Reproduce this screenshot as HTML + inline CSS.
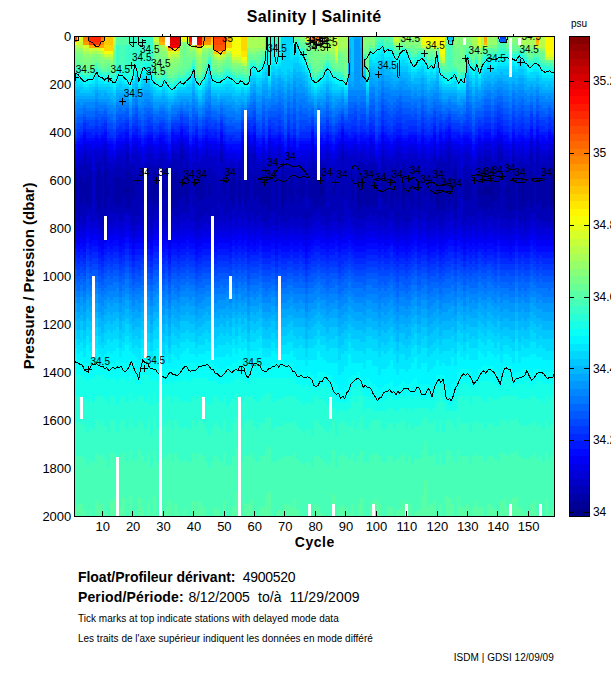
<!DOCTYPE html><html><head><meta charset="utf-8"><title>Salinity</title><style>html,body{margin:0;padding:0;background:#fff;font-family:"Liberation Sans",sans-serif}body{width:611px;height:675px;overflow:hidden;position:relative}</style></head><body><svg width="611" height="675" viewBox="0 0 611 675" style="position:absolute;left:0;top:0">
<defs><clipPath id="cp"><rect x="74" y="36" width="480" height="480"/></clipPath></defs>
<rect x="74" y="36" width="480" height="480" fill="#40ffc0"/>
<g clip-path="url(#cp)">
<g shape-rendering="crispEdges" transform="translate(73.75 36) scale(3.042000 3.000000)">
<path fill="#000097" d="M17 51h1v1h-1zM26 49h1v4h-1zM68 46h1v11h-1zM81 50h1v3h-1zM93 47h1v9h-1zM96 51h1v1h-1zM108 49h1v5h-1zM119 47h1v9h-1zM133 51h1v2h-1zM135 50h1v3h-1zM136 50h1v3h-1zM137 48h1v7h-1zM139 50h1v3h-1zM142 51h1v1h-1zM146 51h1v1h-1zM147 47h1v8h-1zM157 46h1v10h-1z"/>
<path fill="#0000a7" d="M0 48h1v6h-1zM2 47h1v9h-1zM3 49h1v5h-1zM4 47h1v9h-1zM5 45h1v12h-1zM7 47h1v8h-1zM8 45h1v13h-1zM10 45h1v12h-1zM11 50h1v3h-1zM13 47h1v9h-1zM14 47h1v9h-1zM15 47h1v10h-1zM16 48h1v6h-1zM17 45h1v6h-1zM17 52h1v5h-1zM18 46h1v11h-1zM19 48h1v6h-1zM24 47h1v9h-1zM25 48h1v7h-1zM26 44h1v5h-1zM26 53h1v4h-1zM27 46h1v10h-1zM28 46h1v11h-1zM29 48h1v6h-1zM30 51h1v1h-1zM31 46h1v15h-1zM32 46h1v11h-1zM33 45h1v12h-1zM34 47h1v8h-1zM35 40h1v1h-1zM35 48h1v6h-1zM36 49h1v4h-1zM37 47h1v9h-1zM40 49h1v4h-1zM41 47h1v8h-1zM42 48h1v6h-1zM44 49h1v4h-1zM49 50h1v3h-1zM51 48h1v7h-1zM52 47h1v9h-1zM54 47h1v9h-1zM56 47h1v9h-1zM57 48h1v6h-1zM59 47h1v8h-1zM60 49h1v4h-1zM61 47h1v9h-1zM62 46h1v11h-1zM63 47h1v9h-1zM64 45h1v13h-1zM66 47h1v10h-1zM68 43h1v3h-1zM68 57h1v2h-1zM69 48h1v7h-1zM70 50h1v3h-1zM71 47h1v9h-1zM73 51h1v2h-1zM74 47h1v9h-1zM75 48h1v6h-1zM76 59h1v2h-1zM77 48h1v6h-1zM78 47h1v8h-1zM79 46h1v11h-1zM80 47h1v9h-1zM81 44h1v6h-1zM81 53h1v4h-1zM82 47h1v9h-1zM85 50h1v3h-1zM88 40h1v1h-1zM88 50h1v3h-1zM91 47h1v8h-1zM93 43h1v4h-1zM93 56h1v3h-1zM94 46h1v11h-1zM95 47h1v9h-1zM96 45h1v6h-1zM96 52h1v5h-1zM97 47h1v9h-1zM98 46h1v11h-1zM99 45h1v12h-1zM101 48h1v6h-1zM102 47h1v9h-1zM104 46h1v11h-1zM105 51h1v2h-1zM106 47h1v8h-1zM106 59h1v1h-1zM108 44h1v5h-1zM108 54h1v4h-1zM109 50h1v3h-1zM110 48h1v7h-1zM111 45h1v12h-1zM113 46h1v11h-1zM115 50h1v3h-1zM116 51h1v1h-1zM117 47h1v8h-1zM118 50h1v3h-1zM119 44h1v3h-1zM119 56h1v2h-1zM120 47h1v11h-1zM121 45h1v13h-1zM122 48h1v7h-1zM123 47h1v9h-1zM124 49h1v5h-1zM125 45h1v13h-1zM128 47h1v8h-1zM129 48h1v7h-1zM130 49h1v5h-1zM133 45h1v6h-1zM133 53h1v4h-1zM134 45h1v12h-1zM135 44h1v6h-1zM135 53h1v5h-1zM136 44h1v6h-1zM136 53h1v4h-1zM137 44h1v4h-1zM137 55h1v3h-1zM138 47h1v8h-1zM139 44h1v6h-1zM139 53h1v4h-1zM141 51h1v2h-1zM142 45h1v6h-1zM142 52h1v6h-1zM143 45h1v14h-1zM144 45h1v13h-1zM146 45h1v6h-1zM146 52h1v6h-1zM147 44h1v3h-1zM147 55h1v3h-1zM148 46h1v11h-1zM149 47h1v8h-1zM150 45h1v12h-1zM152 47h1v9h-1zM153 48h1v7h-1zM154 45h1v13h-1zM155 47h1v10h-1zM156 46h1v11h-1zM157 43h1v3h-1zM157 56h1v3h-1z"/>
<path fill="#0000b7" d="M0 44h1v4h-1zM0 54h1v5h-1zM1 46h1v16h-1zM2 43h1v4h-1zM2 56h1v4h-1zM3 39h1v10h-1zM3 54h1v8h-1zM4 43h1v4h-1zM4 56h1v2h-1zM5 42h1v3h-1zM5 57h1v2h-1zM7 42h1v5h-1zM7 55h1v4h-1zM8 42h1v3h-1zM8 58h1v3h-1zM9 46h1v17h-1zM10 40h1v5h-1zM10 57h1v3h-1zM11 44h1v6h-1zM11 53h1v5h-1zM12 45h1v14h-1zM13 44h1v3h-1zM13 56h1v3h-1zM14 43h1v4h-1zM14 56h1v3h-1zM15 42h1v5h-1zM15 57h1v5h-1zM16 44h1v4h-1zM16 54h1v5h-1zM17 39h1v6h-1zM17 57h1v2h-1zM18 43h1v3h-1zM18 57h1v3h-1zM19 43h1v5h-1zM19 54h1v8h-1zM20 46h1v14h-1zM21 45h1v15h-1zM22 47h1v9h-1zM23 45h1v16h-1zM24 42h1v5h-1zM24 56h1v4h-1zM25 43h1v5h-1zM25 55h1v7h-1zM26 43h1v1h-1zM26 57h1v2h-1zM27 43h1v3h-1zM27 56h1v2h-1zM28 41h1v5h-1zM28 57h1v2h-1zM29 44h1v4h-1zM29 54h1v8h-1zM30 45h1v6h-1zM30 52h1v7h-1zM31 43h1v3h-1zM31 61h1v2h-1zM32 39h1v7h-1zM32 57h1v2h-1zM33 41h1v4h-1zM33 57h1v3h-1zM34 42h1v5h-1zM34 55h1v6h-1zM35 38h1v2h-1zM35 41h1v7h-1zM35 54h1v5h-1zM36 44h1v5h-1zM36 53h1v6h-1zM37 42h1v5h-1zM37 56h1v3h-1zM38 49h1v4h-1zM39 47h1v10h-1zM40 44h1v5h-1zM40 53h1v9h-1zM41 44h1v3h-1zM41 55h1v6h-1zM42 44h1v4h-1zM42 54h1v6h-1zM43 45h1v14h-1zM44 44h1v5h-1zM44 53h1v7h-1zM45 45h1v12h-1zM46 46h1v15h-1zM47 47h1v8h-1zM47 58h1v2h-1zM48 39h1v3h-1zM48 47h1v10h-1zM49 44h1v6h-1zM49 53h1v7h-1zM50 45h1v14h-1zM51 44h1v4h-1zM51 55h1v6h-1zM52 44h1v3h-1zM52 56h1v2h-1zM53 48h1v6h-1zM53 59h1v1h-1zM54 44h1v3h-1zM54 56h1v3h-1zM55 48h1v6h-1zM56 43h1v4h-1zM56 56h1v2h-1zM57 39h1v9h-1zM57 54h1v8h-1zM58 45h1v14h-1zM59 39h1v8h-1zM59 55h1v6h-1zM60 44h1v5h-1zM60 53h1v7h-1zM61 44h1v3h-1zM61 56h1v3h-1zM62 43h1v3h-1zM62 57h1v5h-1zM63 44h1v3h-1zM63 56h1v6h-1zM64 41h1v4h-1zM64 58h1v3h-1zM65 46h1v13h-1zM66 43h1v4h-1zM66 57h1v6h-1zM67 47h1v13h-1zM68 42h1v1h-1zM68 59h1v3h-1zM69 44h1v4h-1zM69 55h1v7h-1zM70 44h1v6h-1zM70 53h1v8h-1zM71 43h1v4h-1zM71 56h1v4h-1zM72 45h1v16h-1zM73 45h1v6h-1zM73 53h1v8h-1zM74 43h1v4h-1zM74 56h1v4h-1zM75 44h1v4h-1zM75 54h1v7h-1zM76 50h1v3h-1zM76 57h1v2h-1zM76 61h1v3h-1zM77 44h1v4h-1zM77 54h1v7h-1zM78 40h1v7h-1zM78 55h1v5h-1zM79 43h1v3h-1zM79 57h1v2h-1zM80 40h1v7h-1zM80 56h1v2h-1zM81 42h1v2h-1zM81 57h1v3h-1zM82 43h1v4h-1zM82 56h1v4h-1zM83 48h1v7h-1zM83 57h1v5h-1zM84 45h1v15h-1zM85 44h1v6h-1zM85 53h1v6h-1zM86 45h1v13h-1zM87 47h1v15h-1zM88 38h1v2h-1zM88 41h1v9h-1zM88 53h1v7h-1zM89 47h1v8h-1zM90 45h1v13h-1zM91 43h1v4h-1zM91 55h1v5h-1zM92 46h1v15h-1zM93 42h1v1h-1zM93 59h1v2h-1zM94 42h1v4h-1zM94 57h1v4h-1zM95 43h1v4h-1zM95 56h1v5h-1zM96 43h1v2h-1zM96 57h1v3h-1zM97 42h1v5h-1zM97 56h1v3h-1zM98 42h1v4h-1zM98 57h1v3h-1zM99 43h1v2h-1zM99 57h1v2h-1zM100 49h1v5h-1zM100 58h1v3h-1zM101 40h1v8h-1zM101 54h1v6h-1zM102 43h1v4h-1zM102 56h1v5h-1zM103 45h1v16h-1zM104 43h1v3h-1zM104 57h1v2h-1zM105 44h1v7h-1zM105 53h1v8h-1zM106 42h1v5h-1zM106 55h1v4h-1zM106 60h1v3h-1zM107 46h1v15h-1zM108 42h1v2h-1zM108 58h1v4h-1zM109 44h1v6h-1zM109 53h1v9h-1zM110 43h1v5h-1zM110 55h1v7h-1zM111 42h1v3h-1zM111 57h1v3h-1zM112 45h1v13h-1zM113 43h1v3h-1zM113 57h1v4h-1zM114 46h1v12h-1zM115 44h1v6h-1zM115 53h1v6h-1zM116 45h1v6h-1zM116 52h1v10h-1zM117 44h1v3h-1zM117 55h1v6h-1zM118 40h1v2h-1zM118 44h1v6h-1zM118 53h1v8h-1zM119 42h1v2h-1zM119 58h1v2h-1zM120 40h1v7h-1zM120 58h1v5h-1zM121 42h1v3h-1zM121 58h1v3h-1zM122 42h1v6h-1zM122 55h1v4h-1zM123 39h1v8h-1zM123 56h1v3h-1zM124 44h1v5h-1zM124 54h1v4h-1zM125 42h1v3h-1zM125 58h1v3h-1zM126 47h1v10h-1zM127 49h1v5h-1zM128 43h1v4h-1zM128 55h1v7h-1zM129 43h1v5h-1zM129 55h1v5h-1zM130 44h1v5h-1zM130 54h1v7h-1zM131 46h1v14h-1zM132 47h1v14h-1zM133 41h1v4h-1zM133 57h1v2h-1zM134 42h1v3h-1zM134 57h1v3h-1zM135 40h1v4h-1zM135 58h1v3h-1zM136 40h1v4h-1zM136 57h1v3h-1zM137 42h1v2h-1zM137 58h1v2h-1zM138 42h1v5h-1zM138 55h1v6h-1zM139 38h1v6h-1zM139 57h1v2h-1zM140 39h1v3h-1zM140 45h1v16h-1zM141 45h1v6h-1zM141 53h1v8h-1zM142 42h1v3h-1zM142 58h1v3h-1zM143 43h1v2h-1zM143 59h1v3h-1zM144 40h1v5h-1zM144 58h1v3h-1zM145 45h1v13h-1zM146 42h1v3h-1zM146 58h1v4h-1zM147 41h1v3h-1zM147 58h1v3h-1zM148 43h1v3h-1zM148 57h1v5h-1zM149 43h1v4h-1zM149 55h1v6h-1zM150 39h1v6h-1zM150 57h1v2h-1zM151 46h1v13h-1zM152 39h1v8h-1zM152 56h1v5h-1zM153 43h1v5h-1zM153 55h1v6h-1zM154 42h1v3h-1zM154 58h1v4h-1zM155 43h1v4h-1zM155 57h1v5h-1zM156 40h1v6h-1zM156 57h1v5h-1zM157 41h1v2h-1zM157 59h1v3h-1z"/>
<path fill="#0000c7" d="M0 43h1v1h-1zM0 59h1v3h-1zM1 42h1v4h-1zM1 62h1v3h-1zM2 41h1v2h-1zM2 60h1v3h-1zM3 38h1v1h-1zM3 62h1v2h-1zM4 40h1v3h-1zM4 58h1v2h-1zM5 40h1v2h-1zM5 59h1v3h-1zM6 45h1v17h-1zM7 39h1v3h-1zM7 59h1v2h-1zM8 40h1v2h-1zM8 61h1v3h-1zM9 39h1v7h-1zM9 63h1v2h-1zM10 38h1v2h-1zM10 60h1v3h-1zM11 42h1v2h-1zM11 58h1v4h-1zM12 42h1v3h-1zM12 59h1v4h-1zM13 42h1v2h-1zM13 59h1v3h-1zM14 40h1v3h-1zM14 59h1v2h-1zM15 39h1v3h-1zM15 62h1v2h-1zM16 40h1v4h-1zM16 59h1v3h-1zM17 38h1v1h-1zM17 59h1v1h-1zM18 42h1v1h-1zM18 60h1v3h-1zM19 39h1v4h-1zM19 62h1v3h-1zM20 39h1v7h-1zM20 60h1v3h-1zM21 40h1v5h-1zM21 60h1v3h-1zM22 43h1v4h-1zM22 56h1v6h-1zM23 42h1v3h-1zM23 61h1v3h-1zM24 39h1v3h-1zM24 60h1v3h-1zM25 39h1v4h-1zM25 62h1v3h-1zM26 41h1v2h-1zM26 59h1v3h-1zM27 41h1v2h-1zM27 58h1v3h-1zM28 39h1v2h-1zM28 59h1v2h-1zM29 39h1v5h-1zM29 62h1v2h-1zM30 41h1v4h-1zM30 59h1v3h-1zM31 42h1v1h-1zM31 63h1v3h-1zM32 38h1v1h-1zM32 59h1v3h-1zM33 39h1v2h-1zM33 60h1v3h-1zM34 39h1v3h-1zM34 61h1v3h-1zM35 36h1v2h-1zM35 59h1v3h-1zM36 38h1v6h-1zM36 59h1v3h-1zM37 39h1v3h-1zM37 59h1v2h-1zM38 44h1v5h-1zM38 53h1v9h-1zM39 42h1v5h-1zM39 57h1v5h-1zM40 38h1v6h-1zM40 62h1v3h-1zM41 42h1v2h-1zM41 61h1v3h-1zM42 40h1v4h-1zM42 60h1v3h-1zM43 38h1v7h-1zM43 59h1v3h-1zM44 40h1v4h-1zM44 60h1v3h-1zM45 40h1v5h-1zM45 57h1v4h-1zM46 40h1v6h-1zM46 61h1v3h-1zM47 43h1v4h-1zM47 55h1v3h-1zM47 60h1v3h-1zM48 38h1v1h-1zM48 42h1v5h-1zM48 57h1v5h-1zM49 41h1v3h-1zM49 60h1v3h-1zM50 43h1v2h-1zM50 59h1v3h-1zM51 42h1v2h-1zM51 61h1v3h-1zM52 42h1v2h-1zM52 58h1v3h-1zM53 44h1v4h-1zM53 54h1v5h-1zM53 60h1v3h-1zM54 42h1v2h-1zM54 59h1v2h-1zM55 39h1v9h-1zM55 54h1v9h-1zM56 42h1v1h-1zM56 58h1v3h-1zM57 37h1v2h-1zM57 62h1v2h-1zM58 39h1v6h-1zM58 59h1v3h-1zM59 37h1v2h-1zM59 61h1v2h-1zM60 42h1v2h-1zM60 60h1v3h-1zM61 42h1v2h-1zM61 59h1v3h-1zM62 40h1v3h-1zM62 62h1v2h-1zM63 42h1v2h-1zM63 62h1v2h-1zM64 39h1v2h-1zM64 61h1v3h-1zM65 41h1v5h-1zM65 59h1v4h-1zM66 41h1v2h-1zM66 63h1v2h-1zM67 39h1v8h-1zM67 60h1v3h-1zM68 41h1v1h-1zM68 62h1v2h-1zM69 43h1v1h-1zM69 62h1v2h-1zM70 39h1v5h-1zM70 61h1v3h-1zM71 42h1v1h-1zM71 60h1v3h-1zM72 41h1v4h-1zM72 61h1v3h-1zM73 43h1v2h-1zM73 61h1v3h-1zM74 42h1v1h-1zM74 60h1v3h-1zM75 42h1v2h-1zM75 61h1v3h-1zM76 44h1v6h-1zM76 53h1v4h-1zM76 64h1v2h-1zM77 42h1v2h-1zM77 61h1v3h-1zM78 38h1v2h-1zM78 60h1v3h-1zM79 42h1v1h-1zM79 59h1v3h-1zM80 38h1v2h-1zM80 58h1v3h-1zM81 41h1v1h-1zM81 60h1v3h-1zM82 42h1v1h-1zM82 60h1v3h-1zM83 39h1v9h-1zM83 55h1v2h-1zM83 62h1v2h-1zM84 42h1v3h-1zM84 60h1v3h-1zM85 43h1v1h-1zM85 59h1v3h-1zM86 41h1v4h-1zM86 58h1v4h-1zM87 40h1v7h-1zM87 62h1v2h-1zM88 36h1v2h-1zM88 60h1v3h-1zM89 39h1v8h-1zM89 55h1v7h-1zM90 40h1v5h-1zM90 58h1v3h-1zM91 40h1v3h-1zM91 60h1v3h-1zM92 39h1v7h-1zM92 61h1v3h-1zM93 41h1v1h-1zM93 61h1v3h-1zM94 39h1v3h-1zM94 61h1v3h-1zM95 40h1v3h-1zM95 61h1v3h-1zM96 41h1v2h-1zM96 60h1v2h-1zM97 39h1v3h-1zM97 59h1v3h-1zM98 40h1v2h-1zM98 60h1v3h-1zM99 42h1v1h-1zM99 59h1v3h-1zM100 44h1v5h-1zM100 54h1v4h-1zM100 61h1v3h-1zM101 38h1v2h-1zM101 60h1v3h-1zM102 40h1v3h-1zM102 61h1v3h-1zM103 41h1v4h-1zM103 61h1v2h-1zM104 41h1v2h-1zM104 59h1v3h-1zM105 40h1v4h-1zM105 61h1v3h-1zM106 39h1v3h-1zM106 63h1v2h-1zM107 39h1v7h-1zM107 61h1v3h-1zM108 41h1v1h-1zM108 62h1v2h-1zM109 41h1v3h-1zM109 62h1v3h-1zM110 39h1v4h-1zM110 62h1v2h-1zM111 40h1v2h-1zM111 60h1v2h-1zM112 39h1v6h-1zM112 58h1v3h-1zM113 41h1v2h-1zM113 61h1v3h-1zM114 39h1v7h-1zM114 58h1v4h-1zM115 41h1v3h-1zM115 59h1v3h-1zM116 42h1v3h-1zM116 62h1v3h-1zM117 41h1v3h-1zM117 61h1v3h-1zM118 38h1v2h-1zM118 42h1v2h-1zM118 61h1v3h-1zM119 41h1v1h-1zM119 60h1v3h-1zM120 38h1v2h-1zM120 63h1v2h-1zM121 40h1v2h-1zM121 61h1v3h-1zM122 38h1v4h-1zM122 59h1v3h-1zM123 37h1v2h-1zM123 59h1v3h-1zM124 40h1v4h-1zM124 58h1v3h-1zM125 40h1v2h-1zM125 61h1v3h-1zM126 40h1v7h-1zM126 57h1v4h-1zM127 44h1v5h-1zM127 54h1v9h-1zM128 39h1v4h-1zM128 62h1v3h-1zM129 39h1v4h-1zM129 60h1v3h-1zM130 40h1v4h-1zM130 61h1v3h-1zM131 43h1v3h-1zM131 60h1v3h-1zM132 42h1v5h-1zM132 61h1v3h-1zM133 39h1v2h-1zM133 59h1v3h-1zM134 40h1v2h-1zM134 60h1v3h-1zM135 38h1v2h-1zM135 61h1v3h-1zM136 38h1v2h-1zM136 60h1v2h-1zM137 41h1v1h-1zM137 60h1v3h-1zM138 39h1v3h-1zM138 61h1v3h-1zM139 36h1v2h-1zM139 59h1v3h-1zM140 37h1v2h-1zM140 42h1v3h-1zM140 61h1v3h-1zM141 40h1v5h-1zM141 61h1v3h-1zM142 40h1v2h-1zM142 61h1v3h-1zM143 42h1v1h-1zM143 62h1v3h-1zM144 38h1v2h-1zM144 61h1v3h-1zM145 41h1v4h-1zM145 58h1v3h-1zM146 40h1v2h-1zM146 62h1v2h-1zM147 39h1v2h-1zM147 61h1v2h-1zM148 41h1v2h-1zM148 62h1v3h-1zM149 40h1v3h-1zM149 61h1v3h-1zM150 37h1v2h-1zM150 59h1v3h-1zM151 42h1v4h-1zM151 59h1v3h-1zM152 37h1v2h-1zM152 61h1v3h-1zM153 40h1v3h-1zM153 61h1v2h-1zM154 39h1v3h-1zM154 62h1v2h-1zM155 40h1v3h-1zM155 62h1v2h-1zM156 38h1v2h-1zM156 62h1v2h-1zM157 39h1v2h-1zM157 62h1v2h-1z"/>
<path fill="#0000d7" d="M0 41h1v2h-1zM0 62h1v3h-1zM1 39h1v3h-1zM1 65h1v2h-1zM2 39h1v2h-1zM2 63h1v2h-1zM3 36h1v2h-1zM3 64h1v2h-1zM4 38h1v2h-1zM4 60h1v3h-1zM5 38h1v2h-1zM5 62h1v3h-1zM6 38h1v7h-1zM6 62h1v2h-1zM7 37h1v2h-1zM7 61h1v3h-1zM8 38h1v2h-1zM8 64h1v2h-1zM9 37h1v2h-1zM9 65h1v2h-1zM10 36h1v2h-1zM10 63h1v2h-1zM11 40h1v2h-1zM11 62h1v2h-1zM12 40h1v2h-1zM12 63h1v2h-1zM13 41h1v1h-1zM13 62h1v2h-1zM14 38h1v2h-1zM14 61h1v3h-1zM15 38h1v1h-1zM15 64h1v2h-1zM16 38h1v2h-1zM16 62h1v3h-1zM17 36h1v2h-1zM17 60h1v3h-1zM18 40h1v2h-1zM18 63h1v3h-1zM19 37h1v2h-1zM19 65h1v2h-1zM20 37h1v2h-1zM20 63h1v2h-1zM21 38h1v2h-1zM21 63h1v2h-1zM22 41h1v2h-1zM22 62h1v3h-1zM23 39h1v3h-1zM23 64h1v2h-1zM24 37h1v2h-1zM24 63h1v2h-1zM25 37h1v2h-1zM25 65h1v2h-1zM26 40h1v1h-1zM26 62h1v2h-1zM27 39h1v2h-1zM27 61h1v3h-1zM28 37h1v2h-1zM28 61h1v3h-1zM29 38h1v1h-1zM29 64h1v2h-1zM30 39h1v2h-1zM30 62h1v3h-1zM31 41h1v1h-1zM31 66h1v2h-1zM32 36h1v2h-1zM32 62h1v3h-1zM33 37h1v2h-1zM33 63h1v2h-1zM34 37h1v2h-1zM34 64h1v2h-1zM35 35h1v1h-1zM35 62h1v3h-1zM36 37h1v1h-1zM36 62h1v3h-1zM37 37h1v2h-1zM37 61h1v3h-1zM38 41h1v3h-1zM38 62h1v3h-1zM39 39h1v3h-1zM39 62h1v3h-1zM40 37h1v1h-1zM40 65h1v2h-1zM41 40h1v2h-1zM41 64h1v2h-1zM42 39h1v1h-1zM42 63h1v2h-1zM43 37h1v1h-1zM43 62h1v3h-1zM44 38h1v2h-1zM44 63h1v2h-1zM45 38h1v2h-1zM45 61h1v3h-1zM46 38h1v2h-1zM46 64h1v2h-1zM47 40h1v3h-1zM47 63h1v2h-1zM48 36h1v2h-1zM48 62h1v3h-1zM49 39h1v2h-1zM49 63h1v2h-1zM50 41h1v2h-1zM50 62h1v3h-1zM51 40h1v2h-1zM51 64h1v2h-1zM52 41h1v1h-1zM52 61h1v3h-1zM53 42h1v2h-1zM53 63h1v2h-1zM54 41h1v1h-1zM54 61h1v3h-1zM55 37h1v2h-1zM55 63h1v2h-1zM56 40h1v2h-1zM56 61h1v3h-1zM57 36h1v1h-1zM57 64h1v2h-1zM58 37h1v2h-1zM58 62h1v3h-1zM59 36h1v1h-1zM59 63h1v3h-1zM60 40h1v2h-1zM60 63h1v2h-1zM61 41h1v1h-1zM61 62h1v2h-1zM62 38h1v2h-1zM62 64h1v2h-1zM63 41h1v1h-1zM63 64h1v2h-1zM64 37h1v2h-1zM64 64h1v2h-1zM65 39h1v2h-1zM65 63h1v2h-1zM66 39h1v2h-1zM66 65h1v2h-1zM67 37h1v2h-1zM67 63h1v2h-1zM68 39h1v2h-1zM68 64h1v2h-1zM69 41h1v2h-1zM69 64h1v2h-1zM70 37h1v2h-1zM70 64h1v2h-1zM71 40h1v2h-1zM71 63h1v2h-1zM72 39h1v2h-1zM72 64h1v2h-1zM73 41h1v2h-1zM73 64h1v2h-1zM74 40h1v2h-1zM74 63h1v2h-1zM75 40h1v2h-1zM75 64h1v2h-1zM76 40h1v4h-1zM76 66h1v2h-1zM77 39h1v3h-1zM77 64h1v2h-1zM78 36h1v2h-1zM78 63h1v2h-1zM79 41h1v1h-1zM79 62h1v3h-1zM80 37h1v1h-1zM80 61h1v3h-1zM81 39h1v2h-1zM81 63h1v2h-1zM82 40h1v2h-1zM82 63h1v2h-1zM83 38h1v1h-1zM83 64h1v2h-1zM84 39h1v3h-1zM84 63h1v2h-1zM85 41h1v2h-1zM85 62h1v3h-1zM86 39h1v2h-1zM86 62h1v3h-1zM87 38h1v2h-1zM87 64h1v2h-1zM88 35h1v1h-1zM88 63h1v2h-1zM89 38h1v1h-1zM89 62h1v3h-1zM90 38h1v2h-1zM90 61h1v3h-1zM91 38h1v2h-1zM91 63h1v2h-1zM92 37h1v2h-1zM92 64h1v2h-1zM93 39h1v2h-1zM93 64h1v2h-1zM94 38h1v1h-1zM94 64h1v2h-1zM95 38h1v2h-1zM95 64h1v2h-1zM96 39h1v2h-1zM96 62h1v3h-1zM97 37h1v2h-1zM97 62h1v3h-1zM98 38h1v2h-1zM98 63h1v2h-1zM99 41h1v1h-1zM99 62h1v3h-1zM100 40h1v4h-1zM100 64h1v2h-1zM101 36h1v2h-1zM101 63h1v2h-1zM102 38h1v2h-1zM102 64h1v2h-1zM103 39h1v2h-1zM103 63h1v3h-1zM104 40h1v1h-1zM104 62h1v3h-1zM105 38h1v2h-1zM105 64h1v2h-1zM106 37h1v2h-1zM106 65h1v2h-1zM107 37h1v2h-1zM107 64h1v2h-1zM108 39h1v2h-1zM108 64h1v2h-1zM109 39h1v2h-1zM109 65h1v2h-1zM110 37h1v2h-1zM110 64h1v2h-1zM111 38h1v2h-1zM111 62h1v3h-1zM112 38h1v1h-1zM112 61h1v3h-1zM113 40h1v1h-1zM113 64h1v2h-1zM114 37h1v2h-1zM114 62h1v3h-1zM115 39h1v2h-1zM115 62h1v3h-1zM116 40h1v2h-1zM116 65h1v2h-1zM117 39h1v2h-1zM117 64h1v2h-1zM118 36h1v2h-1zM118 64h1v2h-1zM119 40h1v1h-1zM119 63h1v2h-1zM120 36h1v2h-1zM120 65h1v2h-1zM121 38h1v2h-1zM121 64h1v2h-1zM122 36h1v2h-1zM122 62h1v3h-1zM123 35h1v2h-1zM123 62h1v3h-1zM124 38h1v2h-1zM124 61h1v3h-1zM125 38h1v2h-1zM125 64h1v2h-1zM126 38h1v2h-1zM126 61h1v3h-1zM127 39h1v5h-1zM127 63h1v2h-1zM128 38h1v1h-1zM128 65h1v2h-1zM129 37h1v2h-1zM129 63h1v2h-1zM130 38h1v2h-1zM130 64h1v2h-1zM131 41h1v2h-1zM131 63h1v2h-1zM132 39h1v3h-1zM132 64h1v2h-1zM133 37h1v2h-1zM133 62h1v3h-1zM134 38h1v2h-1zM134 63h1v2h-1zM135 36h1v2h-1zM135 64h1v2h-1zM136 36h1v2h-1zM136 62h1v3h-1zM137 39h1v2h-1zM137 63h1v2h-1zM138 37h1v2h-1zM138 64h1v2h-1zM139 35h1v1h-1zM139 62h1v3h-1zM140 36h1v1h-1zM140 64h1v2h-1zM141 38h1v2h-1zM141 64h1v2h-1zM142 38h1v2h-1zM142 64h1v2h-1zM143 40h1v2h-1zM143 65h1v2h-1zM144 36h1v2h-1zM144 64h1v2h-1zM145 39h1v2h-1zM145 61h1v3h-1zM146 38h1v2h-1zM146 64h1v2h-1zM147 37h1v2h-1zM147 63h1v3h-1zM148 39h1v2h-1zM148 65h1v2h-1zM149 38h1v2h-1zM149 64h1v2h-1zM150 35h1v2h-1zM150 62h1v2h-1zM151 39h1v3h-1zM151 62h1v3h-1zM152 35h1v2h-1zM152 64h1v2h-1zM153 38h1v2h-1zM153 63h1v3h-1zM154 38h1v1h-1zM154 64h1v2h-1zM155 38h1v2h-1zM155 64h1v2h-1zM156 36h1v2h-1zM156 64h1v2h-1zM157 37h1v2h-1zM157 64h1v2h-1z"/>
<path fill="#0000e7" d="M0 40h1v1h-1zM0 65h1v2h-1zM1 38h1v1h-1zM1 67h1v2h-1zM2 37h1v2h-1zM2 65h1v2h-1zM3 35h1v1h-1zM3 66h1v2h-1zM4 36h1v2h-1zM4 63h1v2h-1zM5 36h1v2h-1zM5 65h1v2h-1zM6 37h1v1h-1zM6 64h1v2h-1zM7 36h1v1h-1zM7 64h1v2h-1zM8 37h1v1h-1zM8 66h1v2h-1zM9 36h1v1h-1zM9 67h1v2h-1zM10 35h1v1h-1zM10 65h1v2h-1zM11 38h1v2h-1zM11 64h1v2h-1zM12 38h1v2h-1zM12 65h1v2h-1zM13 40h1v1h-1zM13 64h1v2h-1zM14 37h1v1h-1zM14 64h1v2h-1zM15 36h1v2h-1zM15 66h1v2h-1zM16 36h1v2h-1zM16 65h1v2h-1zM17 35h1v1h-1zM17 63h1v2h-1zM18 39h1v1h-1zM18 66h1v1h-1zM19 36h1v1h-1zM19 67h1v2h-1zM20 35h1v2h-1zM20 65h1v2h-1zM21 37h1v1h-1zM21 65h1v2h-1zM22 39h1v2h-1zM22 65h1v2h-1zM23 37h1v2h-1zM23 66h1v2h-1zM24 36h1v1h-1zM24 65h1v2h-1zM25 36h1v1h-1zM25 67h1v2h-1zM26 38h1v2h-1zM26 64h1v2h-1zM27 37h1v2h-1zM27 64h1v2h-1zM28 35h1v2h-1zM28 64h1v2h-1zM29 36h1v2h-1zM29 66h1v2h-1zM30 38h1v1h-1zM30 65h1v2h-1zM31 39h1v2h-1zM31 68h1v2h-1zM32 35h1v1h-1zM32 65h1v2h-1zM33 36h1v1h-1zM33 65h1v2h-1zM34 35h1v2h-1zM34 66h1v2h-1zM35 34h1v1h-1zM35 65h1v2h-1zM36 35h1v2h-1zM36 65h1v2h-1zM37 36h1v1h-1zM37 64h1v2h-1zM38 39h1v2h-1zM38 65h1v2h-1zM39 37h1v2h-1zM39 65h1v2h-1zM40 35h1v2h-1zM40 67h1v2h-1zM41 38h1v2h-1zM41 66h1v2h-1zM42 37h1v2h-1zM42 65h1v2h-1zM43 35h1v2h-1zM43 65h1v2h-1zM44 36h1v2h-1zM44 65h1v2h-1zM45 37h1v1h-1zM45 64h1v2h-1zM46 36h1v2h-1zM46 66h1v2h-1zM47 38h1v2h-1zM47 65h1v2h-1zM48 35h1v1h-1zM48 65h1v2h-1zM49 37h1v2h-1zM49 65h1v2h-1zM50 39h1v2h-1zM50 65h1v2h-1zM51 39h1v1h-1zM51 66h1v2h-1zM52 39h1v2h-1zM52 64h1v2h-1zM53 39h1v3h-1zM53 65h1v2h-1zM54 40h1v1h-1zM54 64h1v2h-1zM55 36h1v1h-1zM55 65h1v2h-1zM56 38h1v2h-1zM56 64h1v2h-1zM57 34h1v2h-1zM57 66h1v2h-1zM58 36h1v1h-1zM58 65h1v2h-1zM59 34h1v2h-1zM59 66h1v2h-1zM60 39h1v1h-1zM60 65h1v2h-1zM61 39h1v2h-1zM61 64h1v2h-1zM62 37h1v1h-1zM62 66h1v2h-1zM63 39h1v2h-1zM63 66h1v2h-1zM64 35h1v2h-1zM64 66h1v2h-1zM65 37h1v2h-1zM65 65h1v2h-1zM66 37h1v2h-1zM66 67h1v2h-1zM67 36h1v1h-1zM67 65h1v2h-1zM68 38h1v1h-1zM68 66h1v2h-1zM69 40h1v1h-1zM69 66h1v2h-1zM70 36h1v1h-1zM70 66h1v2h-1zM71 38h1v2h-1zM71 65h1v2h-1zM72 37h1v2h-1zM72 66h1v2h-1zM73 40h1v1h-1zM73 66h1v2h-1zM74 38h1v2h-1zM74 65h1v2h-1zM75 38h1v2h-1zM75 66h1v2h-1zM76 38h1v2h-1zM76 68h1v2h-1zM77 38h1v1h-1zM77 66h1v2h-1zM78 35h1v1h-1zM78 65h1v2h-1zM79 39h1v2h-1zM79 65h1v2h-1zM80 35h1v2h-1zM80 64h1v2h-1zM81 37h1v2h-1zM81 65h1v2h-1zM82 38h1v2h-1zM82 65h1v2h-1zM83 36h1v2h-1zM83 66h1v2h-1zM84 38h1v1h-1zM84 65h1v2h-1zM85 39h1v2h-1zM85 65h1v2h-1zM86 37h1v2h-1zM86 65h1v1h-1zM87 36h1v2h-1zM87 66h1v2h-1zM88 34h1v1h-1zM88 65h1v2h-1zM89 36h1v2h-1zM89 65h1v2h-1zM90 37h1v1h-1zM90 64h1v2h-1zM91 36h1v2h-1zM91 65h1v2h-1zM92 36h1v1h-1zM92 66h1v2h-1zM93 38h1v1h-1zM93 66h1v2h-1zM94 36h1v2h-1zM94 66h1v2h-1zM95 36h1v2h-1zM95 66h1v2h-1zM96 37h1v2h-1zM96 65h1v2h-1zM97 35h1v2h-1zM97 65h1v2h-1zM98 36h1v2h-1zM98 65h1v2h-1zM99 40h1v1h-1zM99 65h1v2h-1zM100 38h1v2h-1zM100 66h1v2h-1zM101 35h1v1h-1zM101 65h1v2h-1zM102 36h1v2h-1zM102 66h1v2h-1zM103 37h1v2h-1zM103 66h1v2h-1zM104 38h1v2h-1zM104 65h1v2h-1zM105 36h1v2h-1zM105 66h1v2h-1zM106 35h1v2h-1zM106 67h1v2h-1zM107 35h1v2h-1zM107 66h1v2h-1zM108 37h1v2h-1zM108 66h1v2h-1zM109 37h1v2h-1zM109 67h1v2h-1zM110 36h1v1h-1zM110 66h1v2h-1zM111 36h1v2h-1zM111 65h1v2h-1zM112 36h1v2h-1zM112 64h1v2h-1zM113 38h1v2h-1zM113 66h1v2h-1zM114 35h1v2h-1zM114 65h1v2h-1zM115 37h1v2h-1zM115 65h1v2h-1zM116 38h1v2h-1zM116 67h1v2h-1zM117 37h1v2h-1zM117 66h1v2h-1zM118 35h1v1h-1zM118 66h1v2h-1zM119 38h1v2h-1zM119 65h1v2h-1zM120 35h1v1h-1zM120 67h1v2h-1zM121 36h1v2h-1zM121 66h1v2h-1zM122 35h1v1h-1zM122 65h1v2h-1zM123 34h1v1h-1zM123 65h1v2h-1zM124 36h1v2h-1zM124 64h1v2h-1zM125 36h1v2h-1zM125 66h1v2h-1zM126 36h1v2h-1zM126 64h1v2h-1zM127 37h1v2h-1zM127 65h1v2h-1zM128 36h1v2h-1zM128 67h1v2h-1zM129 36h1v1h-1zM129 65h1v2h-1zM130 36h1v2h-1zM130 66h1v2h-1zM131 40h1v1h-1zM131 65h1v2h-1zM132 37h1v2h-1zM132 66h1v2h-1zM133 35h1v2h-1zM133 65h1v2h-1zM134 36h1v2h-1zM134 65h1v2h-1zM135 35h1v1h-1zM135 66h1v2h-1zM136 35h1v1h-1zM136 65h1v2h-1zM137 37h1v2h-1zM137 65h1v2h-1zM138 35h1v2h-1zM138 66h1v2h-1zM139 34h1v1h-1zM139 65h1v2h-1zM140 34h1v2h-1zM140 66h1v2h-1zM141 36h1v2h-1zM141 66h1v2h-1zM142 36h1v2h-1zM142 66h1v2h-1zM143 38h1v2h-1zM143 67h1v2h-1zM144 35h1v1h-1zM144 66h1v2h-1zM145 37h1v2h-1zM145 64h1v2h-1zM146 36h1v2h-1zM146 66h1v2h-1zM147 35h1v2h-1zM147 66h1v2h-1zM148 37h1v2h-1zM148 67h1v2h-1zM149 36h1v2h-1zM149 66h1v2h-1zM150 34h1v1h-1zM150 64h1v2h-1zM151 37h1v2h-1zM151 65h1v2h-1zM152 34h1v1h-1zM152 66h1v2h-1zM153 36h1v2h-1zM153 66h1v2h-1zM154 36h1v2h-1zM154 66h1v2h-1zM155 36h1v2h-1zM155 66h1v2h-1zM156 35h1v1h-1zM156 66h1v2h-1zM157 36h1v1h-1zM157 66h1v2h-1z"/>
<path fill="#0000f7" d="M0 38h1v2h-1zM0 67h1v2h-1zM1 36h1v2h-1zM1 69h1v1h-1zM2 36h1v1h-1zM2 67h1v2h-1zM3 33h1v2h-1zM3 68h1v2h-1zM4 35h1v1h-1zM4 65h1v2h-1zM5 35h1v1h-1zM5 67h1v2h-1zM6 35h1v2h-1zM6 66h1v2h-1zM7 34h1v2h-1zM7 66h1v2h-1zM8 35h1v2h-1zM8 68h1v2h-1zM9 34h1v2h-1zM9 69h1v2h-1zM10 34h1v1h-1zM10 67h1v2h-1zM11 36h1v2h-1zM11 66h1v2h-1zM12 36h1v2h-1zM12 67h1v2h-1zM13 38h1v2h-1zM13 66h1v2h-1zM14 35h1v2h-1zM14 66h1v2h-1zM15 35h1v1h-1zM15 68h1v2h-1zM16 35h1v1h-1zM16 67h1v2h-1zM17 34h1v1h-1zM17 65h1v2h-1zM18 37h1v2h-1zM18 67h1v2h-1zM19 34h1v2h-1zM19 69h1v2h-1zM20 34h1v1h-1zM20 67h1v2h-1zM21 35h1v2h-1zM21 67h1v2h-1zM22 37h1v2h-1zM22 67h1v2h-1zM23 36h1v1h-1zM23 68h1v2h-1zM24 34h1v2h-1zM24 67h1v2h-1zM25 34h1v2h-1zM25 69h1v2h-1zM26 36h1v2h-1zM26 66h1v2h-1zM27 36h1v1h-1zM27 66h1v2h-1zM28 34h1v1h-1zM28 66h1v2h-1zM29 35h1v1h-1zM29 68h1v2h-1zM30 36h1v2h-1zM30 67h1v2h-1zM31 38h1v1h-1zM31 70h1v1h-1zM32 34h1v1h-1zM32 67h1v2h-1zM33 35h1v1h-1zM33 67h1v2h-1zM34 34h1v1h-1zM34 68h1v2h-1zM35 32h1v2h-1zM35 67h1v2h-1zM36 34h1v1h-1zM36 67h1v2h-1zM37 34h1v2h-1zM37 66h1v2h-1zM38 37h1v2h-1zM38 67h1v2h-1zM39 36h1v1h-1zM39 67h1v2h-1zM40 34h1v1h-1zM40 69h1v2h-1zM41 37h1v1h-1zM41 68h1v2h-1zM42 35h1v2h-1zM42 67h1v2h-1zM43 34h1v1h-1zM43 67h1v2h-1zM44 35h1v1h-1zM44 67h1v2h-1zM45 35h1v2h-1zM45 66h1v2h-1zM46 35h1v1h-1zM46 68h1v2h-1zM47 36h1v2h-1zM47 67h1v2h-1zM48 33h1v2h-1zM48 67h1v2h-1zM49 36h1v1h-1zM49 67h1v2h-1zM50 38h1v1h-1zM50 67h1v2h-1zM51 37h1v2h-1zM51 68h1v2h-1zM52 38h1v1h-1zM52 66h1v2h-1zM53 38h1v1h-1zM53 67h1v2h-1zM54 38h1v2h-1zM54 66h1v2h-1zM55 35h1v1h-1zM55 67h1v2h-1zM56 37h1v1h-1zM56 66h1v2h-1zM57 33h1v1h-1zM57 68h1v2h-1zM58 35h1v1h-1zM58 67h1v2h-1zM59 33h1v1h-1zM59 68h1v2h-1zM60 37h1v2h-1zM60 67h1v2h-1zM61 37h1v2h-1zM61 66h1v2h-1zM62 35h1v2h-1zM62 68h1v2h-1zM63 38h1v1h-1zM63 68h1v2h-1zM64 34h1v1h-1zM64 68h1v2h-1zM65 35h1v2h-1zM65 67h1v2h-1zM66 36h1v1h-1zM66 69h1v2h-1zM67 34h1v2h-1zM67 67h1v2h-1zM68 36h1v2h-1zM68 68h1v2h-1zM69 39h1v1h-1zM69 68h1v2h-1zM70 34h1v2h-1zM70 68h1v2h-1zM71 37h1v1h-1zM71 67h1v2h-1zM72 35h1v2h-1zM72 68h1v2h-1zM73 38h1v2h-1zM73 68h1v2h-1zM74 36h1v2h-1zM74 67h1v2h-1zM75 36h1v2h-1zM75 68h1v2h-1zM76 36h1v2h-1zM76 70h1v2h-1zM77 36h1v2h-1zM77 68h1v2h-1zM78 34h1v1h-1zM78 67h1v2h-1zM79 37h1v2h-1zM79 67h1v1h-1zM80 34h1v1h-1zM80 66h1v2h-1zM81 36h1v1h-1zM81 67h1v2h-1zM82 36h1v2h-1zM82 67h1v2h-1zM83 35h1v1h-1zM83 68h1v2h-1zM84 36h1v2h-1zM84 67h1v2h-1zM85 38h1v1h-1zM85 67h1v2h-1zM86 36h1v1h-1zM86 66h1v2h-1zM87 35h1v1h-1zM87 68h1v2h-1zM88 32h1v2h-1zM88 67h1v2h-1zM89 35h1v1h-1zM89 67h1v2h-1zM90 35h1v2h-1zM90 66h1v2h-1zM91 35h1v1h-1zM91 67h1v2h-1zM92 34h1v2h-1zM92 68h1v2h-1zM93 36h1v2h-1zM93 68h1v2h-1zM94 35h1v1h-1zM94 68h1v2h-1zM95 35h1v1h-1zM95 68h1v2h-1zM96 36h1v1h-1zM96 67h1v2h-1zM97 34h1v1h-1zM97 67h1v2h-1zM98 35h1v1h-1zM98 67h1v2h-1zM99 38h1v2h-1zM99 67h1v2h-1zM100 36h1v2h-1zM100 68h1v2h-1zM101 33h1v2h-1zM101 67h1v2h-1zM102 35h1v1h-1zM102 68h1v2h-1zM103 35h1v2h-1zM103 68h1v2h-1zM104 36h1v2h-1zM104 67h1v2h-1zM105 35h1v1h-1zM105 68h1v2h-1zM106 34h1v1h-1zM106 69h1v2h-1zM107 34h1v1h-1zM107 68h1v2h-1zM108 35h1v2h-1zM108 68h1v2h-1zM109 35h1v2h-1zM109 69h1v2h-1zM110 34h1v2h-1zM110 68h1v2h-1zM111 35h1v1h-1zM111 67h1v2h-1zM112 34h1v2h-1zM112 66h1v2h-1zM113 36h1v2h-1zM113 68h1v2h-1zM114 34h1v1h-1zM114 67h1v2h-1zM115 36h1v1h-1zM115 67h1v2h-1zM116 36h1v2h-1zM116 69h1v2h-1zM117 35h1v2h-1zM117 68h1v2h-1zM118 33h1v2h-1zM118 68h1v2h-1zM119 36h1v2h-1zM119 67h1v2h-1zM120 33h1v2h-1zM120 69h1v2h-1zM121 35h1v1h-1zM121 68h1v2h-1zM122 34h1v1h-1zM122 67h1v2h-1zM123 33h1v1h-1zM123 67h1v1h-1zM124 35h1v1h-1zM124 66h1v2h-1zM125 35h1v1h-1zM125 68h1v2h-1zM126 35h1v1h-1zM126 66h1v2h-1zM127 36h1v1h-1zM127 67h1v2h-1zM128 34h1v2h-1zM128 69h1v2h-1zM129 34h1v2h-1zM129 67h1v2h-1zM130 35h1v1h-1zM130 68h1v2h-1zM131 38h1v2h-1zM131 67h1v2h-1zM132 36h1v1h-1zM132 68h1v2h-1zM133 34h1v1h-1zM133 67h1v2h-1zM134 35h1v1h-1zM134 67h1v2h-1zM135 34h1v1h-1zM135 68h1v2h-1zM136 34h1v1h-1zM136 67h1v2h-1zM137 35h1v2h-1zM137 67h1v2h-1zM138 34h1v1h-1zM138 68h1v2h-1zM139 32h1v2h-1zM139 67h1v1h-1zM140 33h1v1h-1zM140 68h1v2h-1zM141 35h1v1h-1zM141 68h1v2h-1zM142 35h1v1h-1zM142 68h1v2h-1zM143 36h1v2h-1zM143 69h1v2h-1zM144 34h1v1h-1zM144 68h1v2h-1zM145 35h1v2h-1zM145 66h1v2h-1zM146 35h1v1h-1zM146 68h1v2h-1zM147 34h1v1h-1zM147 68h1v2h-1zM148 35h1v2h-1zM148 69h1v1h-1zM149 35h1v1h-1zM149 68h1v2h-1zM150 33h1v1h-1zM150 66h1v2h-1zM151 35h1v2h-1zM151 67h1v2h-1zM152 33h1v1h-1zM152 68h1v2h-1zM153 35h1v1h-1zM153 68h1v2h-1zM154 34h1v2h-1zM154 68h1v2h-1zM155 35h1v1h-1zM155 68h1v2h-1zM156 33h1v2h-1zM156 68h1v2h-1zM157 34h1v2h-1zM157 68h1v2h-1z"/>
<path fill="#0008ff" d="M0 36h1v2h-1zM0 69h1v2h-1zM1 35h1v1h-1zM1 70h1v2h-1zM2 34h1v2h-1zM2 69h1v2h-1zM3 32h1v1h-1zM3 70h1v2h-1zM4 34h1v1h-1zM4 67h1v2h-1zM5 34h1v1h-1zM5 69h1v2h-1zM6 34h1v1h-1zM6 68h1v2h-1zM7 33h1v1h-1zM7 68h1v2h-1zM8 34h1v1h-1zM8 70h1v2h-1zM9 33h1v1h-1zM9 71h1v2h-1zM10 32h1v2h-1zM10 69h1v2h-1zM11 35h1v1h-1zM11 68h1v2h-1zM12 35h1v1h-1zM12 69h1v2h-1zM13 36h1v2h-1zM13 68h1v2h-1zM14 34h1v1h-1zM14 68h1v2h-1zM15 33h1v2h-1zM15 70h1v2h-1zM16 34h1v1h-1zM16 69h1v2h-1zM17 32h1v2h-1zM17 67h1v2h-1zM18 35h1v2h-1zM18 69h1v2h-1zM19 33h1v1h-1zM19 71h1v2h-1zM20 33h1v1h-1zM20 69h1v2h-1zM21 34h1v1h-1zM21 69h1v2h-1zM22 36h1v1h-1zM22 69h1v2h-1zM23 34h1v2h-1zM23 70h1v2h-1zM24 33h1v1h-1zM24 69h1v2h-1zM25 33h1v1h-1zM25 71h1v2h-1zM26 35h1v1h-1zM26 68h1v2h-1zM27 34h1v2h-1zM27 68h1v2h-1zM28 33h1v1h-1zM28 68h1v2h-1zM29 33h1v2h-1zM29 70h1v2h-1zM30 35h1v1h-1zM30 69h1v2h-1zM31 36h1v2h-1zM31 71h1v3h-1zM32 32h1v2h-1zM32 69h1v2h-1zM33 33h1v2h-1zM33 69h1v2h-1zM34 33h1v1h-1zM34 70h1v2h-1zM35 31h1v1h-1zM35 69h1v2h-1zM36 33h1v1h-1zM36 69h1v2h-1zM37 33h1v1h-1zM37 68h1v2h-1zM38 36h1v1h-1zM38 69h1v2h-1zM39 34h1v2h-1zM39 69h1v2h-1zM40 33h1v1h-1zM40 71h1v2h-1zM41 35h1v2h-1zM41 70h1v2h-1zM42 34h1v1h-1zM42 69h1v2h-1zM43 33h1v1h-1zM43 69h1v2h-1zM44 34h1v1h-1zM44 69h1v2h-1zM45 34h1v1h-1zM45 68h1v2h-1zM46 34h1v1h-1zM46 70h1v2h-1zM47 35h1v1h-1zM47 69h1v2h-1zM48 32h1v1h-1zM48 69h1v2h-1zM49 35h1v1h-1zM49 69h1v2h-1zM50 36h1v2h-1zM50 69h1v2h-1zM51 36h1v1h-1zM51 70h1v2h-1zM52 36h1v2h-1zM52 68h1v2h-1zM53 36h1v2h-1zM53 69h1v2h-1zM54 36h1v2h-1zM54 68h1v2h-1zM55 33h1v2h-1zM55 69h1v2h-1zM56 35h1v2h-1zM56 68h1v2h-1zM57 32h1v1h-1zM57 70h1v2h-1zM58 33h1v2h-1zM58 69h1v2h-1zM59 32h1v1h-1zM59 70h1v2h-1zM60 35h1v2h-1zM60 69h1v2h-1zM61 36h1v1h-1zM61 68h1v2h-1zM62 34h1v1h-1zM62 70h1v2h-1zM63 36h1v2h-1zM63 70h1v2h-1zM64 33h1v1h-1zM64 70h1v2h-1zM65 34h1v1h-1zM65 69h1v2h-1zM66 34h1v2h-1zM66 71h1v2h-1zM67 33h1v1h-1zM67 69h1v2h-1zM68 35h1v1h-1zM68 70h1v2h-1zM69 37h1v2h-1zM69 70h1v2h-1zM70 33h1v1h-1zM70 70h1v2h-1zM71 35h1v2h-1zM71 69h1v2h-1zM72 34h1v1h-1zM72 70h1v2h-1zM73 37h1v1h-1zM73 70h1v2h-1zM74 35h1v1h-1zM74 69h1v2h-1zM75 35h1v1h-1zM75 70h1v2h-1zM76 35h1v1h-1zM76 72h1v2h-1zM77 35h1v1h-1zM77 70h1v2h-1zM78 32h1v2h-1zM78 69h1v2h-1zM79 36h1v1h-1zM79 68h1v2h-1zM80 33h1v1h-1zM80 68h1v2h-1zM81 34h1v2h-1zM81 69h1v2h-1zM82 35h1v1h-1zM82 69h1v2h-1zM83 33h1v2h-1zM83 70h1v2h-1zM84 35h1v1h-1zM84 69h1v2h-1zM85 36h1v2h-1zM85 69h1v2h-1zM86 34h1v2h-1zM86 68h1v2h-1zM87 34h1v1h-1zM87 70h1v2h-1zM88 31h1v1h-1zM88 69h1v2h-1zM89 33h1v2h-1zM89 69h1v2h-1zM90 34h1v1h-1zM90 68h1v2h-1zM91 34h1v1h-1zM91 69h1v2h-1zM92 33h1v1h-1zM92 70h1v2h-1zM93 35h1v1h-1zM93 70h1v2h-1zM94 33h1v2h-1zM94 70h1v2h-1zM95 34h1v1h-1zM95 70h1v2h-1zM96 34h1v2h-1zM96 69h1v2h-1zM97 33h1v1h-1zM97 69h1v2h-1zM98 33h1v2h-1zM98 69h1v2h-1zM99 36h1v2h-1zM99 69h1v2h-1zM100 35h1v1h-1zM100 70h1v2h-1zM101 32h1v1h-1zM101 69h1v2h-1zM102 33h1v2h-1zM102 70h1v2h-1zM103 34h1v1h-1zM103 70h1v1h-1zM104 35h1v1h-1zM104 69h1v1h-1zM105 34h1v1h-1zM105 70h1v2h-1zM106 33h1v1h-1zM106 71h1v2h-1zM107 33h1v1h-1zM107 70h1v2h-1zM108 34h1v1h-1zM108 70h1v2h-1zM109 34h1v1h-1zM109 71h1v2h-1zM110 33h1v1h-1zM110 70h1v2h-1zM111 33h1v2h-1zM111 69h1v2h-1zM112 33h1v1h-1zM112 68h1v2h-1zM113 35h1v1h-1zM113 70h1v2h-1zM114 33h1v1h-1zM114 69h1v2h-1zM115 34h1v2h-1zM115 69h1v2h-1zM116 35h1v1h-1zM116 71h1v2h-1zM117 34h1v1h-1zM117 70h1v2h-1zM118 32h1v1h-1zM118 70h1v2h-1zM119 35h1v1h-1zM119 69h1v2h-1zM120 32h1v1h-1zM120 71h1v2h-1zM121 34h1v1h-1zM121 70h1v2h-1zM122 32h1v2h-1zM122 69h1v2h-1zM123 31h1v2h-1zM123 68h1v2h-1zM124 34h1v1h-1zM124 68h1v2h-1zM125 34h1v1h-1zM125 70h1v2h-1zM126 33h1v2h-1zM126 68h1v2h-1zM127 34h1v2h-1zM127 69h1v2h-1zM128 33h1v1h-1zM128 71h1v2h-1zM129 33h1v1h-1zM129 69h1v2h-1zM130 34h1v1h-1zM130 70h1v2h-1zM131 36h1v2h-1zM131 69h1v2h-1zM132 34h1v2h-1zM132 70h1v2h-1zM133 33h1v1h-1zM133 69h1v2h-1zM134 34h1v1h-1zM134 69h1v2h-1zM135 32h1v2h-1zM135 70h1v2h-1zM136 32h1v2h-1zM136 69h1v2h-1zM137 34h1v1h-1zM137 69h1v2h-1zM138 33h1v1h-1zM138 70h1v2h-1zM139 31h1v1h-1zM139 68h1v2h-1zM140 32h1v1h-1zM140 70h1v2h-1zM141 33h1v2h-1zM141 70h1v2h-1zM142 33h1v2h-1zM142 70h1v2h-1zM143 35h1v1h-1zM143 71h1v2h-1zM144 32h1v2h-1zM144 70h1v2h-1zM145 34h1v1h-1zM145 68h1v2h-1zM146 33h1v2h-1zM146 70h1v2h-1zM147 33h1v1h-1zM147 70h1v2h-1zM148 34h1v1h-1zM148 70h1v2h-1zM149 34h1v1h-1zM149 70h1v2h-1zM150 31h1v2h-1zM150 68h1v2h-1zM151 34h1v1h-1zM151 69h1v2h-1zM152 31h1v2h-1zM152 70h1v2h-1zM153 33h1v2h-1zM153 70h1v2h-1zM154 33h1v1h-1zM154 70h1v2h-1zM155 34h1v1h-1zM155 70h1v2h-1zM156 32h1v1h-1zM156 70h1v2h-1zM157 33h1v1h-1zM157 70h1v2h-1z"/>
<path fill="#0018ff" d="M0 35h1v1h-1zM0 71h1v2h-1zM1 34h1v1h-1zM1 72h1v2h-1zM2 33h1v1h-1zM2 71h1v2h-1zM3 31h1v1h-1zM3 72h1v2h-1zM4 32h1v2h-1zM4 69h1v2h-1zM5 32h1v2h-1zM5 71h1v2h-1zM6 33h1v1h-1zM6 70h1v2h-1zM7 32h1v1h-1zM7 70h1v2h-1zM8 33h1v1h-1zM8 72h1v2h-1zM9 32h1v1h-1zM9 73h1v2h-1zM10 31h1v1h-1zM10 71h1v2h-1zM11 34h1v1h-1zM11 70h1v2h-1zM12 34h1v1h-1zM12 71h1v2h-1zM13 35h1v1h-1zM13 70h1v2h-1zM14 33h1v1h-1zM14 70h1v2h-1zM15 32h1v1h-1zM15 72h1v2h-1zM16 32h1v2h-1zM16 71h1v2h-1zM17 31h1v1h-1zM17 69h1v2h-1zM18 34h1v1h-1zM18 71h1v2h-1zM19 32h1v1h-1zM19 73h1v2h-1zM20 31h1v2h-1zM20 71h1v2h-1zM21 33h1v1h-1zM21 71h1v2h-1zM22 34h1v2h-1zM22 71h1v2h-1zM23 33h1v1h-1zM23 72h1v2h-1zM24 32h1v1h-1zM24 71h1v2h-1zM25 32h1v1h-1zM25 73h1v2h-1zM26 34h1v1h-1zM26 70h1v2h-1zM27 33h1v1h-1zM27 70h1v2h-1zM28 32h1v1h-1zM28 70h1v2h-1zM29 32h1v1h-1zM29 72h1v2h-1zM30 33h1v2h-1zM30 71h1v2h-1zM31 35h1v1h-1zM31 74h1v2h-1zM32 31h1v1h-1zM32 71h1v2h-1zM33 32h1v1h-1zM33 71h1v2h-1zM34 32h1v1h-1zM34 72h1v2h-1zM35 30h1v1h-1zM35 71h1v2h-1zM36 31h1v2h-1zM36 71h1v2h-1zM37 32h1v1h-1zM37 70h1v2h-1zM38 35h1v1h-1zM38 71h1v2h-1zM39 33h1v1h-1zM39 71h1v2h-1zM40 31h1v2h-1zM40 73h1v2h-1zM41 34h1v1h-1zM41 72h1v2h-1zM42 33h1v1h-1zM42 71h1v2h-1zM43 31h1v2h-1zM43 71h1v2h-1zM44 32h1v2h-1zM44 71h1v2h-1zM45 33h1v1h-1zM45 70h1v2h-1zM46 32h1v2h-1zM46 72h1v2h-1zM47 34h1v1h-1zM47 71h1v2h-1zM48 31h1v1h-1zM48 71h1v2h-1zM49 33h1v2h-1zM49 71h1v2h-1zM50 35h1v1h-1zM50 71h1v2h-1zM51 34h1v2h-1zM51 72h1v2h-1zM52 35h1v1h-1zM52 70h1v2h-1zM53 35h1v1h-1zM53 71h1v2h-1zM54 35h1v1h-1zM54 70h1v2h-1zM55 32h1v1h-1zM55 71h1v2h-1zM56 34h1v1h-1zM56 70h1v2h-1zM57 31h1v1h-1zM57 72h1v2h-1zM58 32h1v1h-1zM58 71h1v2h-1zM59 30h1v2h-1zM59 72h1v1h-1zM60 34h1v1h-1zM60 71h1v2h-1zM61 34h1v2h-1zM61 70h1v2h-1zM62 33h1v1h-1zM62 72h1v2h-1zM63 35h1v1h-1zM63 72h1v2h-1zM64 31h1v2h-1zM64 72h1v2h-1zM65 33h1v1h-1zM65 71h1v2h-1zM66 33h1v1h-1zM66 73h1v2h-1zM67 32h1v1h-1zM67 71h1v2h-1zM68 33h1v2h-1zM68 72h1v2h-1zM69 35h1v2h-1zM69 72h1v2h-1zM70 32h1v1h-1zM70 72h1v2h-1zM71 34h1v1h-1zM71 71h1v2h-1zM72 33h1v1h-1zM72 72h1v2h-1zM73 35h1v2h-1zM73 72h1v2h-1zM74 34h1v1h-1zM74 71h1v2h-1zM75 34h1v1h-1zM75 72h1v2h-1zM76 34h1v1h-1zM76 74h1v2h-1zM77 34h1v1h-1zM77 72h1v2h-1zM78 31h1v1h-1zM78 71h1v2h-1zM79 34h1v2h-1zM79 70h1v2h-1zM80 31h1v2h-1zM80 70h1v2h-1zM81 33h1v1h-1zM81 71h1v2h-1zM82 34h1v1h-1zM82 71h1v2h-1zM83 32h1v1h-1zM83 72h1v2h-1zM84 33h1v2h-1zM84 71h1v2h-1zM85 35h1v1h-1zM85 71h1v2h-1zM86 33h1v1h-1zM86 70h1v2h-1zM87 32h1v2h-1zM87 72h1v2h-1zM88 30h1v1h-1zM88 71h1v2h-1zM89 32h1v1h-1zM89 71h1v2h-1zM90 33h1v1h-1zM90 70h1v2h-1zM91 32h1v2h-1zM91 71h1v2h-1zM92 32h1v1h-1zM92 72h1v2h-1zM93 33h1v2h-1zM93 72h1v2h-1zM94 32h1v1h-1zM94 72h1v2h-1zM95 32h1v2h-1zM95 72h1v2h-1zM96 33h1v1h-1zM96 71h1v2h-1zM97 31h1v2h-1zM97 71h1v2h-1zM98 32h1v1h-1zM98 71h1v2h-1zM99 35h1v1h-1zM99 71h1v2h-1zM100 33h1v2h-1zM100 72h1v2h-1zM101 30h1v2h-1zM101 71h1v2h-1zM102 32h1v1h-1zM102 72h1v2h-1zM103 33h1v1h-1zM103 71h1v3h-1zM104 33h1v2h-1zM104 70h1v2h-1zM105 32h1v2h-1zM105 72h1v2h-1zM106 31h1v2h-1zM106 73h1v2h-1zM107 31h1v2h-1zM107 72h1v2h-1zM108 33h1v1h-1zM108 72h1v2h-1zM109 33h1v1h-1zM109 73h1v2h-1zM110 32h1v1h-1zM110 72h1v2h-1zM111 32h1v1h-1zM111 71h1v2h-1zM112 32h1v1h-1zM112 70h1v2h-1zM113 33h1v2h-1zM113 72h1v2h-1zM114 31h1v2h-1zM114 71h1v2h-1zM115 33h1v1h-1zM115 71h1v2h-1zM116 33h1v2h-1zM116 73h1v2h-1zM117 33h1v1h-1zM117 72h1v2h-1zM118 30h1v2h-1zM118 72h1v2h-1zM119 33h1v2h-1zM119 71h1v2h-1zM120 31h1v1h-1zM120 73h1v2h-1zM121 32h1v2h-1zM121 72h1v2h-1zM122 31h1v1h-1zM122 71h1v2h-1zM123 30h1v1h-1zM123 70h1v2h-1zM124 32h1v2h-1zM124 70h1v2h-1zM125 32h1v2h-1zM125 72h1v2h-1zM126 32h1v1h-1zM126 70h1v2h-1zM127 33h1v1h-1zM127 71h1v2h-1zM128 32h1v1h-1zM128 73h1v2h-1zM129 32h1v1h-1zM129 71h1v2h-1zM130 32h1v2h-1zM130 72h1v2h-1zM131 35h1v1h-1zM131 71h1v2h-1zM132 33h1v1h-1zM132 72h1v2h-1zM133 31h1v2h-1zM133 71h1v1h-1zM134 32h1v2h-1zM134 71h1v2h-1zM135 31h1v1h-1zM135 72h1v2h-1zM136 31h1v1h-1zM136 71h1v2h-1zM137 33h1v1h-1zM137 71h1v2h-1zM138 31h1v2h-1zM138 72h1v2h-1zM139 29h1v2h-1zM139 70h1v2h-1zM140 30h1v2h-1zM140 72h1v2h-1zM141 32h1v1h-1zM141 72h1v2h-1zM142 32h1v1h-1zM142 72h1v2h-1zM143 34h1v1h-1zM143 73h1v2h-1zM144 31h1v1h-1zM144 72h1v2h-1zM145 33h1v1h-1zM145 70h1v2h-1zM146 32h1v1h-1zM146 72h1v2h-1zM147 31h1v2h-1zM147 72h1v1h-1zM148 33h1v1h-1zM148 72h1v2h-1zM149 32h1v2h-1zM149 72h1v2h-1zM150 30h1v1h-1zM150 70h1v2h-1zM151 33h1v1h-1zM151 71h1v2h-1zM152 30h1v1h-1zM152 72h1v2h-1zM153 32h1v1h-1zM153 72h1v1h-1zM154 32h1v1h-1zM154 72h1v2h-1zM155 32h1v2h-1zM155 72h1v2h-1zM156 31h1v1h-1zM156 72h1v2h-1zM157 32h1v1h-1zM157 72h1v2h-1z"/>
<path fill="#0028ff" d="M0 34h1v1h-1zM0 73h1v2h-1zM1 32h1v2h-1zM1 74h1v2h-1zM2 32h1v1h-1zM2 73h1v2h-1zM3 29h1v2h-1zM3 74h1v2h-1zM4 31h1v1h-1zM4 71h1v2h-1zM5 31h1v1h-1zM5 73h1v2h-1zM6 31h1v2h-1zM6 72h1v2h-1zM7 30h1v2h-1zM7 72h1v2h-1zM8 31h1v2h-1zM8 74h1v2h-1zM9 30h1v2h-1zM9 75h1v2h-1zM10 29h1v2h-1zM10 73h1v2h-1zM11 32h1v2h-1zM11 72h1v2h-1zM12 33h1v1h-1zM12 73h1v2h-1zM13 34h1v1h-1zM13 72h1v2h-1zM14 31h1v2h-1zM14 72h1v2h-1zM15 30h1v2h-1zM15 74h1v2h-1zM16 31h1v1h-1zM16 73h1v2h-1zM17 29h1v2h-1zM17 71h1v2h-1zM18 33h1v1h-1zM18 73h1v2h-1zM19 30h1v2h-1zM19 75h1v2h-1zM20 30h1v1h-1zM20 73h1v2h-1zM21 31h1v2h-1zM21 73h1v2h-1zM22 33h1v1h-1zM22 73h1v1h-1zM23 32h1v1h-1zM23 74h1v2h-1zM24 30h1v2h-1zM24 73h1v2h-1zM25 30h1v2h-1zM25 75h1v2h-1zM26 32h1v2h-1zM26 72h1v2h-1zM27 32h1v1h-1zM27 72h1v2h-1zM28 30h1v2h-1zM28 72h1v2h-1zM29 31h1v1h-1zM29 74h1v2h-1zM30 32h1v1h-1zM30 73h1v2h-1zM31 33h1v2h-1zM31 76h1v2h-1zM32 30h1v1h-1zM32 73h1v2h-1zM33 31h1v1h-1zM33 73h1v2h-1zM34 30h1v2h-1zM34 74h1v2h-1zM35 29h1v1h-1zM35 73h1v2h-1zM36 30h1v1h-1zM36 73h1v2h-1zM37 30h1v2h-1zM37 72h1v2h-1zM38 33h1v2h-1zM38 73h1v2h-1zM39 32h1v1h-1zM39 73h1v2h-1zM40 30h1v1h-1zM40 75h1v2h-1zM41 33h1v1h-1zM41 74h1v2h-1zM42 31h1v2h-1zM42 73h1v2h-1zM43 30h1v1h-1zM43 73h1v2h-1zM44 31h1v1h-1zM44 73h1v2h-1zM45 31h1v2h-1zM45 72h1v2h-1zM46 31h1v1h-1zM46 74h1v2h-1zM47 32h1v2h-1zM47 73h1v2h-1zM48 29h1v2h-1zM48 73h1v2h-1zM49 32h1v1h-1zM49 73h1v2h-1zM50 33h1v2h-1zM50 73h1v2h-1zM51 33h1v1h-1zM51 74h1v2h-1zM52 33h1v2h-1zM52 72h1v2h-1zM53 34h1v1h-1zM53 73h1v2h-1zM54 34h1v1h-1zM54 72h1v2h-1zM55 31h1v1h-1zM55 73h1v2h-1zM56 33h1v1h-1zM56 72h1v2h-1zM57 29h1v2h-1zM57 74h1v2h-1zM58 30h1v2h-1zM58 73h1v2h-1zM59 29h1v1h-1zM59 73h1v2h-1zM60 33h1v1h-1zM60 73h1v2h-1zM61 33h1v1h-1zM61 72h1v2h-1zM62 31h1v2h-1zM62 74h1v2h-1zM63 34h1v1h-1zM63 74h1v2h-1zM64 30h1v1h-1zM64 74h1v2h-1zM65 31h1v2h-1zM65 73h1v2h-1zM66 32h1v1h-1zM66 75h1v2h-1zM67 30h1v2h-1zM67 73h1v2h-1zM68 32h1v1h-1zM68 74h1v2h-1zM69 34h1v1h-1zM69 74h1v2h-1zM70 30h1v2h-1zM70 74h1v1h-1zM71 33h1v1h-1zM71 73h1v2h-1zM72 31h1v2h-1zM72 74h1v2h-1zM73 34h1v1h-1zM73 74h1v2h-1zM74 32h1v2h-1zM74 73h1v2h-1zM75 32h1v2h-1zM75 74h1v2h-1zM76 32h1v2h-1zM76 76h1v2h-1zM77 32h1v2h-1zM77 74h1v2h-1zM78 30h1v1h-1zM78 73h1v2h-1zM79 33h1v1h-1zM79 72h1v3h-1zM80 30h1v1h-1zM80 72h1v2h-1zM81 32h1v1h-1zM81 73h1v2h-1zM82 32h1v2h-1zM82 73h1v2h-1zM83 30h1v2h-1zM83 74h1v2h-1zM84 32h1v1h-1zM84 73h1v2h-1zM85 33h1v2h-1zM85 73h1v2h-1zM86 32h1v1h-1zM86 72h1v3h-1zM87 31h1v1h-1zM87 74h1v3h-1zM88 29h1v1h-1zM88 73h1v3h-1zM89 31h1v1h-1zM89 73h1v2h-1zM90 31h1v2h-1zM90 72h1v2h-1zM91 30h1v2h-1zM91 73h1v2h-1zM92 30h1v2h-1zM92 74h1v2h-1zM93 32h1v1h-1zM93 74h1v2h-1zM94 30h1v2h-1zM94 74h1v2h-1zM95 31h1v1h-1zM95 74h1v2h-1zM96 32h1v1h-1zM96 73h1v2h-1zM97 29h1v2h-1zM97 73h1v2h-1zM98 30h1v2h-1zM98 73h1v2h-1zM99 34h1v1h-1zM99 73h1v2h-1zM100 32h1v1h-1zM100 74h1v2h-1zM101 28h1v2h-1zM101 73h1v2h-1zM102 30h1v2h-1zM102 74h1v2h-1zM103 31h1v2h-1zM103 74h1v2h-1zM104 32h1v1h-1zM104 72h1v3h-1zM105 30h1v2h-1zM105 74h1v2h-1zM106 29h1v2h-1zM106 75h1v2h-1zM107 29h1v2h-1zM107 74h1v2h-1zM108 31h1v2h-1zM108 74h1v2h-1zM109 31h1v2h-1zM109 75h1v2h-1zM110 30h1v2h-1zM110 74h1v2h-1zM111 30h1v2h-1zM111 73h1v2h-1zM112 30h1v2h-1zM112 72h1v2h-1zM113 32h1v1h-1zM113 74h1v2h-1zM114 29h1v2h-1zM114 73h1v2h-1zM115 31h1v2h-1zM115 73h1v2h-1zM116 32h1v1h-1zM116 75h1v2h-1zM117 31h1v2h-1zM117 74h1v2h-1zM118 29h1v1h-1zM118 74h1v2h-1zM119 32h1v1h-1zM119 73h1v2h-1zM120 29h1v2h-1zM120 75h1v2h-1zM121 31h1v1h-1zM121 74h1v2h-1zM122 30h1v1h-1zM122 73h1v2h-1zM123 29h1v1h-1zM123 72h1v3h-1zM124 31h1v1h-1zM124 72h1v2h-1zM125 31h1v1h-1zM125 74h1v2h-1zM126 31h1v1h-1zM126 72h1v2h-1zM127 32h1v1h-1zM127 73h1v2h-1zM128 30h1v2h-1zM128 75h1v2h-1zM129 30h1v2h-1zM129 73h1v2h-1zM130 31h1v1h-1zM130 74h1v2h-1zM131 33h1v2h-1zM131 73h1v2h-1zM132 31h1v2h-1zM132 74h1v2h-1zM133 30h1v1h-1zM133 72h1v2h-1zM134 30h1v2h-1zM134 73h1v2h-1zM135 29h1v2h-1zM135 74h1v2h-1zM136 29h1v2h-1zM136 73h1v2h-1zM137 31h1v2h-1zM137 73h1v2h-1zM138 29h1v2h-1zM138 74h1v2h-1zM139 27h1v2h-1zM139 72h1v2h-1zM140 28h1v2h-1zM140 74h1v2h-1zM141 30h1v2h-1zM141 74h1v2h-1zM142 30h1v2h-1zM142 74h1v2h-1zM143 32h1v2h-1zM143 75h1v1h-1zM144 29h1v2h-1zM144 74h1v2h-1zM145 31h1v2h-1zM145 72h1v2h-1zM146 30h1v2h-1zM146 74h1v2h-1zM147 29h1v2h-1zM147 73h1v2h-1zM148 31h1v2h-1zM148 74h1v2h-1zM149 31h1v1h-1zM149 74h1v2h-1zM150 28h1v2h-1zM150 72h1v2h-1zM151 31h1v2h-1zM151 73h1v2h-1zM152 28h1v2h-1zM152 74h1v2h-1zM153 30h1v2h-1zM153 73h1v2h-1zM154 30h1v2h-1zM154 74h1v2h-1zM155 31h1v1h-1zM155 74h1v2h-1zM156 29h1v2h-1zM156 74h1v2h-1zM157 30h1v2h-1zM157 74h1v2h-1z"/>
<path fill="#0038ff" d="M0 33h1v1h-1zM0 75h1v2h-1zM1 31h1v1h-1zM1 76h1v2h-1zM2 30h1v2h-1zM2 75h1v2h-1zM3 28h1v1h-1zM3 76h1v2h-1zM4 29h1v2h-1zM4 73h1v2h-1zM5 30h1v1h-1zM5 75h1v2h-1zM6 30h1v1h-1zM6 74h1v2h-1zM7 28h1v2h-1zM7 74h1v2h-1zM8 30h1v1h-1zM8 76h1v2h-1zM9 29h1v1h-1zM9 77h1v2h-1zM10 28h1v1h-1zM10 75h1v2h-1zM11 31h1v1h-1zM11 74h1v2h-1zM12 31h1v2h-1zM12 75h1v2h-1zM13 32h1v2h-1zM13 74h1v2h-1zM14 30h1v1h-1zM14 74h1v2h-1zM15 29h1v1h-1zM15 76h1v2h-1zM16 29h1v2h-1zM16 75h1v2h-1zM17 28h1v1h-1zM17 73h1v2h-1zM18 31h1v2h-1zM18 75h1v2h-1zM19 29h1v1h-1zM19 77h1v2h-1zM20 28h1v2h-1zM20 75h1v2h-1zM21 30h1v1h-1zM21 75h1v3h-1zM22 32h1v1h-1zM22 74h1v2h-1zM23 30h1v2h-1zM23 76h1v2h-1zM24 28h1v2h-1zM24 75h1v2h-1zM25 29h1v1h-1zM25 77h1v2h-1zM26 31h1v1h-1zM26 74h1v2h-1zM27 30h1v2h-1zM27 74h1v2h-1zM28 29h1v1h-1zM28 74h1v2h-1zM29 29h1v2h-1zM29 76h1v3h-1zM30 31h1v1h-1zM30 75h1v2h-1zM31 32h1v1h-1zM31 78h1v2h-1zM32 29h1v1h-1zM32 75h1v2h-1zM33 29h1v2h-1zM33 75h1v2h-1zM34 29h1v1h-1zM34 76h1v2h-1zM35 27h1v2h-1zM35 75h1v2h-1zM36 29h1v1h-1zM36 75h1v2h-1zM37 29h1v1h-1zM37 74h1v2h-1zM38 32h1v1h-1zM38 75h1v2h-1zM39 30h1v2h-1zM39 75h1v2h-1zM40 29h1v1h-1zM40 77h1v2h-1zM41 31h1v2h-1zM41 76h1v2h-1zM42 30h1v1h-1zM42 75h1v2h-1zM43 28h1v2h-1zM43 75h1v2h-1zM44 29h1v2h-1zM44 75h1v2h-1zM45 30h1v1h-1zM45 74h1v2h-1zM46 29h1v2h-1zM46 76h1v2h-1zM47 31h1v1h-1zM47 75h1v2h-1zM48 28h1v1h-1zM48 75h1v2h-1zM49 30h1v2h-1zM49 75h1v2h-1zM50 32h1v1h-1zM50 75h1v2h-1zM51 32h1v1h-1zM51 76h1v2h-1zM52 32h1v1h-1zM52 74h1v2h-1zM53 32h1v2h-1zM53 75h1v2h-1zM54 32h1v2h-1zM54 74h1v2h-1zM55 29h1v2h-1zM55 75h1v2h-1zM56 31h1v2h-1zM56 74h1v2h-1zM57 28h1v1h-1zM57 76h1v2h-1zM58 28h1v2h-1zM58 75h1v2h-1zM59 27h1v2h-1zM59 75h1v2h-1zM60 31h1v2h-1zM60 75h1v2h-1zM61 32h1v1h-1zM61 74h1v2h-1zM62 29h1v2h-1zM62 76h1v2h-1zM63 32h1v2h-1zM63 76h1v2h-1zM64 28h1v2h-1zM64 76h1v2h-1zM65 29h1v2h-1zM65 75h1v2h-1zM66 30h1v2h-1zM66 77h1v2h-1zM67 28h1v2h-1zM67 75h1v2h-1zM68 30h1v2h-1zM68 76h1v2h-1zM69 33h1v1h-1zM69 76h1v2h-1zM70 28h1v2h-1zM70 75h1v2h-1zM71 31h1v2h-1zM71 75h1v2h-1zM72 29h1v2h-1zM72 76h1v2h-1zM73 33h1v1h-1zM73 76h1v2h-1zM74 30h1v2h-1zM74 75h1v2h-1zM75 31h1v1h-1zM75 76h1v2h-1zM76 30h1v2h-1zM76 78h1v2h-1zM77 30h1v2h-1zM77 76h1v2h-1zM78 28h1v2h-1zM78 75h1v2h-1zM79 32h1v1h-1zM79 75h1v2h-1zM80 28h1v2h-1zM80 74h1v2h-1zM81 30h1v2h-1zM81 75h1v2h-1zM82 31h1v1h-1zM82 75h1v2h-1zM83 28h1v2h-1zM83 76h1v2h-1zM84 30h1v2h-1zM84 75h1v2h-1zM85 32h1v1h-1zM85 75h1v2h-1zM86 30h1v2h-1zM86 75h1v2h-1zM87 29h1v2h-1zM87 77h1v2h-1zM88 27h1v2h-1zM88 76h1v2h-1zM89 29h1v2h-1zM89 75h1v2h-1zM90 29h1v2h-1zM90 74h1v2h-1zM91 28h1v2h-1zM91 75h1v2h-1zM92 27h1v3h-1zM92 76h1v2h-1zM93 30h1v2h-1zM93 76h1v2h-1zM94 28h1v2h-1zM94 76h1v2h-1zM95 28h1v3h-1zM95 76h1v2h-1zM96 30h1v2h-1zM96 75h1v2h-1zM97 27h1v2h-1zM97 75h1v2h-1zM98 28h1v2h-1zM98 75h1v2h-1zM99 32h1v2h-1zM99 75h1v2h-1zM100 30h1v2h-1zM100 76h1v2h-1zM101 25h1v3h-1zM101 75h1v2h-1zM102 28h1v2h-1zM102 76h1v2h-1zM103 29h1v2h-1zM103 76h1v2h-1zM104 30h1v2h-1zM104 75h1v2h-1zM105 28h1v2h-1zM105 76h1v2h-1zM106 27h1v2h-1zM106 77h1v2h-1zM107 27h1v2h-1zM107 76h1v2h-1zM108 29h1v2h-1zM108 76h1v2h-1zM109 28h1v3h-1zM109 77h1v2h-1zM110 28h1v2h-1zM110 76h1v2h-1zM111 28h1v2h-1zM111 75h1v2h-1zM112 28h1v2h-1zM112 74h1v2h-1zM113 30h1v2h-1zM113 76h1v2h-1zM114 27h1v2h-1zM114 75h1v2h-1zM115 29h1v2h-1zM115 75h1v2h-1zM116 30h1v2h-1zM116 77h1v2h-1zM117 29h1v2h-1zM117 76h1v2h-1zM118 27h1v2h-1zM118 76h1v2h-1zM119 30h1v2h-1zM119 75h1v2h-1zM120 28h1v1h-1zM120 77h1v2h-1zM121 29h1v2h-1zM121 76h1v2h-1zM122 28h1v2h-1zM122 75h1v2h-1zM123 27h1v2h-1zM123 75h1v2h-1zM124 29h1v2h-1zM124 74h1v2h-1zM125 29h1v2h-1zM125 76h1v2h-1zM126 29h1v2h-1zM126 74h1v2h-1zM127 30h1v2h-1zM127 75h1v2h-1zM128 29h1v1h-1zM128 77h1v1h-1zM129 28h1v2h-1zM129 75h1v2h-1zM130 29h1v2h-1zM130 76h1v2h-1zM131 32h1v1h-1zM131 75h1v2h-1zM132 29h1v2h-1zM132 76h1v2h-1zM133 28h1v2h-1zM133 74h1v2h-1zM134 29h1v1h-1zM134 75h1v2h-1zM135 27h1v2h-1zM135 76h1v1h-1zM136 27h1v2h-1zM136 75h1v1h-1zM137 29h1v2h-1zM137 75h1v2h-1zM138 27h1v2h-1zM138 76h1v2h-1zM139 25h1v2h-1zM139 74h1v2h-1zM140 0h1v1h-1zM140 26h1v2h-1zM140 76h1v2h-1zM141 0h1v1h-1zM141 28h1v2h-1zM141 76h1v2h-1zM142 28h1v2h-1zM142 76h1v2h-1zM143 30h1v2h-1zM143 76h1v2h-1zM144 27h1v2h-1zM144 76h1v2h-1zM145 29h1v2h-1zM145 74h1v2h-1zM146 28h1v2h-1zM146 76h1v2h-1zM147 27h1v2h-1zM147 75h1v2h-1zM148 29h1v2h-1zM148 76h1v2h-1zM149 29h1v2h-1zM149 76h1v2h-1zM150 26h1v2h-1zM150 74h1v2h-1zM151 29h1v2h-1zM151 75h1v2h-1zM152 26h1v2h-1zM152 76h1v2h-1zM153 28h1v2h-1zM153 75h1v2h-1zM154 28h1v2h-1zM154 76h1v2h-1zM155 29h1v2h-1zM155 76h1v2h-1zM156 27h1v2h-1zM156 76h1v2h-1zM157 28h1v2h-1zM157 76h1v2h-1z"/>
<path fill="#0048ff" d="M0 31h1v2h-1zM0 77h1v1h-1zM1 29h1v2h-1zM1 78h1v2h-1zM2 29h1v1h-1zM2 77h1v2h-1zM3 27h1v1h-1zM3 78h1v2h-1zM4 28h1v1h-1zM4 75h1v2h-1zM5 28h1v2h-1zM5 77h1v2h-1zM6 28h1v2h-1zM6 76h1v2h-1zM7 27h1v1h-1zM7 76h1v2h-1zM8 28h1v2h-1zM8 78h1v2h-1zM9 27h1v2h-1zM9 79h1v2h-1zM10 27h1v1h-1zM10 77h1v2h-1zM11 29h1v2h-1zM11 76h1v2h-1zM12 29h1v2h-1zM12 77h1v2h-1zM13 31h1v1h-1zM13 76h1v2h-1zM14 28h1v2h-1zM14 76h1v2h-1zM15 27h1v2h-1zM15 78h1v2h-1zM16 28h1v1h-1zM16 77h1v2h-1zM17 27h1v1h-1zM17 75h1v2h-1zM18 30h1v1h-1zM18 77h1v2h-1zM19 27h1v2h-1zM19 79h1v2h-1zM20 26h1v2h-1zM20 77h1v2h-1zM21 28h1v2h-1zM21 78h1v2h-1zM22 30h1v2h-1zM22 76h1v2h-1zM23 28h1v2h-1zM23 78h1v2h-1zM24 27h1v1h-1zM24 77h1v2h-1zM25 27h1v2h-1zM25 79h1v2h-1zM26 29h1v2h-1zM26 76h1v2h-1zM27 29h1v1h-1zM27 76h1v2h-1zM28 28h1v1h-1zM28 76h1v2h-1zM29 28h1v1h-1zM29 79h1v2h-1zM30 29h1v2h-1zM30 77h1v2h-1zM31 31h1v1h-1zM31 80h1v2h-1zM32 28h1v1h-1zM32 77h1v2h-1zM33 28h1v1h-1zM33 77h1v2h-1zM34 28h1v1h-1zM34 78h1v2h-1zM35 26h1v1h-1zM35 77h1v2h-1zM36 27h1v2h-1zM36 77h1v2h-1zM37 27h1v2h-1zM37 76h1v2h-1zM38 30h1v2h-1zM38 77h1v2h-1zM39 28h1v2h-1zM39 77h1v2h-1zM40 27h1v2h-1zM40 79h1v2h-1zM41 30h1v1h-1zM41 78h1v2h-1zM42 28h1v2h-1zM42 77h1v2h-1zM43 27h1v1h-1zM43 77h1v2h-1zM44 27h1v2h-1zM44 77h1v2h-1zM45 28h1v2h-1zM45 76h1v2h-1zM46 28h1v1h-1zM46 78h1v2h-1zM47 29h1v2h-1zM47 77h1v2h-1zM48 27h1v1h-1zM48 77h1v2h-1zM49 29h1v1h-1zM49 77h1v2h-1zM50 30h1v2h-1zM50 77h1v2h-1zM51 30h1v2h-1zM51 78h1v2h-1zM52 30h1v2h-1zM52 76h1v2h-1zM53 31h1v1h-1zM53 77h1v2h-1zM54 31h1v1h-1zM54 76h1v2h-1zM55 28h1v1h-1zM55 77h1v2h-1zM56 30h1v1h-1zM56 76h1v2h-1zM57 27h1v1h-1zM57 78h1v3h-1zM58 27h1v1h-1zM58 77h1v2h-1zM59 25h1v2h-1zM59 77h1v2h-1zM60 29h1v2h-1zM60 77h1v2h-1zM61 30h1v2h-1zM61 76h1v2h-1zM62 27h1v2h-1zM62 78h1v2h-1zM63 30h1v2h-1zM63 78h1v2h-1zM64 27h1v1h-1zM64 78h1v2h-1zM65 27h1v2h-1zM65 77h1v2h-1zM66 27h1v3h-1zM66 79h1v2h-1zM67 26h1v2h-1zM67 77h1v2h-1zM68 28h1v2h-1zM68 78h1v2h-1zM69 31h1v2h-1zM69 78h1v2h-1zM70 26h1v2h-1zM70 77h1v2h-1zM71 29h1v2h-1zM71 77h1v2h-1zM72 26h1v3h-1zM72 78h1v2h-1zM73 31h1v2h-1zM73 78h1v2h-1zM74 28h1v2h-1zM74 77h1v2h-1zM75 28h1v3h-1zM75 78h1v2h-1zM76 28h1v2h-1zM76 80h1v2h-1zM77 29h1v1h-1zM77 78h1v2h-1zM78 27h1v1h-1zM78 77h1v2h-1zM79 30h1v2h-1zM79 77h1v2h-1zM80 27h1v1h-1zM80 76h1v2h-1zM81 29h1v1h-1zM81 77h1v2h-1zM82 29h1v2h-1zM82 77h1v2h-1zM83 27h1v1h-1zM83 78h1v2h-1zM84 29h1v1h-1zM84 77h1v2h-1zM85 30h1v2h-1zM85 77h1v2h-1zM86 29h1v1h-1zM86 77h1v2h-1zM87 28h1v1h-1zM87 79h1v2h-1zM88 26h1v1h-1zM88 78h1v2h-1zM89 28h1v1h-1zM89 77h1v2h-1zM90 26h1v3h-1zM90 76h1v2h-1zM91 26h1v2h-1zM91 77h1v2h-1zM92 25h1v2h-1zM92 78h1v2h-1zM93 28h1v2h-1zM93 78h1v2h-1zM94 26h1v2h-1zM94 78h1v2h-1zM95 26h1v2h-1zM95 78h1v2h-1zM96 29h1v1h-1zM96 77h1v2h-1zM97 25h1v2h-1zM97 77h1v2h-1zM98 26h1v2h-1zM98 77h1v2h-1zM99 30h1v2h-1zM99 77h1v2h-1zM100 27h1v3h-1zM100 78h1v2h-1zM101 23h1v2h-1zM101 77h1v3h-1zM102 25h1v3h-1zM102 78h1v2h-1zM103 26h1v3h-1zM103 78h1v2h-1zM104 27h1v3h-1zM104 77h1v2h-1zM105 26h1v2h-1zM105 78h1v2h-1zM106 25h1v2h-1zM106 79h1v3h-1zM107 24h1v3h-1zM107 78h1v2h-1zM108 26h1v3h-1zM108 78h1v2h-1zM109 26h1v2h-1zM109 79h1v2h-1zM110 26h1v2h-1zM110 78h1v2h-1zM111 27h1v1h-1zM111 77h1v2h-1zM112 26h1v2h-1zM112 76h1v2h-1zM113 28h1v2h-1zM113 78h1v2h-1zM114 25h1v2h-1zM114 77h1v2h-1zM115 27h1v2h-1zM115 77h1v2h-1zM116 28h1v2h-1zM116 79h1v2h-1zM117 27h1v2h-1zM117 78h1v2h-1zM118 25h1v2h-1zM118 78h1v2h-1zM119 27h1v3h-1zM119 77h1v2h-1zM120 26h1v2h-1zM120 79h1v2h-1zM121 28h1v1h-1zM121 78h1v2h-1zM122 27h1v1h-1zM122 77h1v2h-1zM123 26h1v1h-1zM123 77h1v2h-1zM124 28h1v1h-1zM124 76h1v2h-1zM125 28h1v1h-1zM125 78h1v2h-1zM126 28h1v1h-1zM126 76h1v2h-1zM127 29h1v1h-1zM127 77h1v2h-1zM128 28h1v1h-1zM128 78h1v2h-1zM129 26h1v2h-1zM129 77h1v2h-1zM130 27h1v2h-1zM130 78h1v2h-1zM131 30h1v2h-1zM131 77h1v2h-1zM132 27h1v2h-1zM132 78h1v1h-1zM133 27h1v1h-1zM133 76h1v2h-1zM134 27h1v2h-1zM134 77h1v2h-1zM135 25h1v2h-1zM135 77h1v2h-1zM136 25h1v2h-1zM136 76h1v2h-1zM137 27h1v2h-1zM137 77h1v2h-1zM138 25h1v2h-1zM138 78h1v2h-1zM139 23h1v2h-1zM139 76h1v2h-1zM140 24h1v2h-1zM140 78h1v2h-1zM141 26h1v2h-1zM141 78h1v2h-1zM142 26h1v2h-1zM142 78h1v1h-1zM143 28h1v2h-1zM143 78h1v2h-1zM144 25h1v2h-1zM144 78h1v2h-1zM145 27h1v2h-1zM145 76h1v2h-1zM146 26h1v2h-1zM146 78h1v2h-1zM147 25h1v2h-1zM147 77h1v2h-1zM148 27h1v2h-1zM148 78h1v2h-1zM149 27h1v2h-1zM149 78h1v2h-1zM150 25h1v1h-1zM150 76h1v2h-1zM151 27h1v2h-1zM151 77h1v2h-1zM152 25h1v1h-1zM152 78h1v2h-1zM153 27h1v1h-1zM153 77h1v2h-1zM154 27h1v1h-1zM154 78h1v2h-1zM155 27h1v2h-1zM155 78h1v2h-1zM156 26h1v1h-1zM156 78h1v2h-1zM157 27h1v1h-1zM157 78h1v2h-1z"/>
<path fill="#0058ff" d="M0 29h1v2h-1zM0 78h1v3h-1zM1 27h1v2h-1zM1 80h1v2h-1zM2 27h1v2h-1zM2 79h1v2h-1zM3 26h1v1h-1zM3 80h1v2h-1zM4 27h1v1h-1zM4 77h1v2h-1zM5 27h1v1h-1zM5 79h1v2h-1zM6 27h1v1h-1zM6 78h1v2h-1zM7 25h1v2h-1zM7 78h1v2h-1zM8 26h1v2h-1zM8 80h1v2h-1zM9 26h1v1h-1zM9 81h1v2h-1zM10 25h1v2h-1zM10 79h1v2h-1zM11 27h1v2h-1zM11 78h1v2h-1zM12 28h1v1h-1zM12 79h1v2h-1zM13 29h1v2h-1zM13 78h1v2h-1zM14 26h1v2h-1zM14 78h1v2h-1zM15 26h1v1h-1zM15 80h1v2h-1zM16 26h1v2h-1zM16 79h1v2h-1zM17 25h1v2h-1zM17 77h1v2h-1zM18 28h1v2h-1zM18 79h1v2h-1zM19 26h1v1h-1zM19 81h1v2h-1zM20 24h1v2h-1zM20 79h1v3h-1zM21 27h1v1h-1zM21 80h1v2h-1zM22 28h1v2h-1zM22 78h1v2h-1zM23 26h1v2h-1zM23 80h1v2h-1zM24 25h1v2h-1zM24 79h1v2h-1zM25 26h1v1h-1zM25 81h1v2h-1zM26 28h1v1h-1zM26 78h1v2h-1zM27 27h1v2h-1zM27 78h1v2h-1zM28 27h1v1h-1zM28 78h1v2h-1zM29 27h1v1h-1zM29 81h1v2h-1zM30 28h1v1h-1zM30 79h1v2h-1zM31 29h1v2h-1zM31 82h1v2h-1zM32 27h1v1h-1zM32 79h1v2h-1zM33 27h1v1h-1zM33 79h1v2h-1zM34 26h1v2h-1zM34 80h1v2h-1zM35 25h1v1h-1zM35 79h1v2h-1zM36 26h1v1h-1zM36 79h1v2h-1zM37 26h1v1h-1zM37 78h1v2h-1zM38 28h1v2h-1zM38 79h1v2h-1zM39 26h1v2h-1zM39 79h1v2h-1zM40 26h1v1h-1zM40 81h1v2h-1zM41 28h1v2h-1zM41 80h1v2h-1zM42 27h1v1h-1zM42 79h1v2h-1zM43 25h1v2h-1zM43 79h1v2h-1zM44 25h1v2h-1zM44 79h1v2h-1zM45 27h1v1h-1zM45 78h1v2h-1zM46 27h1v1h-1zM46 80h1v2h-1zM47 28h1v1h-1zM47 79h1v3h-1zM48 26h1v1h-1zM48 79h1v2h-1zM49 27h1v2h-1zM49 79h1v2h-1zM50 29h1v1h-1zM50 79h1v2h-1zM51 28h1v2h-1zM51 80h1v2h-1zM52 29h1v1h-1zM52 78h1v2h-1zM53 29h1v2h-1zM53 79h1v2h-1zM54 29h1v2h-1zM54 78h1v2h-1zM55 27h1v1h-1zM55 79h1v2h-1zM56 28h1v2h-1zM56 78h1v2h-1zM57 26h1v1h-1zM57 81h1v2h-1zM58 25h1v2h-1zM58 79h1v2h-1zM59 24h1v1h-1zM59 79h1v2h-1zM60 28h1v1h-1zM60 79h1v2h-1zM61 28h1v2h-1zM61 78h1v2h-1zM62 25h1v2h-1zM62 80h1v2h-1zM63 28h1v2h-1zM63 80h1v2h-1zM64 25h1v2h-1zM64 80h1v2h-1zM65 25h1v2h-1zM65 79h1v2h-1zM66 25h1v2h-1zM66 81h1v2h-1zM67 24h1v2h-1zM67 79h1v2h-1zM68 25h1v3h-1zM68 80h1v2h-1zM69 29h1v2h-1zM69 80h1v2h-1zM70 24h1v2h-1zM70 79h1v2h-1zM71 26h1v3h-1zM71 79h1v2h-1zM72 24h1v2h-1zM72 80h1v2h-1zM73 28h1v3h-1zM73 80h1v2h-1zM74 25h1v3h-1zM74 79h1v2h-1zM75 26h1v2h-1zM75 80h1v2h-1zM76 26h1v2h-1zM76 82h1v2h-1zM77 27h1v2h-1zM77 80h1v2h-1zM78 26h1v1h-1zM78 79h1v3h-1zM79 29h1v1h-1zM79 79h1v2h-1zM80 26h1v1h-1zM80 78h1v2h-1zM81 27h1v2h-1zM81 79h1v2h-1zM82 27h1v2h-1zM82 79h1v2h-1zM83 25h1v2h-1zM83 80h1v3h-1zM84 27h1v2h-1zM84 79h1v3h-1zM85 29h1v1h-1zM85 79h1v2h-1zM86 27h1v2h-1zM86 79h1v2h-1zM87 26h1v2h-1zM87 81h1v2h-1zM88 25h1v1h-1zM88 80h1v2h-1zM89 27h1v1h-1zM89 79h1v2h-1zM90 24h1v2h-1zM90 78h1v2h-1zM91 24h1v2h-1zM91 79h1v2h-1zM92 23h1v2h-1zM92 80h1v2h-1zM93 25h1v3h-1zM93 80h1v2h-1zM94 24h1v2h-1zM94 80h1v2h-1zM95 24h1v2h-1zM95 80h1v3h-1zM96 27h1v2h-1zM96 79h1v2h-1zM97 23h1v2h-1zM97 79h1v2h-1zM98 23h1v3h-1zM98 79h1v2h-1zM99 27h1v3h-1zM99 79h1v2h-1zM100 25h1v2h-1zM100 80h1v3h-1zM101 21h1v2h-1zM101 80h1v2h-1zM102 23h1v2h-1zM102 80h1v3h-1zM103 24h1v2h-1zM103 80h1v2h-1zM104 25h1v2h-1zM104 79h1v2h-1zM105 24h1v2h-1zM105 80h1v2h-1zM106 23h1v2h-1zM106 82h1v2h-1zM107 22h1v2h-1zM107 80h1v2h-1zM108 24h1v2h-1zM108 80h1v3h-1zM109 24h1v2h-1zM109 81h1v3h-1zM110 24h1v2h-1zM110 80h1v3h-1zM111 25h1v2h-1zM111 79h1v2h-1zM112 24h1v2h-1zM112 78h1v2h-1zM113 26h1v2h-1zM113 80h1v3h-1zM114 23h1v2h-1zM114 79h1v2h-1zM115 25h1v2h-1zM115 79h1v2h-1zM116 26h1v2h-1zM116 81h1v2h-1zM117 26h1v1h-1zM117 80h1v2h-1zM118 24h1v1h-1zM118 80h1v2h-1zM119 25h1v2h-1zM119 79h1v3h-1zM120 25h1v1h-1zM120 81h1v2h-1zM121 26h1v2h-1zM121 80h1v2h-1zM122 26h1v1h-1zM122 79h1v2h-1zM123 25h1v1h-1zM123 79h1v2h-1zM124 26h1v2h-1zM124 78h1v2h-1zM125 26h1v2h-1zM125 80h1v2h-1zM126 27h1v1h-1zM126 78h1v2h-1zM127 27h1v2h-1zM127 79h1v2h-1zM128 26h1v2h-1zM128 80h1v3h-1zM129 24h1v2h-1zM129 79h1v2h-1zM130 25h1v2h-1zM130 80h1v2h-1zM131 28h1v2h-1zM131 79h1v2h-1zM132 25h1v2h-1zM132 79h1v3h-1zM133 25h1v2h-1zM133 78h1v2h-1zM134 25h1v2h-1zM134 79h1v2h-1zM135 23h1v2h-1zM135 79h1v2h-1zM136 23h1v2h-1zM136 78h1v2h-1zM137 25h1v2h-1zM137 79h1v2h-1zM138 23h1v2h-1zM138 80h1v2h-1zM139 22h1v1h-1zM139 78h1v2h-1zM140 1h1v1h-1zM140 22h1v2h-1zM140 80h1v2h-1zM141 1h1v1h-1zM141 24h1v2h-1zM141 80h1v2h-1zM142 24h1v2h-1zM142 79h1v3h-1zM143 26h1v2h-1zM143 80h1v3h-1zM144 23h1v2h-1zM144 80h1v2h-1zM145 25h1v2h-1zM145 78h1v2h-1zM146 24h1v2h-1zM146 80h1v2h-1zM147 23h1v2h-1zM147 79h1v2h-1zM148 25h1v2h-1zM148 80h1v2h-1zM149 25h1v2h-1zM149 80h1v2h-1zM150 23h1v2h-1zM150 78h1v2h-1zM151 26h1v1h-1zM151 79h1v2h-1zM152 23h1v2h-1zM152 80h1v2h-1zM153 25h1v2h-1zM153 79h1v2h-1zM154 25h1v2h-1zM154 80h1v2h-1zM155 26h1v1h-1zM155 80h1v2h-1zM156 24h1v2h-1zM156 80h1v2h-1zM157 25h1v2h-1zM157 80h1v2h-1z"/>
<path fill="#0068ff" d="M0 27h1v2h-1zM0 81h1v2h-1zM1 26h1v1h-1zM1 82h1v3h-1zM2 26h1v1h-1zM2 81h1v2h-1zM3 24h1v2h-1zM3 82h1v3h-1zM4 25h1v2h-1zM4 79h1v2h-1zM5 25h1v2h-1zM5 81h1v2h-1zM6 25h1v2h-1zM6 80h1v2h-1zM7 24h1v1h-1zM7 80h1v2h-1zM8 25h1v1h-1zM8 82h1v2h-1zM9 25h1v1h-1zM9 83h1v2h-1zM10 24h1v1h-1zM10 81h1v3h-1zM11 26h1v1h-1zM11 80h1v3h-1zM12 26h1v2h-1zM12 81h1v2h-1zM13 28h1v1h-1zM13 80h1v2h-1zM14 25h1v1h-1zM14 80h1v2h-1zM15 24h1v2h-1zM15 82h1v3h-1zM16 25h1v1h-1zM16 81h1v2h-1zM17 24h1v1h-1zM17 79h1v2h-1zM18 27h1v1h-1zM18 81h1v3h-1zM19 24h1v2h-1zM19 83h1v2h-1zM20 23h1v1h-1zM20 82h1v2h-1zM21 25h1v2h-1zM21 82h1v2h-1zM22 26h1v2h-1zM22 80h1v3h-1zM23 24h1v2h-1zM23 82h1v2h-1zM24 24h1v1h-1zM24 81h1v2h-1zM25 24h1v2h-1zM25 83h1v2h-1zM26 26h1v2h-1zM26 80h1v3h-1zM27 26h1v1h-1zM27 80h1v2h-1zM28 25h1v2h-1zM28 80h1v2h-1zM29 25h1v2h-1zM29 83h1v2h-1zM30 26h1v2h-1zM30 81h1v2h-1zM31 28h1v1h-1zM31 84h1v2h-1zM32 26h1v1h-1zM32 81h1v2h-1zM33 26h1v1h-1zM33 81h1v3h-1zM34 25h1v1h-1zM34 82h1v3h-1zM35 24h1v1h-1zM35 81h1v2h-1zM36 25h1v1h-1zM36 81h1v2h-1zM37 25h1v1h-1zM37 80h1v2h-1zM38 27h1v1h-1zM38 81h1v2h-1zM39 24h1v2h-1zM39 81h1v2h-1zM40 25h1v1h-1zM40 83h1v2h-1zM41 27h1v1h-1zM41 82h1v2h-1zM42 26h1v1h-1zM42 81h1v3h-1zM43 24h1v1h-1zM43 81h1v2h-1zM44 23h1v2h-1zM44 81h1v2h-1zM45 25h1v2h-1zM45 80h1v2h-1zM46 25h1v2h-1zM46 82h1v2h-1zM47 26h1v2h-1zM47 82h1v2h-1zM48 24h1v2h-1zM48 81h1v2h-1zM49 26h1v1h-1zM49 81h1v3h-1zM50 27h1v2h-1zM50 81h1v2h-1zM51 27h1v1h-1zM51 82h1v2h-1zM52 27h1v2h-1zM52 80h1v2h-1zM53 28h1v1h-1zM53 81h1v3h-1zM54 28h1v1h-1zM54 80h1v2h-1zM55 25h1v2h-1zM55 81h1v2h-1zM56 27h1v1h-1zM56 80h1v2h-1zM57 24h1v2h-1zM57 83h1v2h-1zM58 23h1v2h-1zM58 81h1v2h-1zM59 22h1v2h-1zM59 81h1v2h-1zM60 26h1v2h-1zM60 81h1v2h-1zM61 26h1v2h-1zM61 80h1v2h-1zM62 23h1v2h-1zM62 82h1v2h-1zM63 25h1v3h-1zM63 82h1v3h-1zM64 24h1v1h-1zM64 82h1v2h-1zM65 23h1v2h-1zM65 81h1v2h-1zM66 23h1v2h-1zM66 83h1v2h-1zM67 22h1v2h-1zM67 81h1v2h-1zM68 23h1v2h-1zM68 82h1v2h-1zM69 26h1v3h-1zM69 82h1v2h-1zM70 22h1v2h-1zM70 81h1v2h-1zM71 24h1v2h-1zM71 81h1v2h-1zM72 21h1v3h-1zM72 82h1v2h-1zM73 25h1v3h-1zM73 82h1v2h-1zM74 23h1v2h-1zM74 81h1v3h-1zM75 24h1v2h-1zM75 82h1v2h-1zM76 24h1v2h-1zM76 84h1v2h-1zM77 25h1v2h-1zM77 82h1v2h-1zM78 24h1v2h-1zM78 82h1v2h-1zM79 27h1v2h-1zM79 81h1v2h-1zM80 24h1v2h-1zM80 80h1v2h-1zM81 26h1v1h-1zM81 81h1v2h-1zM82 25h1v2h-1zM82 81h1v3h-1zM83 23h1v2h-1zM83 83h1v2h-1zM84 25h1v2h-1zM84 82h1v2h-1zM85 27h1v2h-1zM85 81h1v3h-1zM86 26h1v1h-1zM86 81h1v2h-1zM87 25h1v1h-1zM87 83h1v3h-1zM88 24h1v1h-1zM88 82h1v3h-1zM89 26h1v1h-1zM89 81h1v3h-1zM90 22h1v2h-1zM90 80h1v2h-1zM91 22h1v2h-1zM91 81h1v3h-1zM92 22h1v1h-1zM92 82h1v2h-1zM93 23h1v2h-1zM93 82h1v2h-1zM94 22h1v2h-1zM94 82h1v2h-1zM95 22h1v2h-1zM95 83h1v2h-1zM96 26h1v1h-1zM96 81h1v2h-1zM97 21h1v2h-1zM97 81h1v2h-1zM98 21h1v2h-1zM98 81h1v3h-1zM99 25h1v2h-1zM99 81h1v3h-1zM100 22h1v3h-1zM100 83h1v2h-1zM101 19h1v2h-1zM101 82h1v2h-1zM102 21h1v2h-1zM102 83h1v2h-1zM103 22h1v2h-1zM103 82h1v2h-1zM104 23h1v2h-1zM104 81h1v2h-1zM105 22h1v2h-1zM105 82h1v3h-1zM106 21h1v2h-1zM106 84h1v3h-1zM107 20h1v2h-1zM107 82h1v3h-1zM108 22h1v2h-1zM108 83h1v2h-1zM109 22h1v2h-1zM109 84h1v2h-1zM110 22h1v2h-1zM110 83h1v2h-1zM111 23h1v2h-1zM111 81h1v2h-1zM112 22h1v2h-1zM112 80h1v3h-1zM113 24h1v2h-1zM113 83h1v2h-1zM114 21h1v2h-1zM114 81h1v3h-1zM115 23h1v2h-1zM115 81h1v2h-1zM116 25h1v1h-1zM116 83h1v3h-1zM117 24h1v2h-1zM117 82h1v3h-1zM118 22h1v2h-1zM118 82h1v2h-1zM119 23h1v2h-1zM119 82h1v2h-1zM120 23h1v2h-1zM120 83h1v3h-1zM121 25h1v1h-1zM121 82h1v2h-1zM122 24h1v2h-1zM122 81h1v3h-1zM123 24h1v1h-1zM123 81h1v3h-1zM124 25h1v1h-1zM124 80h1v3h-1zM125 25h1v1h-1zM125 82h1v3h-1zM126 25h1v2h-1zM126 80h1v2h-1zM127 26h1v1h-1zM127 81h1v2h-1zM128 25h1v1h-1zM128 83h1v2h-1zM129 22h1v2h-1zM129 81h1v2h-1zM130 23h1v2h-1zM130 82h1v2h-1zM131 26h1v2h-1zM131 81h1v3h-1zM132 24h1v1h-1zM132 82h1v2h-1zM133 24h1v1h-1zM133 80h1v2h-1zM134 23h1v2h-1zM134 81h1v2h-1zM135 21h1v2h-1zM135 81h1v3h-1zM136 21h1v2h-1zM136 80h1v2h-1zM137 23h1v2h-1zM137 81h1v2h-1zM138 21h1v2h-1zM138 82h1v2h-1zM139 20h1v2h-1zM139 80h1v3h-1zM140 20h1v2h-1zM140 82h1v2h-1zM141 22h1v2h-1zM141 82h1v2h-1zM142 22h1v2h-1zM142 82h1v2h-1zM143 24h1v2h-1zM143 83h1v2h-1zM144 21h1v2h-1zM144 82h1v3h-1zM145 23h1v2h-1zM145 80h1v2h-1zM146 22h1v2h-1zM146 82h1v3h-1zM147 21h1v2h-1zM147 81h1v3h-1zM148 23h1v2h-1zM148 82h1v3h-1zM149 23h1v2h-1zM149 82h1v2h-1zM150 22h1v1h-1zM150 80h1v2h-1zM151 24h1v2h-1zM151 81h1v2h-1zM152 21h1v2h-1zM152 82h1v2h-1zM153 23h1v2h-1zM153 81h1v3h-1zM154 24h1v1h-1zM154 82h1v2h-1zM155 24h1v2h-1zM155 82h1v2h-1zM156 23h1v1h-1zM156 82h1v3h-1zM157 24h1v1h-1zM157 82h1v2h-1z"/>
<path fill="#0078ff" d="M0 25h1v2h-1zM0 83h1v2h-1zM1 24h1v2h-1zM1 85h1v2h-1zM2 24h1v2h-1zM2 83h1v2h-1zM3 23h1v1h-1zM3 85h1v2h-1zM4 24h1v1h-1zM4 81h1v3h-1zM5 24h1v1h-1zM5 83h1v2h-1zM6 24h1v1h-1zM6 82h1v2h-1zM7 22h1v2h-1zM7 82h1v2h-1zM8 23h1v2h-1zM8 84h1v2h-1zM9 23h1v2h-1zM9 85h1v2h-1zM10 23h1v1h-1zM10 84h1v2h-1zM11 24h1v2h-1zM11 83h1v2h-1zM12 25h1v1h-1zM12 83h1v2h-1zM13 26h1v2h-1zM13 82h1v3h-1zM14 23h1v2h-1zM14 82h1v2h-1zM15 23h1v1h-1zM15 85h1v2h-1zM16 23h1v2h-1zM16 83h1v2h-1zM17 23h1v1h-1zM17 81h1v3h-1zM18 26h1v1h-1zM18 84h1v2h-1zM19 23h1v1h-1zM19 85h1v2h-1zM20 21h1v2h-1zM20 84h1v2h-1zM21 24h1v1h-1zM21 84h1v2h-1zM22 24h1v2h-1zM22 83h1v2h-1zM23 23h1v1h-1zM23 84h1v2h-1zM24 22h1v2h-1zM24 83h1v2h-1zM25 23h1v1h-1zM25 85h1v3h-1zM26 25h1v1h-1zM26 83h1v2h-1zM27 25h1v1h-1zM27 82h1v2h-1zM28 24h1v1h-1zM28 82h1v3h-1zM29 24h1v1h-1zM29 85h1v2h-1zM30 25h1v1h-1zM30 83h1v3h-1zM31 26h1v2h-1zM31 86h1v3h-1zM32 24h1v2h-1zM32 83h1v2h-1zM33 24h1v2h-1zM33 84h1v2h-1zM34 24h1v1h-1zM34 85h1v2h-1zM35 23h1v1h-1zM35 83h1v2h-1zM36 24h1v1h-1zM36 83h1v2h-1zM37 23h1v2h-1zM37 82h1v2h-1zM38 25h1v2h-1zM38 83h1v2h-1zM39 23h1v1h-1zM39 83h1v2h-1zM40 24h1v1h-1zM40 85h1v2h-1zM41 26h1v1h-1zM41 84h1v2h-1zM42 24h1v2h-1zM42 84h1v2h-1zM43 22h1v2h-1zM43 83h1v2h-1zM44 22h1v1h-1zM44 83h1v2h-1zM45 24h1v1h-1zM45 82h1v2h-1zM46 24h1v1h-1zM46 84h1v2h-1zM47 25h1v1h-1zM47 84h1v2h-1zM48 23h1v1h-1zM48 83h1v3h-1zM49 24h1v2h-1zM49 84h1v2h-1zM50 25h1v2h-1zM50 83h1v2h-1zM51 25h1v2h-1zM51 84h1v2h-1zM52 25h1v2h-1zM52 82h1v2h-1zM53 26h1v2h-1zM53 84h1v2h-1zM54 26h1v2h-1zM54 82h1v2h-1zM55 24h1v1h-1zM55 83h1v2h-1zM56 25h1v2h-1zM56 82h1v2h-1zM57 23h1v1h-1zM57 85h1v2h-1zM58 22h1v1h-1zM58 83h1v2h-1zM59 21h1v1h-1zM59 83h1v3h-1zM60 24h1v2h-1zM60 83h1v2h-1zM61 24h1v2h-1zM61 82h1v2h-1zM62 21h1v2h-1zM62 84h1v3h-1zM63 23h1v2h-1zM63 85h1v2h-1zM64 22h1v2h-1zM64 84h1v2h-1zM65 21h1v2h-1zM65 83h1v2h-1zM66 22h1v1h-1zM66 85h1v2h-1zM67 20h1v2h-1zM67 83h1v2h-1zM68 21h1v2h-1zM68 84h1v2h-1zM69 24h1v2h-1zM69 84h1v2h-1zM70 20h1v2h-1zM70 83h1v3h-1zM71 22h1v2h-1zM71 83h1v2h-1zM72 19h1v2h-1zM72 84h1v2h-1zM73 22h1v3h-1zM73 84h1v2h-1zM74 21h1v2h-1zM74 84h1v2h-1zM75 21h1v3h-1zM75 84h1v2h-1zM76 22h1v2h-1zM76 86h1v3h-1zM77 23h1v2h-1zM77 84h1v2h-1zM78 23h1v1h-1zM78 84h1v2h-1zM79 26h1v1h-1zM79 83h1v2h-1zM80 23h1v1h-1zM80 82h1v2h-1zM81 24h1v2h-1zM81 83h1v3h-1zM82 24h1v1h-1zM82 84h1v2h-1zM83 22h1v1h-1zM83 85h1v2h-1zM84 24h1v1h-1zM84 84h1v2h-1zM85 25h1v2h-1zM85 84h1v2h-1zM86 24h1v2h-1zM86 83h1v3h-1zM87 24h1v1h-1zM87 86h1v2h-1zM88 23h1v1h-1zM88 85h1v2h-1zM89 24h1v2h-1zM89 84h1v2h-1zM90 20h1v2h-1zM90 82h1v3h-1zM91 20h1v2h-1zM91 84h1v2h-1zM92 20h1v2h-1zM92 84h1v3h-1zM93 21h1v2h-1zM93 84h1v3h-1zM94 20h1v2h-1zM94 84h1v3h-1zM95 20h1v2h-1zM95 85h1v2h-1zM96 24h1v2h-1zM96 83h1v3h-1zM97 19h1v2h-1zM97 83h1v3h-1zM98 19h1v2h-1zM98 84h1v2h-1zM99 22h1v3h-1zM99 84h1v2h-1zM100 20h1v2h-1zM100 85h1v3h-1zM101 17h1v2h-1zM101 84h1v3h-1zM102 19h1v2h-1zM102 85h1v2h-1zM103 19h1v3h-1zM103 84h1v3h-1zM104 20h1v3h-1zM104 83h1v3h-1zM105 20h1v2h-1zM105 85h1v2h-1zM106 20h1v1h-1zM106 87h1v2h-1zM107 19h1v1h-1zM107 85h1v2h-1zM108 20h1v2h-1zM108 85h1v2h-1zM109 20h1v2h-1zM109 86h1v2h-1zM110 20h1v2h-1zM110 85h1v3h-1zM111 21h1v2h-1zM111 83h1v3h-1zM112 21h1v1h-1zM112 83h1v2h-1zM113 21h1v3h-1zM113 85h1v2h-1zM114 20h1v1h-1zM114 84h1v2h-1zM115 21h1v2h-1zM115 83h1v3h-1zM116 23h1v2h-1zM116 86h1v2h-1zM117 22h1v2h-1zM117 85h1v2h-1zM118 21h1v1h-1zM118 84h1v3h-1zM119 21h1v2h-1zM119 84h1v2h-1zM120 22h1v1h-1zM120 86h1v2h-1zM121 23h1v2h-1zM121 84h1v3h-1zM122 23h1v1h-1zM122 84h1v2h-1zM123 22h1v2h-1zM123 84h1v2h-1zM124 23h1v2h-1zM124 83h1v2h-1zM125 23h1v2h-1zM125 85h1v2h-1zM126 24h1v1h-1zM126 82h1v2h-1zM127 24h1v2h-1zM127 83h1v2h-1zM128 23h1v2h-1zM128 85h1v2h-1zM129 20h1v2h-1zM129 83h1v2h-1zM130 22h1v1h-1zM130 84h1v2h-1zM131 24h1v2h-1zM131 84h1v2h-1zM132 22h1v2h-1zM132 84h1v2h-1zM133 22h1v2h-1zM133 82h1v3h-1zM134 21h1v2h-1zM134 83h1v2h-1zM135 20h1v1h-1zM135 84h1v2h-1zM136 19h1v2h-1zM136 82h1v3h-1zM137 21h1v2h-1zM137 83h1v2h-1zM138 20h1v1h-1zM138 84h1v2h-1zM139 18h1v2h-1zM139 83h1v2h-1zM140 19h1v1h-1zM140 84h1v3h-1zM141 20h1v2h-1zM141 84h1v2h-1zM142 20h1v2h-1zM142 84h1v2h-1zM143 22h1v2h-1zM143 85h1v2h-1zM144 19h1v2h-1zM144 85h1v2h-1zM145 21h1v2h-1zM145 82h1v2h-1zM146 20h1v2h-1zM146 85h1v2h-1zM147 20h1v1h-1zM147 84h1v2h-1zM148 21h1v2h-1zM148 85h1v2h-1zM149 22h1v1h-1zM149 84h1v2h-1zM150 20h1v2h-1zM150 82h1v3h-1zM151 22h1v2h-1zM151 83h1v2h-1zM152 20h1v1h-1zM152 84h1v2h-1zM153 22h1v1h-1zM153 84h1v2h-1zM154 22h1v2h-1zM154 84h1v3h-1zM155 22h1v2h-1zM155 84h1v3h-1zM156 22h1v1h-1zM156 85h1v2h-1zM157 22h1v2h-1zM157 84h1v3h-1z"/>
<path fill="#0087ff" d="M0 23h1v2h-1zM0 85h1v2h-1zM1 22h1v2h-1zM1 87h1v2h-1zM2 23h1v1h-1zM2 85h1v2h-1zM3 22h1v1h-1zM3 87h1v2h-1zM4 22h1v2h-1zM4 84h1v2h-1zM5 22h1v2h-1zM5 85h1v2h-1zM6 22h1v2h-1zM6 84h1v2h-1zM7 21h1v1h-1zM7 84h1v2h-1zM8 22h1v1h-1zM8 86h1v3h-1zM9 22h1v1h-1zM9 87h1v3h-1zM10 22h1v1h-1zM10 86h1v2h-1zM11 23h1v1h-1zM11 85h1v2h-1zM12 23h1v2h-1zM12 85h1v3h-1zM13 24h1v2h-1zM13 85h1v2h-1zM14 22h1v1h-1zM14 84h1v3h-1zM15 21h1v2h-1zM15 87h1v2h-1zM16 22h1v1h-1zM16 85h1v2h-1zM17 22h1v1h-1zM17 84h1v2h-1zM18 24h1v2h-1zM18 86h1v2h-1zM19 21h1v2h-1zM19 87h1v3h-1zM20 20h1v1h-1zM20 86h1v2h-1zM21 23h1v1h-1zM21 86h1v3h-1zM22 22h1v2h-1zM22 85h1v2h-1zM23 21h1v2h-1zM23 86h1v2h-1zM24 21h1v1h-1zM24 85h1v2h-1zM25 22h1v1h-1zM25 88h1v2h-1zM26 24h1v1h-1zM26 85h1v2h-1zM27 24h1v1h-1zM27 84h1v2h-1zM28 23h1v1h-1zM28 85h1v2h-1zM29 23h1v1h-1zM29 87h1v3h-1zM30 24h1v1h-1zM30 86h1v2h-1zM31 25h1v1h-1zM31 89h1v2h-1zM32 23h1v1h-1zM32 85h1v3h-1zM33 23h1v1h-1zM33 86h1v2h-1zM34 23h1v1h-1zM34 87h1v2h-1zM35 22h1v1h-1zM35 85h1v2h-1zM36 23h1v1h-1zM36 85h1v2h-1zM37 22h1v1h-1zM37 84h1v3h-1zM38 23h1v2h-1zM38 85h1v3h-1zM39 21h1v2h-1zM39 85h1v2h-1zM40 22h1v2h-1zM40 87h1v3h-1zM41 24h1v2h-1zM41 86h1v3h-1zM42 23h1v1h-1zM42 86h1v2h-1zM43 21h1v1h-1zM43 85h1v2h-1zM44 20h1v2h-1zM44 85h1v2h-1zM45 23h1v1h-1zM45 84h1v2h-1zM46 23h1v1h-1zM46 86h1v3h-1zM47 23h1v2h-1zM47 86h1v2h-1zM48 22h1v1h-1zM48 86h1v2h-1zM49 23h1v1h-1zM49 86h1v2h-1zM50 23h1v2h-1zM50 85h1v2h-1zM51 23h1v2h-1zM51 86h1v3h-1zM52 24h1v1h-1zM52 84h1v2h-1zM53 25h1v1h-1zM53 86h1v2h-1zM54 24h1v2h-1zM54 84h1v2h-1zM55 23h1v1h-1zM55 85h1v3h-1zM56 24h1v1h-1zM56 84h1v3h-1zM57 22h1v1h-1zM57 87h1v3h-1zM58 20h1v2h-1zM58 85h1v2h-1zM59 19h1v2h-1zM59 86h1v2h-1zM60 22h1v2h-1zM60 85h1v2h-1zM61 22h1v2h-1zM61 84h1v2h-1zM62 20h1v1h-1zM62 87h1v2h-1zM63 21h1v2h-1zM63 87h1v2h-1zM64 21h1v1h-1zM64 86h1v3h-1zM65 19h1v2h-1zM65 85h1v2h-1zM66 20h1v2h-1zM66 87h1v3h-1zM67 18h1v2h-1zM67 85h1v2h-1zM68 19h1v2h-1zM68 86h1v3h-1zM69 21h1v3h-1zM69 86h1v3h-1zM70 18h1v2h-1zM70 86h1v2h-1zM71 20h1v2h-1zM71 85h1v2h-1zM72 17h1v2h-1zM72 86h1v3h-1zM73 19h1v3h-1zM73 86h1v3h-1zM74 19h1v2h-1zM74 86h1v2h-1zM75 19h1v2h-1zM75 86h1v3h-1zM76 20h1v2h-1zM76 89h1v3h-1zM77 22h1v1h-1zM77 86h1v3h-1zM78 22h1v1h-1zM78 86h1v3h-1zM79 24h1v2h-1zM79 85h1v3h-1zM80 22h1v1h-1zM80 84h1v3h-1zM81 23h1v1h-1zM81 86h1v2h-1zM82 22h1v2h-1zM82 86h1v2h-1zM83 20h1v2h-1zM83 87h1v3h-1zM84 22h1v2h-1zM84 86h1v3h-1zM85 24h1v1h-1zM85 86h1v3h-1zM86 23h1v1h-1zM86 86h1v2h-1zM87 22h1v2h-1zM87 88h1v3h-1zM88 21h1v2h-1zM88 87h1v3h-1zM89 23h1v1h-1zM89 86h1v3h-1zM90 18h1v2h-1zM90 85h1v2h-1zM91 18h1v2h-1zM91 86h1v2h-1zM92 18h1v2h-1zM92 87h1v2h-1zM93 18h1v3h-1zM93 87h1v2h-1zM94 18h1v2h-1zM94 87h1v2h-1zM95 18h1v2h-1zM95 87h1v3h-1zM96 23h1v1h-1zM96 86h1v2h-1zM97 17h1v2h-1zM97 86h1v2h-1zM98 17h1v2h-1zM98 86h1v3h-1zM99 20h1v2h-1zM99 86h1v3h-1zM100 18h1v2h-1zM100 88h1v3h-1zM101 15h1v2h-1zM101 87h1v2h-1zM102 17h1v2h-1zM102 87h1v3h-1zM103 17h1v2h-1zM103 87h1v2h-1zM104 18h1v2h-1zM104 86h1v2h-1zM105 18h1v2h-1zM105 87h1v3h-1zM106 18h1v2h-1zM106 89h1v3h-1zM107 17h1v2h-1zM107 87h1v3h-1zM108 18h1v2h-1zM108 87h1v3h-1zM109 18h1v2h-1zM109 88h1v3h-1zM110 18h1v2h-1zM110 88h1v2h-1zM111 20h1v1h-1zM111 86h1v2h-1zM112 19h1v2h-1zM112 85h1v2h-1zM113 20h1v1h-1zM113 87h1v3h-1zM114 18h1v2h-1zM114 86h1v2h-1zM115 20h1v1h-1zM115 86h1v2h-1zM116 21h1v2h-1zM116 88h1v3h-1zM117 20h1v2h-1zM117 87h1v3h-1zM118 19h1v2h-1zM118 87h1v2h-1zM119 19h1v2h-1zM119 86h1v2h-1zM120 21h1v1h-1zM120 88h1v3h-1zM121 22h1v1h-1zM121 87h1v2h-1zM122 22h1v1h-1zM122 86h1v3h-1zM123 21h1v1h-1zM123 86h1v3h-1zM124 22h1v1h-1zM124 85h1v3h-1zM125 22h1v1h-1zM125 87h1v3h-1zM126 23h1v1h-1zM126 84h1v3h-1zM127 23h1v1h-1zM127 85h1v3h-1zM128 22h1v1h-1zM128 87h1v3h-1zM129 18h1v2h-1zM129 85h1v2h-1zM130 20h1v2h-1zM130 86h1v3h-1zM131 22h1v2h-1zM131 86h1v2h-1zM132 20h1v2h-1zM132 86h1v3h-1zM133 21h1v1h-1zM133 85h1v2h-1zM134 20h1v1h-1zM134 85h1v3h-1zM135 18h1v2h-1zM135 86h1v2h-1zM136 18h1v1h-1zM136 85h1v2h-1zM137 19h1v2h-1zM137 85h1v3h-1zM138 18h1v2h-1zM138 86h1v3h-1zM139 17h1v1h-1zM139 85h1v2h-1zM140 17h1v2h-1zM140 87h1v2h-1zM141 18h1v2h-1zM141 86h1v2h-1zM142 18h1v2h-1zM142 86h1v2h-1zM143 20h1v2h-1zM143 87h1v2h-1zM144 18h1v1h-1zM144 87h1v2h-1zM145 19h1v2h-1zM145 84h1v3h-1zM146 18h1v2h-1zM146 87h1v2h-1zM147 18h1v2h-1zM147 86h1v2h-1zM148 19h1v2h-1zM148 87h1v2h-1zM149 20h1v2h-1zM149 86h1v3h-1zM150 19h1v1h-1zM150 85h1v2h-1zM151 20h1v2h-1zM151 85h1v2h-1zM152 18h1v2h-1zM152 86h1v3h-1zM153 20h1v2h-1zM153 86h1v2h-1zM154 20h1v2h-1zM154 87h1v2h-1zM155 21h1v1h-1zM155 87h1v2h-1zM156 20h1v2h-1zM156 87h1v2h-1zM157 21h1v1h-1zM157 87h1v2h-1z"/>
<path fill="#0097ff" d="M0 22h1v1h-1zM0 87h1v2h-1zM1 21h1v1h-1zM1 89h1v3h-1zM2 21h1v2h-1zM2 87h1v3h-1zM3 21h1v1h-1zM3 89h1v3h-1zM4 21h1v1h-1zM4 86h1v2h-1zM5 21h1v1h-1zM5 87h1v3h-1zM6 21h1v1h-1zM6 86h1v3h-1zM7 19h1v2h-1zM7 86h1v3h-1zM8 21h1v1h-1zM8 89h1v3h-1zM9 21h1v1h-1zM9 90h1v3h-1zM10 21h1v1h-1zM10 88h1v3h-1zM11 21h1v2h-1zM11 87h1v2h-1zM12 22h1v1h-1zM12 88h1v2h-1zM13 23h1v1h-1zM13 87h1v2h-1zM14 21h1v1h-1zM14 87h1v2h-1zM15 20h1v1h-1zM15 89h1v3h-1zM16 20h1v2h-1zM16 87h1v3h-1zM17 21h1v1h-1zM17 86h1v2h-1zM18 23h1v1h-1zM18 88h1v3h-1zM19 20h1v1h-1zM19 90h1v2h-1zM20 18h1v2h-1zM20 88h1v3h-1zM21 21h1v2h-1zM21 89h1v3h-1zM22 20h1v2h-1zM22 87h1v2h-1zM23 19h1v2h-1zM23 88h1v3h-1zM24 19h1v2h-1zM24 87h1v3h-1zM25 20h1v2h-1zM25 90h1v3h-1zM26 22h1v2h-1zM26 87h1v3h-1zM27 22h1v2h-1zM27 86h1v3h-1zM28 22h1v1h-1zM28 87h1v2h-1zM29 22h1v1h-1zM29 90h1v3h-1zM30 22h1v2h-1zM30 88h1v3h-1zM31 24h1v1h-1zM31 91h1v3h-1zM32 88h1v2h-1zM33 22h1v1h-1zM33 88h1v3h-1zM34 22h1v1h-1zM34 89h1v3h-1zM35 21h1v1h-1zM35 87h1v3h-1zM36 21h1v2h-1zM36 87h1v3h-1zM37 21h1v1h-1zM37 87h1v2h-1zM38 22h1v1h-1zM38 88h1v2h-1zM39 19h1v2h-1zM39 87h1v3h-1zM40 21h1v1h-1zM40 90h1v3h-1zM41 23h1v1h-1zM41 89h1v2h-1zM42 22h1v1h-1zM42 88h1v3h-1zM43 19h1v2h-1zM43 87h1v3h-1zM44 18h1v2h-1zM44 87h1v3h-1zM45 21h1v2h-1zM45 86h1v3h-1zM46 21h1v2h-1zM46 89h1v3h-1zM47 22h1v1h-1zM47 88h1v3h-1zM48 21h1v1h-1zM48 88h1v3h-1zM49 21h1v2h-1zM49 88h1v3h-1zM50 22h1v1h-1zM50 87h1v3h-1zM51 22h1v1h-1zM51 89h1v2h-1zM52 22h1v2h-1zM52 86h1v3h-1zM53 23h1v2h-1zM53 88h1v3h-1zM54 23h1v1h-1zM54 86h1v3h-1zM55 22h1v1h-1zM55 88h1v2h-1zM56 23h1v1h-1zM56 87h1v2h-1zM57 21h1v1h-1zM57 90h1v3h-1zM58 19h1v1h-1zM58 87h1v3h-1zM59 18h1v1h-1zM59 88h1v2h-1zM60 20h1v2h-1zM60 87h1v3h-1zM61 20h1v2h-1zM61 86h1v3h-1zM62 18h1v2h-1zM62 89h1v3h-1zM63 18h1v3h-1zM63 89h1v3h-1zM64 20h1v1h-1zM64 89h1v3h-1zM65 17h1v2h-1zM65 87h1v3h-1zM66 18h1v2h-1zM66 90h1v2h-1zM67 16h1v2h-1zM67 87h1v3h-1zM68 17h1v2h-1zM68 89h1v2h-1zM69 19h1v2h-1zM69 89h1v2h-1zM70 16h1v2h-1zM70 88h1v3h-1zM71 18h1v2h-1zM71 87h1v3h-1zM72 15h1v2h-1zM72 89h1v2h-1zM73 17h1v2h-1zM73 89h1v3h-1zM74 16h1v3h-1zM74 88h1v3h-1zM75 17h1v2h-1zM75 89h1v2h-1zM76 18h1v2h-1zM76 92h1v2h-1zM77 20h1v2h-1zM77 89h1v3h-1zM78 21h1v1h-1zM78 89h1v2h-1zM79 23h1v1h-1zM79 88h1v3h-1zM80 21h1v1h-1zM80 87h1v2h-1zM81 21h1v2h-1zM81 88h1v3h-1zM82 21h1v1h-1zM82 88h1v3h-1zM83 19h1v1h-1zM83 90h1v3h-1zM84 20h1v2h-1zM84 89h1v3h-1zM85 22h1v2h-1zM85 89h1v2h-1zM86 21h1v2h-1zM86 88h1v3h-1zM87 21h1v1h-1zM87 91h1v3h-1zM88 20h1v1h-1zM88 90h1v3h-1zM89 22h1v1h-1zM89 89h1v3h-1zM90 16h1v2h-1zM90 87h1v3h-1zM91 17h1v1h-1zM91 88h1v3h-1zM92 1h1v17h-1zM92 89h1v3h-1zM93 1h1v17h-1zM93 89h1v3h-1zM94 16h1v2h-1zM94 89h1v3h-1zM95 17h1v1h-1zM95 90h1v3h-1zM96 22h1v1h-1zM96 88h1v3h-1zM97 15h1v2h-1zM97 88h1v3h-1zM98 16h1v1h-1zM98 89h1v3h-1zM99 17h1v3h-1zM99 89h1v3h-1zM100 15h1v3h-1zM100 91h1v3h-1zM101 13h1v2h-1zM101 89h1v3h-1zM102 15h1v2h-1zM102 90h1v3h-1zM103 15h1v2h-1zM103 89h1v3h-1zM104 16h1v2h-1zM104 88h1v3h-1zM105 17h1v1h-1zM105 90h1v3h-1zM106 16h1v2h-1zM106 92h1v3h-1zM107 15h1v2h-1zM107 90h1v3h-1zM108 15h1v3h-1zM108 90h1v3h-1zM109 16h1v2h-1zM109 91h1v3h-1zM110 17h1v1h-1zM110 90h1v3h-1zM111 18h1v2h-1zM111 88h1v3h-1zM112 17h1v2h-1zM112 87h1v3h-1zM113 18h1v2h-1zM113 90h1v3h-1zM114 16h1v2h-1zM114 88h1v3h-1zM115 18h1v2h-1zM115 88h1v3h-1zM116 19h1v2h-1zM116 91h1v3h-1zM117 18h1v2h-1zM117 90h1v3h-1zM118 18h1v1h-1zM118 89h1v3h-1zM119 17h1v2h-1zM119 88h1v3h-1zM120 19h1v2h-1zM120 91h1v2h-1zM121 21h1v1h-1zM121 89h1v3h-1zM122 21h1v1h-1zM122 89h1v3h-1zM123 20h1v1h-1zM123 89h1v2h-1zM124 20h1v2h-1zM124 88h1v2h-1zM125 20h1v2h-1zM125 90h1v3h-1zM126 22h1v1h-1zM126 87h1v2h-1zM127 21h1v2h-1zM127 88h1v2h-1zM128 21h1v1h-1zM128 90h1v2h-1zM129 16h1v2h-1zM129 87h1v3h-1zM130 18h1v2h-1zM130 89h1v3h-1zM131 20h1v2h-1zM131 88h1v3h-1zM132 18h1v2h-1zM132 89h1v2h-1zM133 19h1v2h-1zM133 87h1v2h-1zM134 18h1v2h-1zM134 88h1v2h-1zM135 17h1v1h-1zM135 88h1v3h-1zM136 16h1v2h-1zM136 87h1v2h-1zM137 17h1v2h-1zM137 88h1v2h-1zM138 16h1v2h-1zM138 89h1v2h-1zM139 15h1v2h-1zM139 87h1v3h-1zM140 15h1v2h-1zM140 89h1v3h-1zM141 16h1v2h-1zM141 88h1v3h-1zM142 16h1v2h-1zM142 88h1v3h-1zM143 18h1v2h-1zM143 89h1v3h-1zM144 16h1v2h-1zM144 89h1v3h-1zM145 17h1v2h-1zM145 87h1v2h-1zM146 16h1v2h-1zM146 89h1v3h-1zM147 16h1v2h-1zM147 88h1v3h-1zM148 18h1v1h-1zM148 89h1v3h-1zM149 18h1v2h-1zM149 89h1v3h-1zM150 17h1v2h-1zM150 87h1v2h-1zM151 18h1v2h-1zM151 87h1v3h-1zM152 17h1v1h-1zM152 89h1v2h-1zM153 19h1v1h-1zM153 88h1v3h-1zM154 19h1v1h-1zM154 89h1v3h-1zM155 19h1v2h-1zM155 89h1v3h-1zM156 19h1v1h-1zM156 89h1v3h-1zM157 19h1v2h-1zM157 89h1v3h-1z"/>
<path fill="#00a7ff" d="M0 20h1v2h-1zM0 89h1v3h-1zM1 20h1v1h-1zM1 92h1v2h-1zM2 20h1v1h-1zM2 90h1v3h-1zM3 20h1v1h-1zM3 92h1v3h-1zM4 20h1v1h-1zM4 88h1v3h-1zM5 20h1v1h-1zM5 90h1v2h-1zM6 20h1v1h-1zM6 89h1v3h-1zM7 18h1v1h-1zM7 89h1v3h-1zM8 19h1v2h-1zM8 92h1v2h-1zM9 20h1v1h-1zM9 93h1v2h-1zM10 19h1v2h-1zM10 91h1v2h-1zM11 20h1v1h-1zM11 89h1v3h-1zM12 21h1v1h-1zM12 90h1v3h-1zM13 22h1v1h-1zM13 89h1v3h-1zM14 19h1v2h-1zM14 89h1v3h-1zM15 19h1v1h-1zM15 92h1v3h-1zM16 19h1v1h-1zM16 90h1v3h-1zM17 19h1v2h-1zM17 88h1v3h-1zM18 22h1v1h-1zM18 91h1v2h-1zM19 19h1v1h-1zM19 92h1v3h-1zM20 17h1v1h-1zM20 91h1v3h-1zM21 20h1v1h-1zM21 92h1v2h-1zM22 19h1v1h-1zM22 89h1v3h-1zM23 18h1v1h-1zM23 91h1v2h-1zM24 18h1v1h-1zM24 90h1v3h-1zM25 19h1v1h-1zM25 93h1v3h-1zM26 21h1v1h-1zM26 90h1v2h-1zM27 21h1v1h-1zM27 89h1v3h-1zM28 21h1v1h-1zM28 89h1v3h-1zM29 20h1v2h-1zM29 93h1v3h-1zM30 21h1v1h-1zM30 91h1v2h-1zM31 22h1v2h-1zM31 94h1v3h-1zM32 22h1v1h-1zM32 90h1v3h-1zM33 21h1v1h-1zM33 91h1v3h-1zM34 20h1v2h-1zM34 92h1v3h-1zM35 20h1v1h-1zM35 90h1v3h-1zM36 20h1v1h-1zM36 90h1v3h-1zM37 20h1v1h-1zM37 89h1v3h-1zM38 20h1v2h-1zM38 90h1v3h-1zM39 18h1v1h-1zM39 90h1v3h-1zM40 20h1v1h-1zM40 93h1v2h-1zM41 22h1v1h-1zM41 91h1v3h-1zM42 20h1v2h-1zM42 91h1v2h-1zM43 18h1v1h-1zM43 90h1v2h-1zM44 17h1v1h-1zM44 90h1v3h-1zM45 20h1v1h-1zM45 89h1v2h-1zM46 20h1v1h-1zM46 92h1v2h-1zM47 21h1v1h-1zM47 91h1v3h-1zM48 20h1v1h-1zM48 91h1v2h-1zM49 20h1v1h-1zM49 91h1v3h-1zM50 20h1v2h-1zM50 90h1v3h-1zM51 20h1v2h-1zM51 91h1v3h-1zM52 21h1v1h-1zM52 89h1v3h-1zM53 22h1v1h-1zM53 91h1v2h-1zM54 21h1v2h-1zM54 89h1v3h-1zM55 21h1v1h-1zM55 90h1v3h-1zM56 22h1v1h-1zM56 89h1v3h-1zM57 20h1v1h-1zM57 93h1v2h-1zM58 17h1v2h-1zM58 90h1v2h-1zM59 16h1v2h-1zM59 90h1v3h-1zM60 19h1v1h-1zM60 90h1v2h-1zM61 19h1v1h-1zM61 89h1v2h-1zM62 16h1v2h-1zM62 92h1v2h-1zM63 16h1v2h-1zM63 92h1v3h-1zM64 18h1v2h-1zM64 92h1v2h-1zM65 15h1v2h-1zM65 90h1v3h-1zM66 16h1v2h-1zM66 92h1v3h-1zM67 14h1v2h-1zM67 90h1v3h-1zM68 15h1v2h-1zM68 91h1v3h-1zM69 17h1v2h-1zM69 91h1v3h-1zM70 15h1v1h-1zM70 91h1v2h-1zM71 16h1v2h-1zM71 90h1v3h-1zM72 13h1v2h-1zM72 91h1v3h-1zM73 14h1v3h-1zM73 92h1v2h-1zM74 14h1v2h-1zM74 91h1v3h-1zM75 15h1v2h-1zM75 91h1v3h-1zM76 17h1v1h-1zM76 94h1v3h-1zM77 19h1v1h-1zM77 92h1v3h-1zM78 20h1v1h-1zM78 91h1v3h-1zM79 21h1v2h-1zM79 91h1v2h-1zM80 20h1v1h-1zM80 89h1v3h-1zM81 20h1v1h-1zM81 91h1v2h-1zM82 19h1v2h-1zM82 91h1v3h-1zM83 17h1v2h-1zM83 93h1v2h-1zM84 19h1v1h-1zM84 92h1v2h-1zM85 20h1v2h-1zM85 91h1v3h-1zM86 20h1v1h-1zM86 91h1v3h-1zM87 20h1v1h-1zM87 94h1v3h-1zM88 19h1v1h-1zM88 93h1v3h-1zM89 21h1v1h-1zM89 92h1v3h-1zM90 4h1v12h-1zM90 90h1v3h-1zM91 15h1v2h-1zM91 91h1v3h-1zM92 0h1v1h-1zM92 92h1v3h-1zM93 0h1v1h-1zM93 92h1v3h-1zM94 4h1v12h-1zM94 92h1v3h-1zM95 15h1v2h-1zM95 93h1v3h-1zM96 20h1v2h-1zM96 91h1v3h-1zM97 13h1v2h-1zM97 91h1v3h-1zM98 14h1v2h-1zM98 92h1v3h-1zM99 15h1v2h-1zM99 92h1v3h-1zM100 13h1v2h-1zM100 94h1v3h-1zM101 11h1v2h-1zM101 92h1v3h-1zM102 13h1v2h-1zM102 93h1v3h-1zM103 13h1v2h-1zM103 92h1v3h-1zM104 14h1v2h-1zM104 91h1v3h-1zM105 15h1v2h-1zM105 93h1v3h-1zM106 15h1v1h-1zM106 95h1v3h-1zM107 13h1v2h-1zM107 93h1v3h-1zM108 14h1v1h-1zM108 93h1v3h-1zM109 14h1v2h-1zM109 94h1v3h-1zM110 15h1v2h-1zM110 93h1v3h-1zM111 16h1v2h-1zM111 91h1v3h-1zM112 16h1v1h-1zM112 90h1v3h-1zM113 16h1v2h-1zM113 93h1v3h-1zM114 14h1v2h-1zM114 91h1v3h-1zM115 16h1v2h-1zM115 91h1v3h-1zM116 18h1v1h-1zM116 94h1v3h-1zM117 17h1v1h-1zM117 93h1v3h-1zM118 16h1v2h-1zM118 92h1v3h-1zM119 15h1v2h-1zM119 91h1v3h-1zM120 18h1v1h-1zM120 93h1v3h-1zM121 19h1v2h-1zM121 92h1v3h-1zM122 19h1v2h-1zM122 92h1v3h-1zM123 19h1v1h-1zM123 91h1v4h-1zM124 19h1v1h-1zM124 90h1v4h-1zM125 19h1v1h-1zM125 93h1v2h-1zM126 21h1v1h-1zM126 89h1v3h-1zM127 20h1v1h-1zM127 90h1v3h-1zM128 20h1v1h-1zM128 92h1v3h-1zM129 15h1v1h-1zM129 90h1v3h-1zM130 17h1v1h-1zM130 92h1v2h-1zM131 19h1v1h-1zM131 91h1v3h-1zM132 17h1v1h-1zM132 91h1v3h-1zM133 18h1v1h-1zM133 89h1v3h-1zM134 16h1v2h-1zM134 90h1v3h-1zM135 15h1v2h-1zM135 91h1v3h-1zM136 15h1v1h-1zM136 89h1v3h-1zM137 16h1v1h-1zM137 90h1v3h-1zM138 15h1v1h-1zM138 91h1v3h-1zM139 14h1v1h-1zM139 90h1v3h-1zM140 14h1v1h-1zM140 92h1v3h-1zM141 15h1v1h-1zM141 91h1v3h-1zM142 15h1v1h-1zM142 91h1v3h-1zM143 16h1v2h-1zM143 92h1v3h-1zM144 15h1v1h-1zM144 92h1v3h-1zM145 16h1v1h-1zM145 89h1v3h-1zM146 14h1v2h-1zM146 92h1v3h-1zM147 14h1v2h-1zM147 91h1v3h-1zM148 16h1v2h-1zM148 92h1v3h-1zM149 17h1v1h-1zM149 92h1v2h-1zM150 16h1v1h-1zM150 89h1v3h-1zM151 17h1v1h-1zM151 90h1v3h-1zM152 16h1v1h-1zM152 91h1v3h-1zM153 17h1v2h-1zM153 91h1v3h-1zM154 18h1v1h-1zM154 92h1v3h-1zM155 18h1v1h-1zM155 92h1v3h-1zM156 18h1v1h-1zM156 92h1v3h-1zM157 18h1v1h-1zM157 92h1v3h-1z"/>
<path fill="#00b7ff" d="M0 18h1v2h-1zM0 92h1v3h-1zM1 18h1v2h-1zM1 94h1v4h-1zM2 19h1v1h-1zM2 93h1v2h-1zM3 19h1v1h-1zM3 95h1v3h-1zM4 19h1v1h-1zM4 91h1v3h-1zM5 19h1v1h-1zM5 92h1v3h-1zM6 18h1v2h-1zM6 92h1v2h-1zM7 17h1v1h-1zM7 92h1v2h-1zM8 18h1v1h-1zM8 94h1v3h-1zM9 18h1v2h-1zM9 95h1v4h-1zM10 18h1v1h-1zM10 93h1v3h-1zM11 19h1v1h-1zM11 92h1v3h-1zM12 19h1v2h-1zM12 93h1v3h-1zM13 20h1v2h-1zM13 92h1v3h-1zM14 18h1v1h-1zM14 92h1v2h-1zM15 18h1v1h-1zM15 95h1v3h-1zM16 18h1v1h-1zM16 93h1v2h-1zM17 18h1v1h-1zM17 91h1v3h-1zM18 21h1v1h-1zM18 93h1v3h-1zM19 18h1v1h-1zM19 95h1v3h-1zM20 16h1v1h-1zM20 94h1v3h-1zM21 19h1v1h-1zM21 94h1v3h-1zM22 17h1v2h-1zM22 92h1v3h-1zM23 16h1v2h-1zM23 93h1v3h-1zM24 16h1v2h-1zM24 93h1v2h-1zM25 18h1v1h-1zM25 96h1v3h-1zM26 20h1v1h-1zM26 92h1v3h-1zM27 20h1v1h-1zM27 92h1v2h-1zM28 20h1v1h-1zM28 92h1v3h-1zM29 19h1v1h-1zM29 96h1v3h-1zM30 20h1v1h-1zM30 93h1v3h-1zM31 21h1v1h-1zM31 97h1v3h-1zM32 21h1v1h-1zM32 93h1v3h-1zM33 20h1v1h-1zM33 94h1v3h-1zM34 19h1v1h-1zM34 95h1v3h-1zM35 19h1v1h-1zM35 93h1v2h-1zM36 19h1v1h-1zM36 93h1v2h-1zM37 19h1v1h-1zM37 92h1v3h-1zM38 19h1v1h-1zM38 93h1v3h-1zM39 16h1v2h-1zM39 93h1v3h-1zM40 19h1v1h-1zM40 95h1v3h-1zM41 21h1v1h-1zM41 94h1v3h-1zM42 19h1v1h-1zM42 93h1v3h-1zM43 17h1v1h-1zM43 92h1v3h-1zM44 15h1v2h-1zM44 93h1v2h-1zM45 19h1v1h-1zM45 91h1v3h-1zM46 19h1v1h-1zM46 94h1v3h-1zM47 20h1v1h-1zM47 94h1v3h-1zM48 19h1v1h-1zM48 93h1v3h-1zM49 19h1v1h-1zM49 94h1v3h-1zM50 19h1v1h-1zM50 93h1v2h-1zM51 19h1v1h-1zM51 94h1v3h-1zM52 20h1v1h-1zM52 92h1v2h-1zM53 20h1v2h-1zM53 93h1v3h-1zM54 20h1v1h-1zM54 92h1v2h-1zM55 19h1v2h-1zM55 93h1v3h-1zM56 20h1v2h-1zM56 92h1v2h-1zM57 19h1v1h-1zM57 95h1v4h-1zM58 16h1v1h-1zM58 92h1v3h-1zM59 15h1v1h-1zM59 93h1v3h-1zM60 17h1v2h-1zM60 92h1v3h-1zM61 17h1v2h-1zM61 91h1v3h-1zM62 15h1v1h-1zM62 94h1v3h-1zM63 14h1v2h-1zM63 95h1v3h-1zM64 17h1v1h-1zM64 94h1v3h-1zM65 13h1v2h-1zM65 93h1v2h-1zM66 14h1v2h-1zM66 95h1v3h-1zM67 13h1v1h-1zM67 93h1v2h-1zM68 14h1v1h-1zM68 94h1v3h-1zM69 15h1v2h-1zM69 94h1v3h-1zM70 13h1v2h-1zM70 93h1v3h-1zM71 14h1v2h-1zM71 93h1v2h-1zM72 11h1v2h-1zM72 94h1v3h-1zM73 12h1v2h-1zM73 94h1v3h-1zM74 12h1v2h-1zM74 94h1v3h-1zM75 13h1v2h-1zM75 94h1v3h-1zM76 15h1v2h-1zM76 97h1v4h-1zM77 17h1v2h-1zM77 95h1v3h-1zM78 19h1v1h-1zM78 94h1v3h-1zM79 20h1v1h-1zM79 93h1v3h-1zM80 19h1v1h-1zM80 92h1v3h-1zM81 18h1v2h-1zM81 93h1v3h-1zM82 18h1v1h-1zM82 94h1v3h-1zM83 16h1v1h-1zM83 95h1v4h-1zM84 18h1v1h-1zM84 94h1v3h-1zM85 19h1v1h-1zM85 94h1v3h-1zM86 19h1v1h-1zM86 94h1v3h-1zM87 19h1v1h-1zM87 97h1v3h-1zM88 18h1v1h-1zM88 96h1v3h-1zM89 20h1v1h-1zM89 95h1v3h-1zM90 1h1v3h-1zM90 93h1v3h-1zM91 12h1v3h-1zM91 94h1v3h-1zM92 95h1v3h-1zM93 95h1v3h-1zM94 0h1v4h-1zM94 95h1v3h-1zM95 13h1v2h-1zM95 96h1v3h-1zM96 19h1v1h-1zM96 94h1v3h-1zM97 11h1v2h-1zM97 94h1v3h-1zM98 12h1v2h-1zM98 95h1v3h-1zM99 13h1v2h-1zM99 95h1v3h-1zM100 11h1v2h-1zM100 97h1v3h-1zM101 10h1v1h-1zM101 95h1v3h-1zM102 11h1v2h-1zM102 96h1v3h-1zM103 11h1v2h-1zM103 95h1v3h-1zM104 12h1v2h-1zM104 94h1v3h-1zM105 13h1v2h-1zM105 96h1v3h-1zM106 13h1v2h-1zM106 98h1v4h-1zM107 12h1v1h-1zM107 96h1v3h-1zM108 12h1v2h-1zM108 96h1v3h-1zM109 12h1v2h-1zM109 97h1v4h-1zM110 13h1v2h-1zM110 96h1v4h-1zM111 15h1v1h-1zM111 94h1v3h-1zM112 14h1v2h-1zM112 93h1v3h-1zM113 14h1v2h-1zM113 96h1v3h-1zM114 13h1v1h-1zM114 94h1v3h-1zM115 14h1v2h-1zM115 94h1v3h-1zM116 16h1v2h-1zM116 97h1v3h-1zM117 15h1v2h-1zM117 96h1v3h-1zM118 15h1v1h-1zM118 95h1v3h-1zM119 13h1v2h-1zM119 94h1v3h-1zM120 17h1v1h-1zM120 96h1v4h-1zM121 18h1v1h-1zM121 95h1v3h-1zM122 18h1v1h-1zM122 95h1v3h-1zM123 0h1v1h-1zM123 18h1v1h-1zM123 95h1v3h-1zM124 0h1v1h-1zM124 18h1v1h-1zM124 94h1v3h-1zM125 18h1v1h-1zM125 95h1v4h-1zM126 19h1v2h-1zM126 92h1v3h-1zM127 19h1v1h-1zM127 93h1v3h-1zM128 19h1v1h-1zM128 95h1v3h-1zM129 13h1v2h-1zM129 93h1v3h-1zM130 15h1v2h-1zM130 94h1v3h-1zM131 17h1v2h-1zM131 94h1v3h-1zM132 15h1v2h-1zM132 94h1v3h-1zM133 17h1v1h-1zM133 92h1v3h-1zM134 15h1v1h-1zM134 93h1v3h-1zM135 14h1v1h-1zM135 94h1v3h-1zM136 13h1v2h-1zM136 92h1v3h-1zM137 14h1v2h-1zM137 93h1v3h-1zM138 13h1v2h-1zM138 94h1v3h-1zM139 13h1v1h-1zM139 93h1v2h-1zM140 12h1v2h-1zM140 95h1v3h-1zM141 13h1v2h-1zM141 94h1v3h-1zM142 13h1v2h-1zM142 94h1v3h-1zM143 14h1v2h-1zM143 95h1v3h-1zM144 13h1v2h-1zM144 95h1v3h-1zM145 14h1v2h-1zM145 92h1v3h-1zM146 13h1v1h-1zM146 95h1v3h-1zM147 13h1v1h-1zM147 94h1v3h-1zM148 14h1v2h-1zM148 95h1v3h-1zM149 15h1v2h-1zM149 94h1v3h-1zM150 15h1v1h-1zM150 92h1v3h-1zM151 15h1v2h-1zM151 93h1v3h-1zM152 14h1v2h-1zM152 94h1v3h-1zM153 16h1v1h-1zM153 94h1v2h-1zM154 16h1v2h-1zM154 95h1v3h-1zM155 17h1v1h-1zM155 95h1v3h-1zM156 16h1v2h-1zM156 95h1v3h-1zM157 17h1v1h-1zM157 95h1v3h-1z"/>
<path fill="#00c7ff" d="M0 17h1v1h-1zM0 95h1v3h-1zM1 17h1v1h-1zM1 98h1v3h-1zM2 17h1v2h-1zM2 95h1v3h-1zM3 18h1v1h-1zM3 98h1v3h-1zM4 18h1v1h-1zM4 94h1v3h-1zM5 17h1v2h-1zM5 95h1v3h-1zM6 17h1v1h-1zM6 94h1v3h-1zM7 16h1v1h-1zM7 94h1v3h-1zM8 17h1v1h-1zM8 97h1v3h-1zM9 17h1v1h-1zM9 99h1v3h-1zM10 17h1v1h-1zM10 96h1v3h-1zM11 17h1v2h-1zM11 95h1v3h-1zM12 18h1v1h-1zM12 96h1v3h-1zM13 19h1v1h-1zM13 95h1v3h-1zM14 17h1v1h-1zM14 94h1v3h-1zM15 16h1v2h-1zM15 98h1v3h-1zM16 17h1v1h-1zM16 95h1v4h-1zM17 17h1v1h-1zM17 94h1v2h-1zM18 19h1v2h-1zM18 96h1v3h-1zM19 16h1v2h-1zM19 98h1v3h-1zM20 14h1v2h-1zM20 97h1v3h-1zM21 18h1v1h-1zM21 97h1v4h-1zM22 16h1v1h-1zM22 95h1v3h-1zM23 15h1v1h-1zM23 96h1v3h-1zM24 15h1v1h-1zM24 95h1v4h-1zM25 17h1v1h-1zM25 99h1v3h-1zM26 18h1v2h-1zM26 95h1v3h-1zM27 19h1v1h-1zM27 94h1v3h-1zM28 19h1v1h-1zM28 95h1v3h-1zM29 18h1v1h-1zM29 99h1v3h-1zM30 19h1v1h-1zM30 96h1v4h-1zM31 20h1v1h-1zM31 100h1v4h-1zM32 20h1v1h-1zM32 96h1v3h-1zM33 19h1v1h-1zM33 97h1v3h-1zM34 18h1v1h-1zM34 98h1v3h-1zM35 18h1v1h-1zM35 95h1v4h-1zM36 18h1v1h-1zM36 95h1v4h-1zM37 17h1v2h-1zM37 95h1v3h-1zM38 17h1v2h-1zM38 96h1v3h-1zM39 15h1v1h-1zM39 96h1v3h-1zM40 18h1v1h-1zM40 98h1v4h-1zM41 20h1v1h-1zM41 97h1v3h-1zM42 18h1v1h-1zM42 96h1v3h-1zM43 16h1v1h-1zM43 95h1v3h-1zM44 14h1v1h-1zM44 95h1v4h-1zM45 18h1v1h-1zM45 94h1v3h-1zM46 18h1v1h-1zM46 97h1v4h-1zM47 18h1v2h-1zM47 97h1v3h-1zM48 18h1v1h-1zM48 96h1v3h-1zM49 18h1v1h-1zM49 97h1v3h-1zM50 17h1v2h-1zM50 95h1v4h-1zM51 18h1v1h-1zM51 97h1v3h-1zM52 18h1v2h-1zM52 94h1v3h-1zM53 19h1v1h-1zM53 96h1v4h-1zM54 19h1v1h-1zM54 94h1v3h-1zM55 18h1v1h-1zM55 96h1v3h-1zM56 19h1v1h-1zM56 94h1v4h-1zM57 18h1v1h-1zM57 99h1v3h-1zM58 14h1v2h-1zM58 95h1v3h-1zM59 14h1v1h-1zM59 96h1v3h-1zM60 16h1v1h-1zM60 95h1v3h-1zM61 15h1v2h-1zM61 94h1v3h-1zM62 14h1v1h-1zM62 97h1v4h-1zM63 12h1v2h-1zM63 98h1v3h-1zM64 16h1v1h-1zM64 97h1v4h-1zM65 12h1v1h-1zM65 95h1v4h-1zM66 13h1v1h-1zM66 98h1v3h-1zM67 11h1v2h-1zM67 95h1v3h-1zM68 12h1v2h-1zM68 97h1v3h-1zM69 13h1v2h-1zM69 97h1v3h-1zM70 11h1v2h-1zM70 96h1v3h-1zM71 12h1v2h-1zM71 95h1v3h-1zM72 9h1v2h-1zM72 97h1v3h-1zM73 9h1v3h-1zM73 97h1v4h-1zM74 10h1v2h-1zM74 97h1v3h-1zM75 12h1v1h-1zM75 97h1v4h-1zM76 13h1v2h-1zM76 101h1v3h-1zM77 16h1v1h-1zM77 98h1v3h-1zM78 18h1v1h-1zM78 97h1v4h-1zM79 19h1v1h-1zM79 96h1v4h-1zM80 18h1v1h-1zM80 95h1v3h-1zM81 17h1v1h-1zM81 96h1v4h-1zM82 16h1v2h-1zM82 97h1v3h-1zM83 15h1v1h-1zM83 99h1v3h-1zM84 16h1v2h-1zM84 97h1v4h-1zM85 18h1v1h-1zM85 97h1v4h-1zM86 18h1v1h-1zM86 97h1v3h-1zM87 18h1v1h-1zM87 100h1v4h-1zM88 17h1v1h-1zM88 99h1v4h-1zM89 19h1v1h-1zM89 98h1v3h-1zM90 0h1v1h-1zM90 96h1v3h-1zM91 0h1v12h-1zM91 97h1v4h-1zM92 98h1v3h-1zM93 98h1v3h-1zM94 98h1v4h-1zM95 12h1v1h-1zM95 99h1v3h-1zM96 18h1v1h-1zM96 97h1v3h-1zM97 10h1v1h-1zM97 97h1v3h-1zM98 10h1v2h-1zM98 98h1v3h-1zM99 11h1v2h-1zM99 98h1v3h-1zM100 9h1v2h-1zM100 100h1v4h-1zM101 8h1v2h-1zM101 98h1v4h-1zM102 10h1v1h-1zM102 99h1v4h-1zM103 10h1v1h-1zM103 98h1v4h-1zM104 10h1v2h-1zM104 97h1v3h-1zM105 12h1v1h-1zM105 99h1v3h-1zM106 12h1v1h-1zM106 102h1v3h-1zM107 10h1v2h-1zM107 99h1v3h-1zM108 10h1v2h-1zM108 99h1v4h-1zM109 10h1v2h-1zM109 101h1v3h-1zM110 12h1v1h-1zM110 100h1v3h-1zM111 14h1v1h-1zM111 97h1v4h-1zM112 13h1v1h-1zM112 96h1v3h-1zM113 12h1v2h-1zM113 99h1v4h-1zM114 11h1v2h-1zM114 97h1v4h-1zM115 13h1v1h-1zM115 97h1v3h-1zM116 15h1v1h-1zM116 100h1v4h-1zM117 14h1v1h-1zM117 99h1v4h-1zM118 14h1v1h-1zM118 98h1v4h-1zM119 12h1v1h-1zM119 97h1v4h-1zM120 16h1v1h-1zM120 100h1v3h-1zM121 17h1v1h-1zM121 98h1v3h-1zM122 17h1v1h-1zM122 98h1v3h-1zM123 1h1v1h-1zM123 17h1v1h-1zM123 98h1v3h-1zM124 1h1v1h-1zM124 17h1v1h-1zM124 97h1v3h-1zM125 17h1v1h-1zM125 99h1v3h-1zM126 18h1v1h-1zM126 95h1v3h-1zM127 18h1v1h-1zM127 96h1v3h-1zM128 18h1v1h-1zM128 98h1v4h-1zM129 12h1v1h-1zM129 96h1v3h-1zM130 14h1v1h-1zM130 97h1v4h-1zM131 16h1v1h-1zM131 97h1v3h-1zM132 13h1v2h-1zM132 97h1v4h-1zM133 16h1v1h-1zM133 95h1v3h-1zM134 13h1v2h-1zM134 96h1v3h-1zM135 12h1v2h-1zM135 97h1v3h-1zM136 12h1v1h-1zM136 95h1v3h-1zM137 12h1v2h-1zM137 96h1v3h-1zM138 12h1v1h-1zM138 97h1v3h-1zM139 11h1v2h-1zM139 95h1v4h-1zM140 11h1v1h-1zM140 98h1v3h-1zM141 11h1v2h-1zM141 97h1v3h-1zM142 11h1v2h-1zM142 97h1v3h-1zM143 12h1v2h-1zM143 98h1v3h-1zM144 12h1v1h-1zM144 98h1v4h-1zM145 12h1v2h-1zM145 95h1v3h-1zM146 11h1v2h-1zM146 98h1v4h-1zM147 11h1v2h-1zM147 97h1v3h-1zM148 13h1v1h-1zM148 98h1v3h-1zM149 14h1v1h-1zM149 97h1v4h-1zM150 14h1v1h-1zM150 95h1v3h-1zM151 14h1v1h-1zM151 96h1v3h-1zM152 13h1v1h-1zM152 97h1v4h-1zM153 14h1v2h-1zM153 96h1v4h-1zM154 15h1v1h-1zM154 98h1v3h-1zM155 15h1v2h-1zM155 98h1v3h-1zM156 15h1v1h-1zM156 98h1v3h-1zM157 15h1v2h-1zM157 98h1v3h-1z"/>
<path fill="#00d7ff" d="M0 15h1v2h-1zM0 98h1v3h-1zM1 16h1v1h-1zM1 101h1v2h-1zM2 16h1v1h-1zM2 98h1v4h-1zM3 17h1v1h-1zM3 101h1v3h-1zM4 17h1v1h-1zM4 97h1v3h-1zM5 16h1v1h-1zM5 98h1v4h-1zM6 16h1v1h-1zM6 97h1v3h-1zM7 14h1v2h-1zM7 97h1v3h-1zM8 16h1v1h-1zM8 100h1v3h-1zM9 16h1v1h-1zM9 102h1v2h-1zM10 16h1v1h-1zM10 99h1v4h-1zM11 16h1v1h-1zM11 98h1v3h-1zM12 17h1v1h-1zM12 99h1v3h-1zM13 18h1v1h-1zM13 98h1v3h-1zM14 16h1v1h-1zM14 97h1v4h-1zM15 15h1v1h-1zM15 101h1v3h-1zM16 16h1v1h-1zM16 99h1v3h-1zM17 16h1v1h-1zM17 96h1v4h-1zM18 18h1v1h-1zM18 99h1v3h-1zM19 15h1v1h-1zM19 101h1v3h-1zM20 13h1v1h-1zM20 100h1v3h-1zM21 17h1v1h-1zM21 101h1v3h-1zM22 14h1v2h-1zM22 98h1v3h-1zM23 14h1v1h-1zM23 99h1v3h-1zM24 14h1v1h-1zM24 99h1v3h-1zM25 16h1v1h-1zM25 102h1v3h-1zM26 17h1v1h-1zM26 98h1v3h-1zM27 18h1v1h-1zM27 97h1v4h-1zM28 18h1v1h-1zM28 98h1v3h-1zM29 17h1v1h-1zM29 102h1v4h-1zM30 18h1v1h-1zM30 100h1v3h-1zM31 19h1v1h-1zM31 104h1v2h-1zM32 19h1v1h-1zM32 99h1v4h-1zM33 18h1v1h-1zM33 100h1v3h-1zM34 17h1v1h-1zM34 101h1v3h-1zM35 17h1v1h-1zM35 99h1v3h-1zM36 17h1v1h-1zM36 99h1v3h-1zM37 16h1v1h-1zM37 98h1v3h-1zM38 16h1v1h-1zM38 99h1v3h-1zM39 14h1v1h-1zM39 99h1v3h-1zM40 17h1v1h-1zM40 102h1v2h-1zM41 18h1v2h-1zM41 100h1v3h-1zM42 17h1v1h-1zM42 99h1v4h-1zM43 15h1v1h-1zM43 98h1v3h-1zM44 12h1v2h-1zM44 99h1v3h-1zM45 17h1v1h-1zM45 97h1v3h-1zM46 17h1v1h-1zM46 101h1v3h-1zM47 17h1v1h-1zM47 100h1v3h-1zM48 17h1v1h-1zM48 99h1v4h-1zM49 16h1v2h-1zM49 100h1v3h-1zM50 16h1v1h-1zM50 99h1v3h-1zM51 16h1v2h-1zM51 100h1v3h-1zM52 17h1v1h-1zM52 97h1v4h-1zM53 18h1v1h-1zM53 100h1v3h-1zM54 18h1v1h-1zM54 97h1v3h-1zM55 17h1v1h-1zM55 99h1v3h-1zM56 18h1v1h-1zM56 98h1v3h-1zM57 17h1v1h-1zM57 102h1v3h-1zM58 13h1v1h-1zM58 98h1v4h-1zM59 13h1v1h-1zM59 99h1v3h-1zM60 14h1v2h-1zM60 98h1v3h-1zM61 14h1v1h-1zM61 97h1v3h-1zM62 12h1v2h-1zM62 101h1v3h-1zM63 11h1v1h-1zM63 101h1v3h-1zM64 15h1v1h-1zM64 101h1v3h-1zM65 10h1v2h-1zM65 99h1v3h-1zM66 11h1v2h-1zM66 101h1v3h-1zM67 10h1v1h-1zM67 98h1v4h-1zM68 0h1v12h-1zM68 100h1v3h-1zM69 0h1v13h-1zM69 100h1v3h-1zM70 0h1v11h-1zM70 99h1v3h-1zM71 0h1v3h-1zM71 8h1v4h-1zM71 98h1v4h-1zM72 7h1v2h-1zM72 100h1v4h-1zM73 7h1v2h-1zM73 101h1v3h-1zM74 9h1v1h-1zM74 100h1v3h-1zM75 10h1v2h-1zM75 101h1v3h-1zM76 12h1v1h-1zM76 104h1v3h-1zM77 14h1v2h-1zM77 101h1v3h-1zM78 17h1v1h-1zM78 101h1v3h-1zM79 18h1v1h-1zM79 100h1v3h-1zM80 17h1v1h-1zM80 98h1v3h-1zM81 16h1v1h-1zM81 100h1v3h-1zM82 15h1v1h-1zM82 100h1v3h-1zM83 13h1v2h-1zM83 102h1v3h-1zM84 15h1v1h-1zM84 101h1v3h-1zM85 16h1v2h-1zM85 101h1v3h-1zM86 16h1v2h-1zM86 100h1v4h-1zM87 17h1v1h-1zM87 104h1v4h-1zM88 103h1v3h-1zM89 18h1v1h-1zM89 101h1v4h-1zM90 99h1v3h-1zM91 101h1v3h-1zM92 101h1v4h-1zM93 101h1v4h-1zM94 102h1v3h-1zM95 10h1v2h-1zM95 102h1v4h-1zM96 17h1v1h-1zM96 100h1v4h-1zM97 8h1v2h-1zM97 100h1v4h-1zM98 9h1v1h-1zM98 101h1v4h-1zM99 9h1v2h-1zM99 101h1v4h-1zM100 8h1v1h-1zM100 104h1v3h-1zM101 6h1v2h-1zM101 102h1v3h-1zM102 8h1v2h-1zM102 103h1v3h-1zM103 8h1v2h-1zM103 102h1v3h-1zM104 8h1v2h-1zM104 100h1v4h-1zM105 10h1v2h-1zM105 102h1v4h-1zM106 10h1v2h-1zM106 105h1v4h-1zM107 9h1v1h-1zM107 102h1v4h-1zM108 8h1v2h-1zM108 103h1v3h-1zM109 9h1v1h-1zM109 104h1v4h-1zM110 10h1v2h-1zM110 103h1v4h-1zM111 12h1v2h-1zM111 101h1v3h-1zM112 12h1v1h-1zM112 99h1v4h-1zM113 11h1v1h-1zM113 103h1v3h-1zM114 10h1v1h-1zM114 101h1v3h-1zM115 12h1v1h-1zM115 100h1v4h-1zM116 13h1v2h-1zM116 104h1v3h-1zM117 12h1v2h-1zM117 103h1v3h-1zM118 13h1v1h-1zM118 102h1v3h-1zM119 10h1v2h-1zM119 101h1v3h-1zM120 15h1v1h-1zM120 103h1v3h-1zM121 16h1v1h-1zM121 101h1v4h-1zM122 16h1v1h-1zM122 101h1v4h-1zM123 16h1v1h-1zM123 101h1v4h-1zM124 16h1v1h-1zM124 100h1v4h-1zM125 15h1v2h-1zM125 102h1v4h-1zM126 98h1v4h-1zM127 17h1v1h-1zM127 99h1v4h-1zM128 17h1v1h-1zM128 102h1v3h-1zM129 10h1v2h-1zM129 99h1v3h-1zM130 13h1v1h-1zM130 101h1v3h-1zM131 14h1v2h-1zM131 100h1v4h-1zM132 12h1v1h-1zM132 101h1v3h-1zM133 14h1v2h-1zM133 98h1v3h-1zM134 12h1v1h-1zM134 99h1v3h-1zM135 11h1v1h-1zM135 100h1v3h-1zM136 10h1v2h-1zM136 98h1v3h-1zM137 11h1v1h-1zM137 99h1v3h-1zM138 11h1v1h-1zM138 100h1v4h-1zM139 10h1v1h-1zM139 99h1v3h-1zM140 10h1v1h-1zM140 101h1v4h-1zM141 10h1v1h-1zM141 100h1v3h-1zM142 10h1v1h-1zM142 100h1v3h-1zM143 11h1v1h-1zM143 101h1v3h-1zM144 10h1v2h-1zM144 102h1v3h-1zM145 11h1v1h-1zM145 98h1v3h-1zM146 9h1v2h-1zM146 102h1v3h-1zM147 10h1v1h-1zM147 100h1v3h-1zM148 11h1v2h-1zM148 101h1v3h-1zM149 13h1v1h-1zM149 101h1v3h-1zM150 12h1v2h-1zM150 98h1v4h-1zM151 12h1v2h-1zM151 99h1v3h-1zM152 12h1v1h-1zM152 101h1v3h-1zM153 13h1v1h-1zM153 100h1v3h-1zM154 14h1v1h-1zM154 101h1v3h-1zM155 14h1v1h-1zM155 101h1v4h-1zM156 14h1v1h-1zM156 101h1v4h-1zM157 14h1v1h-1zM157 101h1v4h-1z"/>
<path fill="#00e7ff" d="M0 14h1v1h-1zM0 101h1v3h-1zM1 15h1v1h-1zM1 103h1v3h-1zM2 15h1v1h-1zM2 102h1v3h-1zM3 16h1v1h-1zM3 104h1v3h-1zM4 16h1v1h-1zM4 100h1v3h-1zM5 102h1v3h-1zM6 15h1v1h-1zM6 100h1v4h-1zM7 13h1v1h-1zM7 100h1v4h-1zM8 15h1v1h-1zM8 103h1v3h-1zM9 15h1v1h-1zM9 104h1v3h-1zM10 103h1v3h-1zM11 15h1v1h-1zM11 101h1v4h-1zM12 16h1v1h-1zM12 102h1v4h-1zM13 17h1v1h-1zM13 101h1v4h-1zM14 15h1v1h-1zM14 101h1v3h-1zM15 14h1v1h-1zM15 104h1v3h-1zM16 15h1v1h-1zM16 102h1v3h-1zM17 100h1v3h-1zM18 17h1v1h-1zM18 102h1v3h-1zM19 104h1v2h-1zM20 12h1v1h-1zM20 103h1v4h-1zM21 16h1v1h-1zM21 104h1v4h-1zM22 13h1v1h-1zM22 101h1v3h-1zM23 13h1v1h-1zM23 102h1v3h-1zM24 13h1v1h-1zM24 102h1v3h-1zM25 15h1v1h-1zM25 105h1v2h-1zM26 101h1v4h-1zM27 17h1v1h-1zM27 101h1v3h-1zM28 101h1v4h-1zM29 106h1v3h-1zM30 17h1v1h-1zM30 103h1v4h-1zM31 18h1v1h-1zM31 106h1v3h-1zM32 18h1v1h-1zM32 103h1v3h-1zM33 103h1v4h-1zM34 104h1v4h-1zM35 102h1v4h-1zM36 102h1v3h-1zM37 101h1v3h-1zM38 15h1v1h-1zM38 102h1v4h-1zM39 13h1v1h-1zM39 102h1v4h-1zM40 16h1v1h-1zM40 104h1v3h-1zM41 103h1v3h-1zM42 16h1v1h-1zM42 103h1v3h-1zM43 14h1v1h-1zM43 101h1v4h-1zM44 11h1v1h-1zM44 102h1v3h-1zM45 16h1v1h-1zM45 100h1v4h-1zM46 16h1v1h-1zM46 104h1v3h-1zM47 16h1v1h-1zM47 103h1v4h-1zM48 16h1v1h-1zM48 103h1v4h-1zM49 103h1v4h-1zM50 15h1v1h-1zM50 102h1v4h-1zM51 15h1v1h-1zM51 103h1v4h-1zM52 16h1v1h-1zM52 101h1v3h-1zM53 17h1v1h-1zM53 103h1v3h-1zM54 17h1v1h-1zM54 100h1v4h-1zM55 102h1v3h-1zM56 17h1v1h-1zM56 101h1v3h-1zM57 105h1v4h-1zM58 12h1v1h-1zM58 102h1v3h-1zM59 12h1v1h-1zM59 102h1v3h-1zM60 13h1v1h-1zM60 101h1v4h-1zM61 13h1v1h-1zM61 100h1v4h-1zM62 11h1v1h-1zM62 104h1v3h-1zM63 9h1v2h-1zM63 104h1v3h-1zM64 14h1v1h-1zM64 104h1v3h-1zM65 9h1v1h-1zM65 102h1v3h-1zM66 10h1v1h-1zM66 104h1v2h-1zM67 9h1v1h-1zM67 102h1v3h-1zM68 103h1v3h-1zM69 103h1v3h-1zM70 102h1v4h-1zM71 3h1v5h-1zM71 102h1v3h-1zM72 6h1v1h-1zM72 104h1v3h-1zM73 5h1v2h-1zM73 104h1v4h-1zM74 7h1v2h-1zM74 103h1v5h-1zM75 9h1v1h-1zM75 104h1v4h-1zM76 11h1v1h-1zM76 107h1v3h-1zM77 13h1v1h-1zM77 104h1v4h-1zM78 16h1v1h-1zM78 104h1v4h-1zM79 17h1v1h-1zM79 103h1v5h-1zM80 16h1v1h-1zM80 101h1v4h-1zM81 15h1v1h-1zM81 103h1v4h-1zM82 14h1v1h-1zM82 103h1v5h-1zM83 12h1v1h-1zM83 105h1v4h-1zM84 14h1v1h-1zM84 104h1v5h-1zM85 15h1v1h-1zM85 104h1v5h-1zM86 104h1v5h-1zM87 16h1v1h-1zM87 108h1v5h-1zM88 16h1v1h-1zM88 106h1v6h-1zM89 17h1v1h-1zM89 105h1v5h-1zM90 102h1v4h-1zM91 104h1v5h-1zM92 105h1v4h-1zM93 105h1v4h-1zM94 105h1v4h-1zM95 9h1v1h-1zM95 106h1v5h-1zM96 16h1v1h-1zM96 104h1v4h-1zM97 7h1v1h-1zM97 104h1v4h-1zM98 8h1v1h-1zM98 105h1v5h-1zM99 7h1v2h-1zM99 105h1v5h-1zM100 6h1v2h-1zM100 107h1v6h-1zM101 5h1v1h-1zM101 105h1v6h-1zM102 7h1v1h-1zM102 106h1v5h-1zM103 7h1v1h-1zM103 105h1v5h-1zM104 7h1v1h-1zM104 104h1v4h-1zM105 9h1v1h-1zM105 106h1v5h-1zM106 9h1v1h-1zM106 109h1v4h-1zM107 7h1v2h-1zM107 106h1v5h-1zM108 7h1v1h-1zM108 106h1v5h-1zM109 7h1v2h-1zM109 108h1v4h-1zM110 9h1v1h-1zM110 107h1v4h-1zM111 11h1v1h-1zM111 104h1v5h-1zM112 11h1v1h-1zM112 103h1v4h-1zM113 10h1v1h-1zM113 106h1v5h-1zM114 9h1v1h-1zM114 104h1v5h-1zM115 10h1v2h-1zM115 104h1v5h-1zM116 12h1v1h-1zM116 107h1v5h-1zM117 11h1v1h-1zM117 106h1v5h-1zM118 12h1v1h-1zM118 105h1v5h-1zM119 9h1v1h-1zM119 104h1v4h-1zM120 14h1v1h-1zM120 106h1v4h-1zM121 15h1v1h-1zM121 105h1v4h-1zM122 105h1v5h-1zM123 105h1v5h-1zM124 15h1v1h-1zM124 104h1v3h-1zM125 106h1v4h-1zM126 17h1v1h-1zM126 102h1v3h-1zM127 16h1v1h-1zM127 103h1v4h-1zM128 16h1v1h-1zM128 105h1v3h-1zM129 9h1v1h-1zM129 102h1v4h-1zM130 12h1v1h-1zM130 104h1v4h-1zM131 13h1v1h-1zM131 104h1v4h-1zM132 11h1v1h-1zM132 104h1v4h-1zM133 101h1v4h-1zM134 11h1v1h-1zM134 102h1v4h-1zM135 10h1v1h-1zM135 103h1v4h-1zM136 9h1v1h-1zM136 101h1v4h-1zM137 10h1v1h-1zM137 102h1v4h-1zM138 10h1v1h-1zM138 104h1v3h-1zM139 9h1v1h-1zM139 102h1v4h-1zM140 9h1v1h-1zM140 105h1v4h-1zM141 9h1v1h-1zM141 103h1v3h-1zM142 9h1v1h-1zM142 103h1v3h-1zM143 9h1v2h-1zM143 104h1v3h-1zM144 9h1v1h-1zM144 105h1v4h-1zM145 10h1v1h-1zM145 101h1v4h-1zM146 8h1v1h-1zM146 105h1v4h-1zM147 9h1v1h-1zM147 103h1v4h-1zM148 10h1v1h-1zM148 104h1v3h-1zM149 12h1v1h-1zM149 104h1v3h-1zM150 102h1v4h-1zM151 11h1v1h-1zM151 102h1v4h-1zM152 11h1v1h-1zM152 104h1v3h-1zM153 12h1v1h-1zM153 103h1v4h-1zM154 13h1v1h-1zM154 104h1v4h-1zM155 13h1v1h-1zM155 105h1v3h-1zM156 13h1v1h-1zM156 105h1v3h-1zM157 13h1v1h-1zM157 105h1v3h-1z"/>
<path fill="#00f7ff" d="M0 13h1v1h-1zM0 104h1v3h-1zM1 14h1v1h-1zM1 106h1v2h-1zM2 105h1v3h-1zM3 107h1v2h-1zM4 15h1v1h-1zM4 103h1v6h-1zM5 15h1v1h-1zM5 105h1v4h-1zM6 14h1v1h-1zM6 104h1v4h-1zM7 104h1v4h-1zM8 14h1v1h-1zM8 106h1v3h-1zM9 107h1v2h-1zM10 15h1v1h-1zM10 106h1v3h-1zM11 14h1v1h-1zM11 105h1v4h-1zM12 15h1v1h-1zM12 106h1v3h-1zM13 16h1v1h-1zM13 105h1v4h-1zM14 14h1v1h-1zM14 104h1v4h-1zM15 107h1v2h-1zM16 14h1v1h-1zM16 105h1v4h-1zM17 15h1v1h-1zM17 103h1v6h-1zM18 105h1v3h-1zM19 14h1v1h-1zM19 106h1v3h-1zM20 11h1v1h-1zM20 107h1v4h-1zM21 15h1v1h-1zM21 108h1v4h-1zM22 12h1v1h-1zM22 104h1v3h-1zM23 12h1v1h-1zM23 105h1v3h-1zM24 12h1v1h-1zM24 105h1v3h-1zM25 14h1v1h-1zM25 107h1v3h-1zM26 16h1v1h-1zM26 105h1v5h-1zM27 104h1v6h-1zM28 17h1v1h-1zM28 105h1v6h-1zM29 16h1v1h-1zM29 109h1v3h-1zM30 16h1v1h-1zM30 107h1v4h-1zM31 17h1v1h-1zM31 109h1v2h-1zM32 106h1v5h-1zM33 17h1v1h-1zM33 107h1v4h-1zM34 16h1v1h-1zM34 108h1v3h-1zM35 16h1v1h-1zM35 106h1v4h-1zM36 16h1v1h-1zM36 105h1v4h-1zM37 15h1v1h-1zM37 104h1v5h-1zM38 14h1v1h-1zM38 106h1v3h-1zM39 12h1v1h-1zM39 106h1v3h-1zM40 107h1v3h-1zM41 17h1v1h-1zM41 106h1v3h-1zM42 15h1v1h-1zM42 106h1v3h-1zM43 13h1v1h-1zM43 105h1v3h-1zM44 10h1v1h-1zM44 105h1v3h-1zM45 15h1v1h-1zM45 104h1v5h-1zM46 15h1v1h-1zM46 107h1v3h-1zM47 107h1v4h-1zM48 15h1v1h-1zM48 107h1v4h-1zM49 15h1v1h-1zM49 107h1v4h-1zM50 14h1v1h-1zM50 106h1v4h-1zM51 107h1v3h-1zM52 15h1v1h-1zM52 104h1v5h-1zM53 16h1v1h-1zM53 106h1v3h-1zM54 16h1v1h-1zM54 104h1v4h-1zM55 16h1v1h-1zM55 105h1v4h-1zM56 104h1v6h-1zM57 16h1v1h-1zM57 109h1v3h-1zM58 11h1v1h-1zM58 105h1v4h-1zM59 11h1v1h-1zM59 105h1v3h-1zM60 12h1v1h-1zM60 105h1v3h-1zM61 12h1v1h-1zM61 104h1v4h-1zM62 10h1v1h-1zM62 107h1v3h-1zM63 7h1v2h-1zM63 107h1v3h-1zM64 13h1v1h-1zM64 107h1v3h-1zM65 6h1v3h-1zM65 105h1v4h-1zM66 9h1v1h-1zM66 106h1v3h-1zM67 6h1v3h-1zM67 105h1v3h-1zM68 106h1v2h-1zM69 106h1v3h-1zM70 106h1v3h-1zM71 105h1v4h-1zM72 4h1v2h-1zM72 107h1v4h-1zM73 4h1v1h-1zM73 108h1v4h-1zM74 6h1v1h-1zM74 108h1v4h-1zM75 8h1v1h-1zM75 108h1v4h-1zM76 10h1v1h-1zM76 110h1v3h-1zM77 12h1v1h-1zM77 108h1v4h-1zM78 15h1v1h-1zM78 108h1v5h-1zM79 16h1v1h-1zM79 108h1v6h-1zM80 15h1v1h-1zM80 105h1v7h-1zM81 14h1v1h-1zM81 107h1v5h-1zM82 13h1v1h-1zM82 108h1v4h-1zM83 11h1v1h-1zM83 109h1v4h-1zM84 13h1v1h-1zM84 109h1v4h-1zM85 14h1v1h-1zM85 109h1v6h-1zM86 15h1v1h-1zM86 109h1v7h-1zM87 15h1v1h-1zM87 113h1v5h-1zM88 15h1v1h-1zM88 112h1v6h-1zM89 110h1v7h-1zM90 106h1v8h-1zM91 109h1v4h-1zM92 109h1v4h-1zM93 109h1v3h-1zM94 109h1v5h-1zM95 8h1v1h-1zM95 111h1v4h-1zM96 15h1v1h-1zM96 108h1v6h-1zM97 6h1v1h-1zM97 108h1v7h-1zM98 6h1v2h-1zM98 110h1v6h-1zM99 6h1v1h-1zM99 110h1v7h-1zM100 5h1v1h-1zM100 113h1v5h-1zM101 4h1v1h-1zM101 111h1v6h-1zM102 6h1v1h-1zM102 111h1v5h-1zM103 5h1v2h-1zM103 110h1v6h-1zM104 6h1v1h-1zM104 108h1v7h-1zM105 8h1v1h-1zM105 111h1v6h-1zM106 8h1v1h-1zM106 113h1v4h-1zM107 6h1v1h-1zM107 111h1v5h-1zM108 6h1v1h-1zM108 111h1v4h-1zM109 6h1v1h-1zM109 112h1v4h-1zM110 8h1v1h-1zM110 111h1v5h-1zM111 10h1v1h-1zM111 109h1v6h-1zM112 10h1v1h-1zM112 107h1v7h-1zM113 8h1v2h-1zM113 111h1v5h-1zM114 8h1v1h-1zM114 109h1v7h-1zM115 9h1v1h-1zM115 109h1v7h-1zM116 11h1v1h-1zM116 112h1v4h-1zM117 10h1v1h-1zM117 111h1v6h-1zM118 11h1v1h-1zM118 110h1v6h-1zM119 8h1v1h-1zM119 108h1v5h-1zM120 13h1v1h-1zM120 110h1v3h-1zM121 14h1v1h-1zM121 109h1v4h-1zM122 15h1v1h-1zM122 110h1v7h-1zM123 2h1v1h-1zM123 15h1v1h-1zM123 110h1v8h-1zM124 14h1v1h-1zM124 107h1v9h-1zM125 14h1v1h-1zM125 110h1v5h-1zM126 16h1v1h-1zM126 105h1v7h-1zM127 15h1v1h-1zM127 107h1v4h-1zM128 15h1v1h-1zM128 108h1v3h-1zM129 8h1v1h-1zM129 106h1v5h-1zM130 11h1v1h-1zM130 108h1v4h-1zM131 12h1v1h-1zM131 108h1v6h-1zM132 10h1v1h-1zM132 108h1v5h-1zM133 13h1v1h-1zM133 105h1v6h-1zM134 10h1v1h-1zM134 106h1v4h-1zM135 9h1v1h-1zM135 107h1v3h-1zM136 8h1v1h-1zM136 105h1v5h-1zM137 8h1v2h-1zM137 106h1v4h-1zM138 8h1v2h-1zM138 107h1v4h-1zM139 8h1v1h-1zM139 106h1v6h-1zM140 8h1v1h-1zM140 109h1v4h-1zM141 8h1v1h-1zM141 106h1v4h-1zM142 8h1v1h-1zM142 106h1v4h-1zM143 8h1v1h-1zM143 107h1v3h-1zM144 8h1v1h-1zM144 109h1v4h-1zM145 9h1v1h-1zM145 105h1v7h-1zM146 7h1v1h-1zM146 109h1v3h-1zM147 8h1v1h-1zM147 107h1v4h-1zM148 9h1v1h-1zM148 107h1v4h-1zM149 11h1v1h-1zM149 107h1v4h-1zM150 11h1v1h-1zM150 106h1v6h-1zM151 10h1v1h-1zM151 106h1v5h-1zM152 10h1v1h-1zM152 107h1v4h-1zM153 11h1v1h-1zM153 107h1v4h-1zM154 12h1v1h-1zM154 108h1v4h-1zM155 12h1v1h-1zM155 108h1v4h-1zM156 12h1v1h-1zM156 108h1v4h-1zM157 108h1v4h-1z"/>
<path fill="#08fff7" d="M0 12h1v1h-1zM0 107h1v6h-1zM1 13h1v1h-1zM1 108h1v5h-1zM2 14h1v1h-1zM2 108h1v5h-1zM3 15h1v1h-1zM3 109h1v5h-1zM4 14h1v1h-1zM4 109h1v6h-1zM5 14h1v1h-1zM5 109h1v5h-1zM6 108h1v6h-1zM7 12h1v1h-1zM7 108h1v5h-1zM8 13h1v1h-1zM8 109h1v4h-1zM9 14h1v1h-1zM9 109h1v4h-1zM10 14h1v1h-1zM10 109h1v5h-1zM11 109h1v6h-1zM12 109h1v5h-1zM13 15h1v1h-1zM13 109h1v5h-1zM14 13h1v1h-1zM14 108h1v7h-1zM15 13h1v1h-1zM15 109h1v5h-1zM16 13h1v1h-1zM16 109h1v5h-1zM17 14h1v1h-1zM17 109h1v6h-1zM18 16h1v1h-1zM18 108h1v5h-1zM19 13h1v1h-1zM19 109h1v5h-1zM20 10h1v1h-1zM20 111h1v5h-1zM21 14h1v1h-1zM21 112h1v4h-1zM22 11h1v1h-1zM22 107h1v6h-1zM23 10h1v2h-1zM23 108h1v5h-1zM24 11h1v1h-1zM24 108h1v5h-1zM25 13h1v1h-1zM25 110h1v5h-1zM26 15h1v1h-1zM26 110h1v4h-1zM27 16h1v1h-1zM27 110h1v5h-1zM28 16h1v1h-1zM28 111h1v5h-1zM29 15h1v1h-1zM29 112h1v4h-1zM30 15h1v1h-1zM30 111h1v5h-1zM31 111h1v4h-1zM32 17h1v1h-1zM32 111h1v5h-1zM33 16h1v1h-1zM33 111h1v4h-1zM34 15h1v1h-1zM34 111h1v4h-1zM35 15h1v1h-1zM35 110h1v5h-1zM36 15h1v1h-1zM36 109h1v5h-1zM37 14h1v1h-1zM37 109h1v6h-1zM38 13h1v1h-1zM38 109h1v6h-1zM39 11h1v1h-1zM39 109h1v5h-1zM40 15h1v1h-1zM40 110h1v4h-1zM41 16h1v1h-1zM41 109h1v5h-1zM42 109h1v5h-1zM43 12h1v1h-1zM43 108h1v6h-1zM44 108h1v7h-1zM45 14h1v1h-1zM45 109h1v6h-1zM46 110h1v5h-1zM47 15h1v1h-1zM47 111h1v5h-1zM48 111h1v5h-1zM49 14h1v1h-1zM49 111h1v4h-1zM50 13h1v1h-1zM50 110h1v6h-1zM51 14h1v1h-1zM51 110h1v5h-1zM52 109h1v6h-1zM53 109h1v5h-1zM54 15h1v1h-1zM54 108h1v6h-1zM55 15h1v1h-1zM55 109h1v5h-1zM56 16h1v1h-1zM56 110h1v5h-1zM57 15h1v1h-1zM57 112h1v4h-1zM58 109h1v5h-1zM59 10h1v1h-1zM59 108h1v6h-1zM60 108h1v6h-1zM61 11h1v1h-1zM61 108h1v6h-1zM62 9h1v1h-1zM62 110h1v4h-1zM63 4h1v3h-1zM63 110h1v4h-1zM64 11h1v2h-1zM64 110h1v4h-1zM65 4h1v2h-1zM65 109h1v5h-1zM66 7h1v2h-1zM66 109h1v5h-1zM67 4h1v2h-1zM67 108h1v6h-1zM68 108h1v6h-1zM69 109h1v5h-1zM70 109h1v5h-1zM71 109h1v5h-1zM72 111h1v4h-1zM73 3h1v1h-1zM73 112h1v4h-1zM74 5h1v1h-1zM74 112h1v4h-1zM75 7h1v1h-1zM75 112h1v5h-1zM76 9h1v1h-1zM76 113h1v3h-1zM77 112h1v5h-1zM78 14h1v1h-1zM78 113h1v4h-1zM79 15h1v1h-1zM79 114h1v4h-1zM80 112h1v5h-1zM81 112h1v5h-1zM82 12h1v1h-1zM82 112h1v4h-1zM83 113h1v4h-1zM84 12h1v1h-1zM84 113h1v4h-1zM85 115h1v5h-1zM86 14h1v1h-1zM86 116h1v6h-1zM87 14h1v1h-1zM87 118h1v4h-1zM88 118h1v4h-1zM89 16h1v1h-1zM89 117h1v5h-1zM90 114h1v6h-1zM91 113h1v4h-1zM92 113h1v4h-1zM93 112h1v4h-1zM94 114h1v3h-1zM95 7h1v1h-1zM95 115h1v5h-1zM96 14h1v1h-1zM96 114h1v6h-1zM97 5h1v1h-1zM97 115h1v5h-1zM98 116h1v5h-1zM99 5h1v1h-1zM99 117h1v5h-1zM100 4h1v1h-1zM100 118h1v4h-1zM101 3h1v1h-1zM101 117h1v4h-1zM102 5h1v1h-1zM102 116h1v5h-1zM103 4h1v1h-1zM103 116h1v4h-1zM104 5h1v1h-1zM104 115h1v5h-1zM105 7h1v1h-1zM105 117h1v4h-1zM106 7h1v1h-1zM106 117h1v4h-1zM107 116h1v4h-1zM108 5h1v1h-1zM108 115h1v5h-1zM109 5h1v1h-1zM109 116h1v4h-1zM110 7h1v1h-1zM110 116h1v4h-1zM111 9h1v1h-1zM111 115h1v6h-1zM112 9h1v1h-1zM112 114h1v6h-1zM113 116h1v4h-1zM114 7h1v1h-1zM114 116h1v5h-1zM115 8h1v1h-1zM115 116h1v5h-1zM116 116h1v4h-1zM117 117h1v4h-1zM118 10h1v1h-1zM118 116h1v4h-1zM119 7h1v1h-1zM119 113h1v4h-1zM120 12h1v1h-1zM120 113h1v4h-1zM121 13h1v1h-1zM121 113h1v4h-1zM122 14h1v1h-1zM122 117h1v5h-1zM123 14h1v1h-1zM123 118h1v5h-1zM124 2h1v1h-1zM124 13h1v1h-1zM124 116h1v6h-1zM125 13h1v1h-1zM125 115h1v5h-1zM126 15h1v1h-1zM126 112h1v5h-1zM127 14h1v1h-1zM127 111h1v5h-1zM128 14h1v1h-1zM128 111h1v4h-1zM129 7h1v1h-1zM129 111h1v5h-1zM130 10h1v1h-1zM130 112h1v5h-1zM131 11h1v1h-1zM131 114h1v3h-1zM132 9h1v1h-1zM132 113h1v3h-1zM133 12h1v1h-1zM133 111h1v4h-1zM134 9h1v1h-1zM134 110h1v5h-1zM135 8h1v1h-1zM135 110h1v5h-1zM136 7h1v1h-1zM136 110h1v5h-1zM137 7h1v1h-1zM137 110h1v5h-1zM138 111h1v5h-1zM139 7h1v1h-1zM139 112h1v5h-1zM140 7h1v1h-1zM140 113h1v4h-1zM141 7h1v1h-1zM141 110h1v4h-1zM142 7h1v1h-1zM142 110h1v4h-1zM143 7h1v1h-1zM143 110h1v4h-1zM144 7h1v1h-1zM144 113h1v4h-1zM145 8h1v1h-1zM145 112h1v4h-1zM146 6h1v1h-1zM146 112h1v4h-1zM147 7h1v1h-1zM147 111h1v5h-1zM148 8h1v1h-1zM148 111h1v4h-1zM149 10h1v1h-1zM149 111h1v4h-1zM150 10h1v1h-1zM150 112h1v5h-1zM151 9h1v1h-1zM151 111h1v5h-1zM152 9h1v1h-1zM152 111h1v4h-1zM153 111h1v4h-1zM154 11h1v1h-1zM154 112h1v4h-1zM155 112h1v4h-1zM156 112h1v4h-1zM157 12h1v1h-1zM157 112h1v4h-1z"/>
<path fill="#18ffe7" d="M0 113h1v7h-1zM1 12h1v1h-1zM1 113h1v7h-1zM2 13h1v1h-1zM2 113h1v7h-1zM3 14h1v1h-1zM3 114h1v7h-1zM4 115h1v7h-1zM5 13h1v1h-1zM5 114h1v7h-1zM6 13h1v1h-1zM6 114h1v8h-1zM7 11h1v1h-1zM7 113h1v7h-1zM8 113h1v7h-1zM9 13h1v1h-1zM9 113h1v7h-1zM10 13h1v1h-1zM10 114h1v7h-1zM11 13h1v1h-1zM11 115h1v8h-1zM12 14h1v1h-1zM12 114h1v6h-1zM13 14h1v1h-1zM13 114h1v6h-1zM14 11h1v2h-1zM14 115h1v8h-1zM15 12h1v1h-1zM15 114h1v7h-1zM16 12h1v1h-1zM16 114h1v6h-1zM17 13h1v1h-1zM17 115h1v7h-1zM18 14h1v2h-1zM18 113h1v6h-1zM19 11h1v2h-1zM19 114h1v7h-1zM20 9h1v1h-1zM20 116h1v6h-1zM21 13h1v1h-1zM21 116h1v4h-1zM22 10h1v1h-1zM22 113h1v7h-1zM23 9h1v1h-1zM23 113h1v9h-1zM24 9h1v2h-1zM24 113h1v7h-1zM25 12h1v1h-1zM25 115h1v8h-1zM26 14h1v1h-1zM26 114h1v5h-1zM27 15h1v1h-1zM27 115h1v7h-1zM28 116h1v4h-1zM29 116h1v5h-1zM30 116h1v4h-1zM31 16h1v1h-1zM31 115h1v5h-1zM32 116h1v6h-1zM33 115h1v5h-1zM34 115h1v6h-1zM35 115h1v7h-1zM36 114h1v7h-1zM37 115h1v7h-1zM38 115h1v7h-1zM39 10h1v1h-1zM39 114h1v6h-1zM40 14h1v1h-1zM40 114h1v7h-1zM41 114h1v6h-1zM42 14h1v1h-1zM42 114h1v6h-1zM43 114h1v8h-1zM44 9h1v1h-1zM44 115h1v8h-1zM45 115h1v7h-1zM46 14h1v1h-1zM46 115h1v5h-1zM47 14h1v1h-1zM47 116h1v5h-1zM48 14h1v1h-1zM48 116h1v6h-1zM49 13h1v1h-1zM49 115h1v5h-1zM50 116h1v7h-1zM51 13h1v1h-1zM51 115h1v7h-1zM52 14h1v1h-1zM52 115h1v6h-1zM53 15h1v1h-1zM53 114h1v5h-1zM54 14h1v1h-1zM54 114h1v6h-1zM55 114h1v8h-1zM56 15h1v1h-1zM56 115h1v5h-1zM57 116h1v4h-1zM58 10h1v1h-1zM58 114h1v6h-1zM59 114h1v7h-1zM60 11h1v1h-1zM60 114h1v8h-1zM61 10h1v1h-1zM61 114h1v7h-1zM62 114h1v6h-1zM63 3h1v1h-1zM63 114h1v5h-1zM64 3h1v8h-1zM64 114h1v5h-1zM65 2h1v2h-1zM65 114h1v8h-1zM66 3h1v4h-1zM66 114h1v7h-1zM67 3h1v1h-1zM67 114h1v7h-1zM68 114h1v7h-1zM69 114h1v6h-1zM70 114h1v6h-1zM71 114h1v6h-1zM72 3h1v1h-1zM72 115h1v5h-1zM73 2h1v1h-1zM73 116h1v5h-1zM74 116h1v6h-1zM75 6h1v1h-1zM75 117h1v6h-1zM76 8h1v1h-1zM76 116h1v6h-1zM77 11h1v1h-1zM77 117h1v5h-1zM78 117h1v6h-1zM79 118h1v2h-1zM80 14h1v1h-1zM80 117h1v4h-1zM81 13h1v1h-1zM81 117h1v4h-1zM82 11h1v1h-1zM82 116h1v6h-1zM83 10h1v1h-1zM83 117h1v6h-1zM84 117h1v5h-1zM85 13h1v1h-1zM85 120h1v4h-1zM86 13h1v1h-1zM86 122h1v4h-1zM87 122h1v3h-1zM88 14h1v1h-1zM88 122h1v3h-1zM89 15h1v1h-1zM89 122h1v3h-1zM90 120h1v4h-1zM91 117h1v3h-1zM92 117h1v5h-1zM93 116h1v4h-1zM94 117h1v3h-1zM95 120h1v5h-1zM96 120h1v4h-1zM97 120h1v4h-1zM98 5h1v1h-1zM98 121h1v4h-1zM99 4h1v1h-1zM99 122h1v3h-1zM100 3h1v1h-1zM100 122h1v3h-1zM101 121h1v4h-1zM102 4h1v1h-1zM102 121h1v4h-1zM103 120h1v4h-1zM104 4h1v1h-1zM104 120h1v4h-1zM105 6h1v1h-1zM105 121h1v4h-1zM106 121h1v4h-1zM107 5h1v1h-1zM107 120h1v4h-1zM108 120h1v4h-1zM109 120h1v5h-1zM110 120h1v4h-1zM111 121h1v4h-1zM112 8h1v1h-1zM112 120h1v4h-1zM113 7h1v1h-1zM113 120h1v4h-1zM114 121h1v3h-1zM115 121h1v3h-1zM116 10h1v1h-1zM116 120h1v4h-1zM117 9h1v1h-1zM117 121h1v4h-1zM118 120h1v4h-1zM119 6h1v1h-1zM119 117h1v5h-1zM120 117h1v3h-1zM121 117h1v5h-1zM122 13h1v1h-1zM122 122h1v3h-1zM123 13h1v1h-1zM123 123h1v2h-1zM124 12h1v1h-1zM124 122h1v3h-1zM125 12h1v1h-1zM125 120h1v5h-1zM126 117h1v3h-1zM127 116h1v4h-1zM128 115h1v6h-1zM129 116h1v4h-1zM130 9h1v1h-1zM130 117h1v6h-1zM131 10h1v1h-1zM131 117h1v3h-1zM132 8h1v1h-1zM132 116h1v4h-1zM133 11h1v1h-1zM133 115h1v5h-1zM134 115h1v6h-1zM135 7h1v1h-1zM135 115h1v7h-1zM136 115h1v5h-1zM137 115h1v6h-1zM138 7h1v1h-1zM138 116h1v5h-1zM139 117h1v4h-1zM140 6h1v1h-1zM140 117h1v3h-1zM141 6h1v1h-1zM141 114h1v6h-1zM142 6h1v1h-1zM142 114h1v6h-1zM143 114h1v6h-1zM144 117h1v3h-1zM145 7h1v1h-1zM145 116h1v4h-1zM146 116h1v5h-1zM147 116h1v5h-1zM148 115h1v6h-1zM149 9h1v1h-1zM149 115h1v6h-1zM150 9h1v1h-1zM150 117h1v3h-1zM151 116h1v4h-1zM152 115h1v6h-1zM153 10h1v1h-1zM153 115h1v6h-1zM154 116h1v6h-1zM155 11h1v1h-1zM155 116h1v4h-1zM156 11h1v1h-1zM156 116h1v5h-1zM157 11h1v1h-1zM157 116h1v4h-1z"/>
<path fill="#28ffd7" d="M0 11h1v1h-1zM0 120h1v9h-1zM1 120h1v9h-1zM2 120h1v9h-1zM3 121h1v9h-1zM4 13h1v1h-1zM4 122h1v10h-1zM5 121h1v9h-1zM6 12h1v1h-1zM6 122h1v9h-1zM7 120h1v8h-1zM8 12h1v1h-1zM8 120h1v9h-1zM9 120h1v8h-1zM10 121h1v9h-1zM11 12h1v1h-1zM11 123h1v9h-1zM12 13h1v1h-1zM12 120h1v8h-1zM13 120h1v8h-1zM14 10h1v1h-1zM14 123h1v9h-1zM15 11h1v1h-1zM15 121h1v8h-1zM16 11h1v1h-1zM16 120h1v8h-1zM17 11h1v2h-1zM17 122h1v9h-1zM18 13h1v1h-1zM18 119h1v8h-1zM19 10h1v1h-1zM19 121h1v9h-1zM20 8h1v1h-1zM20 122h1v9h-1zM21 4h1v9h-1zM21 120h1v8h-1zM22 9h1v1h-1zM22 120h1v9h-1zM23 8h1v1h-1zM23 122h1v9h-1zM24 3h1v6h-1zM24 120h1v8h-1zM25 11h1v1h-1zM25 123h1v10h-1zM26 119h1v8h-1zM27 122h1v9h-1zM28 15h1v1h-1zM28 120h1v9h-1zM29 14h1v1h-1zM29 121h1v9h-1zM30 14h1v1h-1zM30 120h1v9h-1zM31 120h1v8h-1zM32 16h1v1h-1zM32 122h1v9h-1zM33 15h1v1h-1zM33 120h1v8h-1zM34 14h1v1h-1zM34 121h1v9h-1zM35 14h1v1h-1zM35 122h1v9h-1zM36 14h1v1h-1zM36 121h1v9h-1zM37 13h1v1h-1zM37 122h1v9h-1zM38 12h1v1h-1zM38 122h1v9h-1zM39 120h1v8h-1zM40 121h1v9h-1zM41 15h1v1h-1zM41 120h1v8h-1zM42 13h1v1h-1zM42 120h1v9h-1zM43 11h1v1h-1zM43 122h1v9h-1zM44 8h1v1h-1zM44 123h1v10h-1zM45 13h1v1h-1zM45 122h1v9h-1zM46 13h1v1h-1zM46 120h1v9h-1zM47 121h1v9h-1zM48 122h1v9h-1zM49 120h1v8h-1zM50 12h1v1h-1zM50 123h1v9h-1zM51 122h1v10h-1zM52 13h1v1h-1zM52 121h1v8h-1zM53 14h1v1h-1zM53 119h1v8h-1zM54 120h1v9h-1zM55 14h1v1h-1zM55 122h1v9h-1zM56 120h1v9h-1zM57 14h1v1h-1zM57 120h1v8h-1zM58 9h1v1h-1zM58 120h1v8h-1zM59 9h1v1h-1zM59 121h1v9h-1zM60 10h1v1h-1zM60 122h1v9h-1zM61 121h1v8h-1zM62 8h1v1h-1zM62 120h1v9h-1zM63 2h1v1h-1zM63 119h1v8h-1zM64 119h1v8h-1zM65 1h1v1h-1zM65 122h1v9h-1zM66 121h1v9h-1zM67 2h1v1h-1zM67 121h1v9h-1zM68 121h1v9h-1zM69 120h1v9h-1zM70 120h1v9h-1zM71 120h1v9h-1zM72 120h1v8h-1zM73 121h1v9h-1zM74 4h1v1h-1zM74 122h1v9h-1zM75 5h1v1h-1zM75 123h1v9h-1zM76 122h1v9h-1zM77 10h1v1h-1zM77 122h1v9h-1zM78 13h1v1h-1zM78 123h1v10h-1zM79 14h1v1h-1zM79 120h1v8h-1zM80 13h1v1h-1zM80 121h1v8h-1zM81 12h1v1h-1zM81 121h1v9h-1zM82 122h1v9h-1zM83 9h1v1h-1zM83 123h1v9h-1zM84 11h1v1h-1zM84 122h1v9h-1zM85 12h1v1h-1zM85 124h1v4h-1zM86 126h1v7h-1zM87 13h1v1h-1zM87 125h1v4h-1zM88 13h1v1h-1zM88 125h1v3h-1zM89 125h1v4h-1zM90 124h1v6h-1zM91 120h1v8h-1zM92 122h1v9h-1zM93 120h1v9h-1zM94 120h1v7h-1zM95 125h1v6h-1zM96 13h1v1h-1zM96 124h1v7h-1zM97 124h1v5h-1zM98 125h1v3h-1zM99 125h1v3h-1zM100 125h1v3h-1zM101 2h1v1h-1zM101 125h1v6h-1zM102 125h1v6h-1zM103 124h1v5h-1zM104 124h1v5h-1zM105 125h1v6h-1zM106 6h1v1h-1zM106 125h1v4h-1zM107 124h1v5h-1zM108 4h1v1h-1zM108 124h1v4h-1zM109 125h1v6h-1zM110 6h1v1h-1zM110 124h1v5h-1zM111 8h1v1h-1zM111 125h1v6h-1zM112 7h1v1h-1zM112 124h1v6h-1zM113 6h1v1h-1zM113 124h1v6h-1zM114 6h1v1h-1zM114 124h1v4h-1zM115 7h1v1h-1zM115 124h1v3h-1zM116 9h1v1h-1zM116 124h1v5h-1zM117 8h1v1h-1zM117 125h1v4h-1zM118 9h1v1h-1zM118 124h1v4h-1zM119 122h1v10h-1zM120 11h1v1h-1zM120 120h1v8h-1zM121 12h1v1h-1zM121 122h1v10h-1zM122 125h1v3h-1zM123 12h1v1h-1zM123 125h1v3h-1zM124 125h1v4h-1zM125 125h1v6h-1zM126 14h1v1h-1zM126 120h1v7h-1zM127 13h1v1h-1zM127 120h1v9h-1zM128 13h1v1h-1zM128 121h1v8h-1zM129 6h1v1h-1zM129 120h1v9h-1zM130 8h1v1h-1zM130 123h1v9h-1zM131 120h1v9h-1zM132 120h1v8h-1zM133 120h1v9h-1zM134 8h1v1h-1zM134 121h1v8h-1zM135 122h1v9h-1zM136 6h1v1h-1zM136 120h1v9h-1zM137 6h1v1h-1zM137 121h1v8h-1zM138 6h1v1h-1zM138 121h1v9h-1zM139 0h1v1h-1zM139 6h1v1h-1zM139 121h1v9h-1zM140 5h1v1h-1zM140 120h1v8h-1zM141 5h1v1h-1zM141 120h1v8h-1zM142 120h1v9h-1zM143 6h1v1h-1zM143 120h1v8h-1zM144 6h1v1h-1zM144 120h1v8h-1zM145 120h1v7h-1zM146 121h1v8h-1zM147 6h1v1h-1zM147 121h1v9h-1zM148 7h1v1h-1zM148 121h1v9h-1zM149 121h1v9h-1zM150 120h1v9h-1zM151 8h1v1h-1zM151 120h1v8h-1zM152 8h1v1h-1zM152 121h1v9h-1zM153 9h1v1h-1zM153 121h1v8h-1zM154 10h1v1h-1zM154 122h1v9h-1zM155 10h1v1h-1zM155 120h1v8h-1zM156 10h1v1h-1zM156 121h1v9h-1zM157 120h1v9h-1z"/>
<path fill="#38ffc7" d="M0 10h1v1h-1zM0 129h1v11h-1zM1 11h1v1h-1zM1 129h1v11h-1zM2 12h1v1h-1zM2 129h1v11h-1zM3 13h1v1h-1zM3 130h1v11h-1zM4 132h1v11h-1zM5 12h1v1h-1zM5 130h1v11h-1zM6 131h1v11h-1zM7 10h1v1h-1zM7 128h1v11h-1zM8 11h1v1h-1zM8 129h1v11h-1zM9 12h1v1h-1zM9 128h1v11h-1zM10 12h1v1h-1zM10 130h1v11h-1zM11 132h1v12h-1zM12 128h1v11h-1zM13 13h1v1h-1zM13 128h1v11h-1zM14 3h1v7h-1zM14 132h1v11h-1zM15 10h1v1h-1zM15 129h1v11h-1zM16 10h1v1h-1zM16 128h1v11h-1zM17 3h1v8h-1zM17 131h1v11h-1zM18 0h1v13h-1zM18 127h1v11h-1zM19 0h1v10h-1zM19 130h1v11h-1zM20 0h1v8h-1zM20 131h1v11h-1zM21 0h1v4h-1zM21 128h1v10h-1zM22 0h1v3h-1zM22 8h1v1h-1zM22 129h1v11h-1zM23 0h1v8h-1zM23 131h1v11h-1zM24 0h1v3h-1zM24 128h1v11h-1zM25 0h1v11h-1zM25 133h1v11h-1zM26 13h1v1h-1zM26 127h1v11h-1zM27 14h1v1h-1zM27 131h1v11h-1zM28 14h1v1h-1zM28 129h1v11h-1zM29 13h1v1h-1zM29 130h1v11h-1zM30 129h1v11h-1zM31 15h1v1h-1zM31 128h1v11h-1zM32 131h1v11h-1zM33 128h1v11h-1zM34 130h1v11h-1zM35 131h1v11h-1zM36 13h1v1h-1zM36 130h1v11h-1zM37 12h1v1h-1zM37 131h1v11h-1zM38 11h1v1h-1zM38 131h1v11h-1zM39 9h1v1h-1zM39 128h1v11h-1zM40 13h1v1h-1zM40 130h1v11h-1zM41 128h1v11h-1zM42 129h1v11h-1zM43 10h1v1h-1zM43 131h1v11h-1zM44 133h1v11h-1zM45 131h1v11h-1zM46 129h1v11h-1zM47 13h1v1h-1zM47 130h1v11h-1zM48 13h1v1h-1zM48 131h1v11h-1zM49 12h1v1h-1zM49 128h1v11h-1zM50 11h1v1h-1zM50 132h1v11h-1zM51 12h1v1h-1zM51 132h1v11h-1zM52 129h1v11h-1zM53 127h1v10h-1zM54 13h1v1h-1zM54 129h1v11h-1zM55 13h1v1h-1zM55 131h1v11h-1zM56 14h1v1h-1zM56 129h1v11h-1zM57 13h1v1h-1zM57 128h1v12h-1zM58 128h1v11h-1zM59 130h1v11h-1zM60 131h1v11h-1zM61 9h1v1h-1zM61 129h1v11h-1zM62 7h1v1h-1zM62 129h1v11h-1zM63 1h1v1h-1zM63 127h1v11h-1zM64 2h1v1h-1zM64 127h1v10h-1zM65 0h1v1h-1zM65 131h1v11h-1zM66 2h1v1h-1zM66 130h1v12h-1zM67 0h1v2h-1zM67 130h1v11h-1zM68 130h1v11h-1zM69 129h1v11h-1zM70 129h1v11h-1zM71 129h1v11h-1zM72 128h1v11h-1zM73 130h1v11h-1zM74 131h1v11h-1zM75 4h1v1h-1zM75 132h1v11h-1zM76 7h1v1h-1zM76 131h1v11h-1zM77 131h1v11h-1zM78 133h1v11h-1zM79 128h1v12h-1zM80 129h1v11h-1zM81 130h1v11h-1zM82 10h1v1h-1zM82 131h1v11h-1zM83 132h1v11h-1zM84 10h1v1h-1zM84 131h1v11h-1zM85 128h1v10h-1zM86 12h1v1h-1zM86 133h1v11h-1zM87 12h1v1h-1zM87 129h1v11h-1zM88 128h1v11h-1zM89 14h1v1h-1zM89 129h1v11h-1zM90 130h1v11h-1zM91 128h1v11h-1zM92 131h1v11h-1zM93 129h1v11h-1zM94 127h1v11h-1zM95 6h1v1h-1zM95 131h1v11h-1zM96 131h1v11h-1zM97 4h1v1h-1zM97 129h1v11h-1zM98 128h1v11h-1zM99 3h1v1h-1zM99 128h1v11h-1zM100 2h1v1h-1zM100 128h1v12h-1zM101 1h1v1h-1zM101 131h1v11h-1zM102 131h1v11h-1zM103 3h1v1h-1zM103 129h1v11h-1zM104 3h1v1h-1zM104 129h1v11h-1zM105 5h1v1h-1zM105 131h1v11h-1zM106 5h1v1h-1zM106 129h1v12h-1zM107 129h1v11h-1zM108 128h1v11h-1zM109 131h1v11h-1zM110 129h1v11h-1zM111 7h1v1h-1zM111 131h1v12h-1zM112 130h1v11h-1zM113 130h1v11h-1zM114 128h1v10h-1zM115 127h1v8h-1zM116 129h1v11h-1zM117 129h1v11h-1zM118 8h1v1h-1zM118 128h1v11h-1zM119 132h1v11h-1zM120 128h1v11h-1zM121 132h1v11h-1zM122 12h1v1h-1zM122 128h1v10h-1zM123 128h1v10h-1zM124 11h1v1h-1zM124 129h1v11h-1zM125 11h1v1h-1zM125 131h1v11h-1zM126 127h1v11h-1zM127 129h1v11h-1zM128 12h1v1h-1zM128 129h1v11h-1zM129 129h1v11h-1zM130 132h1v11h-1zM131 9h1v1h-1zM131 129h1v11h-1zM132 7h1v1h-1zM132 128h1v11h-1zM133 10h1v1h-1zM133 129h1v11h-1zM134 7h1v1h-1zM134 129h1v11h-1zM135 6h1v1h-1zM135 131h1v11h-1zM136 129h1v11h-1zM137 129h1v11h-1zM138 130h1v11h-1zM139 1h1v1h-1zM139 5h1v1h-1zM139 130h1v12h-1zM140 4h1v1h-1zM140 128h1v11h-1zM141 4h1v1h-1zM141 128h1v11h-1zM142 5h1v1h-1zM142 129h1v11h-1zM143 5h1v1h-1zM143 128h1v11h-1zM144 128h1v11h-1zM145 6h1v1h-1zM145 127h1v11h-1zM146 5h1v1h-1zM146 129h1v11h-1zM147 5h1v1h-1zM147 130h1v11h-1zM148 130h1v11h-1zM149 8h1v1h-1zM149 130h1v11h-1zM150 8h1v1h-1zM150 129h1v11h-1zM151 7h1v1h-1zM151 128h1v11h-1zM152 7h1v1h-1zM152 130h1v11h-1zM153 129h1v11h-1zM154 9h1v1h-1zM154 131h1v11h-1zM155 128h1v11h-1zM156 130h1v11h-1zM157 10h1v1h-1zM157 129h1v11h-1z"/>
<path fill="#48ffb7" d="M0 140h1v17h-1zM1 140h1v16h-1zM2 11h1v1h-1zM2 140h1v16h-1zM3 141h1v17h-1zM4 12h1v1h-1zM4 143h1v17h-1zM5 141h1v17h-1zM6 11h1v1h-1zM6 142h1v18h-1zM7 9h1v1h-1zM7 139h1v16h-1zM8 140h1v16h-1zM9 139h1v17h-1zM10 141h1v18h-1zM11 11h1v1h-1zM11 144h1v16h-1zM12 12h1v1h-1zM12 139h1v16h-1zM13 139h1v15h-1zM14 143h1v17h-1zM15 3h1v7h-1zM15 140h1v17h-1zM16 3h1v7h-1zM16 139h1v15h-1zM17 142h1v18h-1zM18 138h1v15h-1zM19 141h1v18h-1zM20 142h1v18h-1zM21 138h1v16h-1zM22 3h1v5h-1zM22 140h1v17h-1zM23 142h1v18h-1zM24 139h1v16h-1zM25 144h1v16h-1zM26 12h1v1h-1zM26 138h1v15h-1zM27 142h1v18h-1zM28 140h1v17h-1zM29 141h1v18h-1zM30 13h1v1h-1zM30 140h1v17h-1zM31 14h1v1h-1zM31 139h1v16h-1zM32 15h1v1h-1zM32 142h1v18h-1zM33 14h1v1h-1zM33 139h1v17h-1zM34 13h1v1h-1zM34 141h1v18h-1zM35 13h1v1h-1zM35 142h1v18h-1zM36 141h1v17h-1zM37 142h1v18h-1zM38 142h1v18h-1zM39 8h1v1h-1zM39 139h1v16h-1zM40 141h1v17h-1zM41 14h1v1h-1zM41 139h1v16h-1zM42 12h1v1h-1zM42 140h1v17h-1zM43 142h1v18h-1zM44 7h1v1h-1zM44 144h1v16h-1zM45 12h1v1h-1zM45 142h1v18h-1zM46 12h1v1h-1zM46 140h1v17h-1zM47 141h1v17h-1zM48 12h1v1h-1zM48 142h1v18h-1zM49 11h1v1h-1zM49 139h1v16h-1zM50 143h1v17h-1zM51 11h1v1h-1zM51 143h1v17h-1zM52 12h1v1h-1zM52 140h1v17h-1zM53 13h1v1h-1zM53 137h1v15h-1zM54 140h1v17h-1zM55 142h1v18h-1zM56 13h1v1h-1zM56 140h1v16h-1zM57 140h1v16h-1zM58 8h1v1h-1zM58 139h1v16h-1zM59 8h1v1h-1zM59 141h1v18h-1zM60 9h1v1h-1zM60 142h1v18h-1zM61 8h1v1h-1zM61 140h1v17h-1zM62 140h1v17h-1zM63 0h1v1h-1zM63 138h1v15h-1zM64 0h1v2h-1zM64 137h1v15h-1zM65 142h1v18h-1zM66 0h1v2h-1zM66 142h1v17h-1zM67 141h1v17h-1zM68 141h1v17h-1zM69 140h1v16h-1zM70 140h1v16h-1zM71 140h1v17h-1zM72 2h1v1h-1zM72 139h1v15h-1zM73 1h1v1h-1zM73 141h1v17h-1zM74 142h1v18h-1zM75 143h1v17h-1zM76 6h1v1h-1zM76 142h1v18h-1zM77 9h1v1h-1zM77 142h1v18h-1zM78 12h1v1h-1zM78 144h1v16h-1zM79 13h1v1h-1zM79 140h1v16h-1zM80 12h1v1h-1zM80 140h1v17h-1zM81 11h1v1h-1zM81 141h1v18h-1zM82 142h1v18h-1zM83 8h1v1h-1zM83 143h1v17h-1zM84 142h1v18h-1zM85 11h1v1h-1zM85 138h1v15h-1zM86 144h1v16h-1zM87 140h1v17h-1zM88 12h1v1h-1zM88 139h1v17h-1zM89 140h1v17h-1zM90 141h1v18h-1zM91 139h1v17h-1zM92 142h1v18h-1zM93 140h1v16h-1zM94 138h1v16h-1zM95 142h1v18h-1zM96 12h1v1h-1zM96 142h1v18h-1zM97 140h1v17h-1zM98 139h1v16h-1zM99 2h1v1h-1zM99 139h1v15h-1zM100 1h1v1h-1zM100 140h1v16h-1zM101 142h1v18h-1zM102 2h1v2h-1zM102 142h1v18h-1zM103 2h1v1h-1zM103 140h1v17h-1zM104 2h1v1h-1zM104 140h1v17h-1zM105 142h1v18h-1zM106 141h1v17h-1zM107 4h1v1h-1zM107 140h1v17h-1zM108 139h1v16h-1zM109 4h1v1h-1zM109 142h1v18h-1zM110 5h1v1h-1zM110 140h1v16h-1zM111 143h1v17h-1zM112 6h1v1h-1zM112 141h1v18h-1zM113 5h1v1h-1zM113 141h1v17h-1zM114 5h1v1h-1zM114 138h1v15h-1zM115 6h1v1h-1zM115 135h1v13h-1zM116 8h1v1h-1zM116 140h1v17h-1zM117 7h1v1h-1zM117 140h1v16h-1zM118 139h1v16h-1zM119 5h1v1h-1zM119 143h1v17h-1zM120 10h1v1h-1zM120 139h1v17h-1zM121 11h1v1h-1zM121 143h1v17h-1zM122 11h1v1h-1zM122 138h1v15h-1zM123 3h1v9h-1zM123 138h1v16h-1zM124 10h1v1h-1zM124 140h1v16h-1zM125 142h1v18h-1zM126 13h1v1h-1zM126 138h1v15h-1zM127 12h1v1h-1zM127 140h1v17h-1zM128 140h1v17h-1zM129 5h1v1h-1zM129 140h1v16h-1zM130 7h1v1h-1zM130 143h1v17h-1zM131 140h1v17h-1zM132 139h1v16h-1zM133 140h1v17h-1zM134 140h1v17h-1zM135 142h1v18h-1zM136 5h1v1h-1zM136 140h1v16h-1zM137 5h1v1h-1zM137 140h1v17h-1zM138 5h1v1h-1zM138 141h1v17h-1zM139 4h1v1h-1zM139 142h1v17h-1zM140 2h1v2h-1zM140 139h1v16h-1zM141 2h1v2h-1zM141 139h1v15h-1zM142 140h1v17h-1zM143 139h1v16h-1zM144 5h1v1h-1zM144 139h1v15h-1zM145 5h1v1h-1zM145 138h1v15h-1zM146 140h1v17h-1zM147 141h1v17h-1zM148 6h1v1h-1zM148 141h1v18h-1zM149 141h1v17h-1zM150 140h1v16h-1zM151 139h1v16h-1zM152 141h1v18h-1zM153 8h1v1h-1zM153 140h1v17h-1zM154 142h1v18h-1zM155 9h1v1h-1zM155 139h1v15h-1zM156 9h1v1h-1zM156 141h1v18h-1zM157 140h1v17h-1z"/>
<path fill="#58ffa7" d="M0 9h1v1h-1zM0 157h1v3h-1zM1 10h1v1h-1zM1 156h1v4h-1zM2 156h1v4h-1zM3 12h1v1h-1zM3 158h1v2h-1zM4 11h1v1h-1zM5 11h1v1h-1zM5 158h1v2h-1zM7 155h1v5h-1zM8 10h1v1h-1zM8 156h1v4h-1zM9 11h1v1h-1zM9 156h1v4h-1zM10 11h1v1h-1zM10 159h1v1h-1zM11 10h1v1h-1zM12 155h1v5h-1zM13 12h1v1h-1zM13 154h1v6h-1zM14 0h1v3h-1zM15 0h1v3h-1zM15 157h1v3h-1zM16 0h1v3h-1zM16 154h1v6h-1zM17 0h1v3h-1zM18 153h1v7h-1zM19 159h1v1h-1zM21 154h1v6h-1zM22 157h1v3h-1zM24 155h1v5h-1zM26 153h1v7h-1zM27 13h1v1h-1zM28 13h1v1h-1zM28 157h1v3h-1zM29 12h1v1h-1zM29 159h1v1h-1zM30 12h1v1h-1zM30 157h1v3h-1zM31 155h1v5h-1zM32 14h1v1h-1zM33 13h1v1h-1zM33 156h1v4h-1zM34 12h1v1h-1zM34 159h1v1h-1zM36 11h1v2h-1zM36 158h1v2h-1zM37 11h1v1h-1zM38 10h1v1h-1zM39 155h1v5h-1zM40 12h1v1h-1zM40 158h1v2h-1zM41 155h1v5h-1zM42 157h1v3h-1zM43 9h1v1h-1zM45 11h1v1h-1zM46 11h1v1h-1zM46 157h1v3h-1zM47 12h1v1h-1zM47 158h1v2h-1zM49 10h1v1h-1zM49 155h1v5h-1zM50 10h1v1h-1zM52 157h1v3h-1zM53 152h1v8h-1zM54 12h1v1h-1zM54 157h1v3h-1zM55 12h1v1h-1zM56 156h1v4h-1zM57 10h1v3h-1zM57 156h1v4h-1zM58 155h1v5h-1zM59 159h1v1h-1zM60 8h1v1h-1zM61 7h1v1h-1zM61 157h1v3h-1zM62 6h1v1h-1zM62 157h1v3h-1zM63 153h1v7h-1zM64 152h1v8h-1zM66 159h1v1h-1zM67 158h1v2h-1zM68 158h1v2h-1zM69 156h1v4h-1zM70 156h1v4h-1zM71 157h1v3h-1zM72 154h1v6h-1zM73 158h1v2h-1zM74 3h1v1h-1zM75 3h1v1h-1zM78 11h1v1h-1zM79 12h1v1h-1zM79 156h1v4h-1zM80 157h1v3h-1zM81 159h1v1h-1zM82 9h1v1h-1zM84 9h1v1h-1zM85 153h1v7h-1zM86 11h1v1h-1zM87 11h1v1h-1zM87 157h1v3h-1zM88 156h1v4h-1zM89 13h1v1h-1zM89 157h1v3h-1zM90 159h1v1h-1zM91 156h1v4h-1zM93 156h1v4h-1zM94 154h1v6h-1zM96 11h1v1h-1zM97 157h1v3h-1zM98 4h1v1h-1zM98 155h1v5h-1zM99 0h1v2h-1zM99 154h1v6h-1zM100 0h1v1h-1zM100 156h1v4h-1zM101 0h1v1h-1zM102 0h1v2h-1zM103 0h1v2h-1zM103 157h1v3h-1zM104 0h1v2h-1zM104 157h1v3h-1zM105 4h1v1h-1zM106 4h1v1h-1zM106 158h1v2h-1zM107 157h1v3h-1zM108 3h1v1h-1zM108 155h1v5h-1zM110 4h1v1h-1zM110 156h1v4h-1zM111 5h1v2h-1zM112 159h1v1h-1zM113 158h1v2h-1zM114 153h1v7h-1zM115 5h1v1h-1zM115 148h1v12h-1zM116 157h1v3h-1zM117 6h1v1h-1zM117 156h1v4h-1zM118 7h1v1h-1zM118 155h1v5h-1zM120 9h1v1h-1zM120 156h1v4h-1zM121 10h1v1h-1zM122 3h1v8h-1zM122 153h1v7h-1zM123 154h1v6h-1zM124 3h1v7h-1zM124 156h1v4h-1zM125 10h1v1h-1zM126 12h1v1h-1zM126 153h1v7h-1zM127 157h1v3h-1zM128 11h1v1h-1zM128 157h1v3h-1zM129 4h1v1h-1zM129 156h1v4h-1zM131 8h1v1h-1zM131 157h1v3h-1zM132 6h1v1h-1zM132 155h1v5h-1zM133 9h1v1h-1zM133 157h1v3h-1zM134 6h1v1h-1zM134 157h1v3h-1zM135 5h1v1h-1zM136 4h1v1h-1zM136 156h1v4h-1zM137 4h1v1h-1zM137 157h1v3h-1zM138 158h1v2h-1zM139 2h1v2h-1zM139 159h1v1h-1zM140 155h1v5h-1zM141 154h1v6h-1zM142 4h1v1h-1zM142 157h1v3h-1zM143 4h1v1h-1zM143 155h1v5h-1zM144 154h1v6h-1zM145 153h1v7h-1zM146 4h1v1h-1zM146 157h1v3h-1zM147 4h1v1h-1zM147 158h1v2h-1zM148 5h1v1h-1zM148 159h1v1h-1zM149 7h1v1h-1zM149 158h1v2h-1zM150 7h1v1h-1zM150 156h1v4h-1zM151 6h1v1h-1zM151 155h1v5h-1zM152 6h1v1h-1zM152 159h1v1h-1zM153 157h1v3h-1zM154 8h1v1h-1zM155 154h1v6h-1zM156 159h1v1h-1zM157 9h1v1h-1zM157 157h1v3h-1z"/>
<path fill="#68ff97" d="M0 7h1v2h-1zM1 8h1v2h-1zM2 9h1v2h-1zM4 10h1v1h-1zM5 10h1v1h-1zM6 9h1v2h-1zM7 8h1v1h-1zM8 9h1v1h-1zM10 10h1v1h-1zM11 9h1v1h-1zM12 10h1v2h-1zM13 7h1v5h-1zM26 5h1v7h-1zM27 10h1v3h-1zM28 8h1v5h-1zM29 10h1v2h-1zM30 9h1v3h-1zM31 13h1v1h-1zM32 13h1v1h-1zM33 12h1v1h-1zM34 11h1v1h-1zM35 10h1v3h-1zM36 3h1v8h-1zM37 7h1v4h-1zM38 9h1v1h-1zM39 7h1v1h-1zM40 11h1v1h-1zM41 13h1v1h-1zM42 9h1v3h-1zM43 8h1v1h-1zM44 6h1v1h-1zM46 10h1v1h-1zM48 10h1v2h-1zM49 9h1v1h-1zM50 8h1v2h-1zM51 9h1v2h-1zM52 11h1v1h-1zM53 11h1v2h-1zM54 11h1v1h-1zM55 11h1v1h-1zM56 12h1v1h-1zM57 6h1v4h-1zM58 6h1v2h-1zM59 7h1v1h-1zM60 6h1v2h-1zM61 6h1v1h-1zM62 5h1v1h-1zM72 1h1v1h-1zM74 2h1v1h-1zM75 2h1v1h-1zM76 3h1v3h-1zM77 5h1v4h-1zM78 8h1v3h-1zM79 10h1v2h-1zM80 9h1v3h-1zM81 8h1v3h-1zM82 7h1v2h-1zM83 6h1v2h-1zM84 8h1v1h-1zM85 8h1v3h-1zM86 10h1v1h-1zM87 6h1v5h-1zM88 8h1v4h-1zM89 11h1v2h-1zM96 5h1v6h-1zM97 3h1v1h-1zM105 3h1v1h-1zM106 3h1v1h-1zM111 3h1v2h-1zM112 4h1v2h-1zM113 4h1v1h-1zM114 4h1v1h-1zM116 7h1v1h-1zM117 5h1v1h-1zM118 6h1v1h-1zM122 0h1v3h-1zM125 5h1v5h-1zM126 4h1v8h-1zM127 7h1v5h-1zM128 3h1v8h-1zM130 4h1v3h-1zM131 6h1v2h-1zM132 5h1v1h-1zM133 8h1v1h-1zM134 4h1v2h-1zM135 4h1v1h-1zM138 4h1v1h-1zM142 3h1v1h-1zM143 3h1v1h-1zM144 3h1v2h-1zM145 3h1v2h-1zM148 4h1v1h-1zM149 6h1v1h-1zM150 5h1v2h-1zM151 5h1v1h-1zM152 5h1v1h-1zM153 6h1v2h-1zM154 6h1v2h-1zM155 8h1v1h-1zM156 8h1v1h-1zM157 8h1v1h-1z"/>
<path fill="#78ff87" d="M0 5h1v2h-1zM1 6h1v2h-1zM2 6h1v3h-1zM3 9h1v3h-1zM4 8h1v2h-1zM5 8h1v2h-1zM6 7h1v2h-1zM7 7h1v1h-1zM8 8h1v1h-1zM9 9h1v2h-1zM10 8h1v2h-1zM11 8h1v1h-1zM12 9h1v1h-1zM13 5h1v2h-1zM26 3h1v2h-1zM27 5h1v5h-1zM28 6h1v2h-1zM29 7h1v3h-1zM30 7h1v2h-1zM31 11h1v2h-1zM32 11h1v2h-1zM33 10h1v2h-1zM34 9h1v2h-1zM35 4h1v6h-1zM36 2h1v1h-1zM37 3h1v4h-1zM38 6h1v3h-1zM39 5h1v2h-1zM40 8h1v3h-1zM41 12h1v1h-1zM42 6h1v3h-1zM43 6h1v2h-1zM44 5h1v1h-1zM45 7h1v4h-1zM46 8h1v2h-1zM47 10h1v2h-1zM48 9h1v1h-1zM49 8h1v1h-1zM50 7h1v1h-1zM51 8h1v1h-1zM52 10h1v1h-1zM53 10h1v1h-1zM54 10h1v1h-1zM55 10h1v1h-1zM56 11h1v1h-1zM57 5h1v1h-1zM59 6h1v1h-1zM60 5h1v1h-1zM61 5h1v1h-1zM73 0h1v1h-1zM74 1h1v1h-1zM75 1h1v1h-1zM76 2h1v1h-1zM77 2h1v3h-1zM78 4h1v4h-1zM79 5h1v5h-1zM80 5h1v4h-1zM81 6h1v2h-1zM82 6h1v1h-1zM84 6h1v2h-1zM85 7h1v1h-1zM86 9h1v1h-1zM87 5h1v1h-1zM88 6h1v2h-1zM89 7h1v4h-1zM95 4h1v2h-1zM96 3h1v2h-1zM97 2h1v1h-1zM98 3h1v1h-1zM107 3h1v1h-1zM108 2h1v1h-1zM110 3h1v1h-1zM112 3h1v1h-1zM116 5h1v2h-1zM118 5h1v1h-1zM119 4h1v1h-1zM121 9h1v1h-1zM125 3h1v2h-1zM126 2h1v2h-1zM127 3h1v4h-1zM128 2h1v1h-1zM129 2h1v2h-1zM130 2h1v2h-1zM131 4h1v2h-1zM132 4h1v1h-1zM133 6h1v2h-1zM137 3h1v1h-1zM138 3h1v1h-1zM142 2h1v1h-1zM143 2h1v1h-1zM144 2h1v1h-1zM145 2h1v1h-1zM149 5h1v1h-1zM150 4h1v1h-1zM151 4h1v1h-1zM152 4h1v1h-1zM153 5h1v1h-1zM154 5h1v1h-1z"/>
<path fill="#87ff78" d="M1 5h1v1h-1zM2 5h1v1h-1zM3 7h1v2h-1zM4 6h1v2h-1zM5 7h1v1h-1zM6 6h1v1h-1zM7 6h1v1h-1zM8 6h1v2h-1zM9 7h1v2h-1zM12 8h1v1h-1zM13 4h1v1h-1zM27 3h1v2h-1zM28 4h1v2h-1zM29 5h1v2h-1zM30 6h1v1h-1zM31 9h1v2h-1zM32 9h1v2h-1zM33 8h1v2h-1zM34 8h1v1h-1zM35 2h1v2h-1zM37 2h1v1h-1zM38 5h1v1h-1zM40 7h1v1h-1zM41 9h1v3h-1zM42 5h1v1h-1zM43 5h1v1h-1zM44 4h1v1h-1zM45 5h1v2h-1zM47 9h1v1h-1zM48 8h1v1h-1zM51 7h1v1h-1zM52 9h1v1h-1zM53 9h1v1h-1zM54 9h1v1h-1zM56 10h1v1h-1zM57 4h1v1h-1zM58 5h1v1h-1zM59 5h1v1h-1zM61 4h1v1h-1zM72 0h1v1h-1zM74 0h1v1h-1zM75 0h1v1h-1zM78 2h1v2h-1zM79 3h1v2h-1zM80 3h1v2h-1zM81 5h1v1h-1zM82 5h1v1h-1zM83 5h1v1h-1zM85 6h1v1h-1zM88 5h1v1h-1zM89 5h1v2h-1zM95 0h1v4h-1zM96 0h1v3h-1zM97 0h1v2h-1zM98 0h1v3h-1zM107 1h1v2h-1zM108 1h1v1h-1zM109 2h1v2h-1zM110 1h1v2h-1zM111 1h1v2h-1zM112 1h1v2h-1zM113 2h1v2h-1zM115 4h1v1h-1zM117 4h1v1h-1zM125 0h1v3h-1zM126 0h1v2h-1zM127 0h1v3h-1zM128 0h1v2h-1zM129 0h1v2h-1zM130 0h1v2h-1zM133 5h1v1h-1zM134 3h1v1h-1zM136 3h1v1h-1zM142 0h1v2h-1zM143 0h1v2h-1zM144 0h1v2h-1zM145 0h1v2h-1zM146 3h1v1h-1zM147 3h1v1h-1zM148 3h1v1h-1zM149 4h1v1h-1zM150 3h1v1h-1zM151 3h1v1h-1z"/>
<path fill="#97ff68" d="M0 4h1v1h-1zM1 4h1v1h-1zM2 4h1v1h-1zM3 6h1v1h-1zM5 6h1v1h-1zM7 5h1v1h-1zM10 7h1v1h-1zM11 7h1v1h-1zM13 3h1v1h-1zM28 3h1v1h-1zM29 4h1v1h-1zM30 5h1v1h-1zM31 8h1v1h-1zM32 8h1v1h-1zM33 7h1v1h-1zM34 7h1v1h-1zM38 4h1v1h-1zM39 4h1v1h-1zM40 6h1v1h-1zM41 7h1v2h-1zM42 4h1v1h-1zM43 4h1v1h-1zM45 4h1v1h-1zM46 7h1v1h-1zM47 8h1v1h-1zM49 7h1v1h-1zM50 6h1v1h-1zM51 6h1v1h-1zM58 4h1v1h-1zM59 4h1v1h-1zM60 4h1v1h-1zM62 4h1v1h-1zM79 2h1v1h-1zM80 2h1v1h-1zM81 4h1v1h-1zM83 4h1v1h-1zM84 5h1v1h-1zM85 5h1v1h-1zM87 4h1v1h-1zM88 4h1v1h-1zM89 4h1v1h-1zM107 0h1v1h-1zM108 0h1v1h-1zM109 0h1v2h-1zM110 0h1v1h-1zM111 0h1v1h-1zM112 0h1v1h-1zM113 0h1v2h-1zM116 4h1v1h-1zM118 4h1v1h-1zM120 8h1v1h-1zM131 3h1v1h-1zM132 3h1v1h-1zM133 4h1v1h-1zM136 0h1v3h-1zM137 0h1v3h-1zM138 0h1v3h-1zM149 3h1v1h-1zM153 4h1v1h-1zM154 4h1v1h-1z"/>
<path fill="#a7ff58" d="M0 3h1v1h-1zM3 5h1v1h-1zM4 5h1v1h-1zM6 5h1v1h-1zM9 6h1v1h-1zM12 7h1v1h-1zM26 2h1v1h-1zM27 2h1v1h-1zM29 3h1v1h-1zM30 4h1v1h-1zM31 7h1v1h-1zM32 7h1v1h-1zM40 5h1v1h-1zM41 6h1v1h-1zM45 3h1v1h-1zM48 7h1v1h-1zM52 8h1v1h-1zM53 8h1v1h-1zM55 9h1v1h-1zM57 0h1v4h-1zM58 0h1v4h-1zM59 0h1v4h-1zM60 0h1v4h-1zM61 0h1v4h-1zM62 0h1v4h-1zM81 0h1v4h-1zM82 0h1v5h-1zM83 0h1v4h-1zM84 0h1v5h-1zM85 0h1v5h-1zM86 8h1v1h-1zM87 0h1v4h-1zM88 0h1v4h-1zM89 0h1v4h-1zM105 2h1v1h-1zM106 2h1v1h-1zM131 0h1v3h-1zM132 0h1v3h-1zM134 0h1v3h-1zM146 0h1v3h-1zM147 0h1v3h-1zM148 0h1v3h-1zM149 0h1v3h-1zM150 0h1v3h-1zM151 0h1v3h-1z"/>
<path fill="#b7ff48" d="M1 3h1v1h-1zM2 3h1v1h-1zM4 4h1v1h-1zM5 5h1v1h-1zM8 5h1v1h-1zM13 0h1v3h-1zM32 6h1v1h-1zM33 6h1v1h-1zM34 6h1v1h-1zM38 3h1v1h-1zM39 3h1v1h-1zM40 4h1v1h-1zM47 7h1v1h-1zM49 6h1v1h-1zM50 5h1v1h-1zM51 5h1v1h-1zM54 8h1v1h-1zM56 9h1v1h-1zM121 8h1v1h-1zM153 0h1v4h-1zM154 0h1v4h-1z"/>
<path fill="#c7ff38" d="M1 2h1v1h-1zM2 2h1v1h-1zM3 4h1v1h-1zM6 4h1v1h-1zM7 4h1v1h-1zM9 5h1v1h-1zM10 6h1v1h-1zM11 6h1v1h-1zM12 6h1v1h-1zM26 0h1v2h-1zM27 0h1v2h-1zM31 6h1v1h-1zM34 5h1v1h-1zM41 5h1v1h-1zM46 6h1v1h-1zM48 6h1v1h-1zM52 7h1v1h-1zM53 7h1v1h-1zM54 7h1v1h-1zM86 7h1v1h-1zM105 0h1v2h-1zM106 0h1v2h-1zM114 3h1v1h-1zM115 3h1v1h-1zM117 3h1v1h-1zM120 7h1v1h-1zM135 3h1v1h-1zM152 3h1v1h-1zM155 7h1v1h-1zM156 7h1v1h-1zM157 7h1v1h-1z"/>
<path fill="#d7ff28" d="M1 0h1v2h-1zM2 0h1v2h-1zM3 3h1v1h-1zM4 3h1v1h-1zM5 4h1v1h-1zM8 4h1v1h-1zM31 5h1v1h-1zM32 5h1v1h-1zM33 5h1v1h-1zM35 1h1v1h-1zM36 1h1v1h-1zM37 1h1v1h-1zM41 4h1v1h-1zM42 3h1v1h-1zM43 3h1v1h-1zM44 3h1v1h-1zM47 6h1v1h-1zM55 8h1v1h-1zM56 8h1v1h-1zM76 1h1v1h-1zM77 1h1v1h-1zM86 6h1v1h-1zM116 3h1v1h-1zM118 3h1v1h-1zM119 3h1v1h-1zM121 7h1v1h-1zM133 3h1v1h-1z"/>
<path fill="#e7ff18" d="M30 3h1v1h-1zM52 6h1v1h-1zM53 6h1v1h-1zM54 6h1v1h-1zM86 0h1v6h-1zM120 6h1v1h-1zM121 6h1v1h-1zM133 0h1v3h-1zM155 6h1v1h-1zM156 6h1v1h-1zM157 6h1v1h-1z"/>
<path fill="#f7ff08" d="M0 2h1v1h-1zM9 4h1v1h-1zM10 5h1v1h-1zM11 5h1v1h-1zM12 5h1v1h-1zM50 4h1v1h-1zM51 4h1v1h-1zM52 0h1v6h-1zM53 0h1v6h-1zM54 0h1v6h-1zM55 7h1v1h-1zM56 7h1v1h-1zM114 1h1v2h-1zM115 1h1v2h-1zM116 1h1v2h-1zM117 1h1v2h-1zM118 1h1v2h-1zM119 1h1v2h-1zM120 2h1v4h-1zM121 3h1v3h-1zM155 5h1v1h-1zM156 5h1v1h-1zM157 5h1v1h-1z"/>
<path fill="#fff700" d="M35 0h1v1h-1zM36 0h1v1h-1zM37 0h1v1h-1zM76 0h1v1h-1zM77 0h1v1h-1zM114 0h1v1h-1zM115 0h1v1h-1zM116 0h1v1h-1zM117 0h1v1h-1zM118 0h1v1h-1zM119 0h1v1h-1zM120 0h1v2h-1zM121 0h1v3h-1zM155 0h1v5h-1zM156 0h1v5h-1zM157 0h1v5h-1z"/>
<path fill="#ffe700" d="M55 5h1v2h-1zM56 5h1v2h-1z"/>
<path fill="#ffd700" d="M10 3h1v2h-1zM11 3h1v2h-1zM12 3h1v2h-1zM45 2h1v1h-1zM55 0h1v5h-1zM56 0h1v5h-1z"/>
<path fill="#ffc700" d="M10 0h1v3h-1zM11 0h1v3h-1zM12 0h1v3h-1zM33 4h1v1h-1zM34 4h1v1h-1zM45 1h1v1h-1zM46 5h1v1h-1zM48 5h1v1h-1zM49 5h1v1h-1zM50 2h1v2h-1zM51 2h1v2h-1z"/>
<path fill="#ffb700" d="M28 2h1v1h-1zM29 2h1v1h-1zM31 4h1v1h-1zM32 4h1v1h-1zM45 0h1v1h-1zM47 5h1v1h-1zM50 0h1v2h-1zM51 0h1v2h-1zM135 2h1v1h-1zM152 2h1v1h-1z"/>
<path fill="#ffa700" d="M5 3h1v1h-1zM6 3h1v1h-1zM7 3h1v1h-1zM9 3h1v1h-1zM28 1h1v1h-1zM78 1h1v1h-1zM79 1h1v1h-1zM80 1h1v1h-1zM135 0h1v2h-1zM152 0h1v2h-1z"/>
<path fill="#ff9700" d="M3 2h1v1h-1zM4 2h1v1h-1zM8 3h1v1h-1zM28 0h1v1h-1zM29 0h1v2h-1zM42 2h1v1h-1zM43 2h1v1h-1zM44 2h1v1h-1zM78 0h1v1h-1zM79 0h1v1h-1zM80 0h1v1h-1z"/>
<path fill="#ff8700" d="M3 1h1v1h-1zM4 1h1v1h-1zM9 1h1v2h-1zM40 3h1v1h-1zM42 1h1v1h-1zM43 1h1v1h-1zM44 1h1v1h-1z"/>
<path fill="#ff7800" d="M3 0h1v1h-1zM4 0h1v1h-1zM9 0h1v1h-1zM30 2h1v1h-1zM41 3h1v1h-1zM42 0h1v1h-1zM43 0h1v1h-1zM44 0h1v1h-1z"/>
<path fill="#ff6800" d="M30 1h1v1h-1z"/>
<path fill="#ff5800" d="M0 1h1v1h-1zM30 0h1v1h-1zM46 3h1v2h-1zM47 3h1v2h-1zM48 3h1v2h-1zM49 3h1v2h-1z"/>
<path fill="#ff4800" d="M0 0h1v1h-1zM46 1h1v2h-1zM47 1h1v2h-1zM48 1h1v2h-1zM49 1h1v2h-1z"/>
<path fill="#ff3800" d="M5 2h1v1h-1zM6 2h1v1h-1zM7 2h1v1h-1zM8 2h1v1h-1zM38 2h1v1h-1zM39 2h1v1h-1zM46 0h1v1h-1zM47 0h1v1h-1zM48 0h1v1h-1zM49 0h1v1h-1z"/>
<path fill="#ff2800" d="M5 0h1v2h-1zM6 0h1v2h-1zM7 0h1v2h-1zM8 0h1v2h-1z"/>
<path fill="#ff0800" d="M38 1h1v1h-1zM39 1h1v1h-1z"/>
<path fill="#f70000" d="M31 3h1v1h-1zM32 3h1v1h-1zM33 3h1v1h-1zM34 3h1v1h-1zM38 0h1v1h-1zM39 0h1v1h-1zM40 2h1v1h-1zM41 2h1v1h-1z"/>
<path fill="#e70000" d="M31 1h1v2h-1zM32 1h1v2h-1zM33 1h1v2h-1zM34 1h1v2h-1zM40 1h1v1h-1zM41 1h1v1h-1z"/>
<path fill="#d70000" d="M31 0h1v1h-1zM32 0h1v1h-1zM33 0h1v1h-1zM34 0h1v1h-1zM40 0h1v1h-1zM41 0h1v1h-1z"/>
</g>
<g fill="none" stroke="#000" stroke-width="1" stroke-linejoin="round" shape-rendering="crispEdges">
<polyline points="74,74 75.9,73.9 77.9,74.1 79.9,77.2 82.2,79.9 84.4,81.8 86.7,80.4 89,79.2 91,79.8 93,79 95,75 96.9,72 98.5,76 100,77 102.3,77.5 104.7,80.5 106.3,78.9 108,77 109.7,79.5 111.3,80.5 113.2,82.7 115.2,82.4 116.8,79.2 118.5,74.6 120.8,75.9 123,76 125,78.8 127,79.8 128.5,83.6 130,85 132.9,77 134.8,64 137.5,73 138.8,82 141.4,73 143.3,67 144.9,68.4 146.6,70.6 148.6,72.4 150.5,73 152,79.8 154.6,83.3 157.2,84.4 159.5,86.5 161.8,86.4 164.4,80.5 166.8,83.3 169.2,87.4 171.6,89.6 174.4,88.1 177.3,84.6 180.1,81.8 181.8,83.5 183.4,84.4 186,81.2 188.7,79 191.3,75.9 193.9,69.3 195.2,79.8 197.5,83.1 199.8,85.7 202.1,80.8 204.4,78.5 206.7,72.1 208.9,64.8 210.6,73.8 212.2,79.8 214.8,81.8 217.5,82.2 220.1,82.4 222.5,80.1 224.9,79.2 227.3,76.5 229.7,78.1 232,79.2 234.3,81.3 236.6,83.7 238.6,83.4 240.5,81 242.8,81.8 245,85 247,84.5 249,82.4 251,69.3 253.6,66.7 255.9,67.9 258.2,72 260.5,70.3 262.8,68 265.4,60 266,51 266.5,36"/>
<polyline points="293.5,36 294.8,55 296,42 298,46.4 300,51 302.6,54.7 305.3,60 307.2,65.9 309.2,70.6 312,79.8 313.9,81.4 315.9,83 318.5,81.1 321.2,78.5 323.4,76.5 325.5,71.2 327.7,68.7 330.4,71.5 333,77.2 335.6,77.9 338.2,79.8 340.8,80.9 343.4,81 346.3,85 348,78.5 350,70.6 348.6,60 348.4,36"/>
<polyline points="362.8,36 362.4,63 362.4,76 364.7,78 367,81.8 369.6,76 369,72 367,68.4 365,66.7 364.4,60 367,58 369.6,53.6 370.2,51.7 371.9,53.1 373.5,53.6 375.4,51.5 377.4,49.7 380,49.2 382.7,46.4 384.6,52.3 386.2,50.5 387.9,49.7 389.9,50.8 392,51 394.6,57.6 397.2,60 399.9,53.6 402.8,50.7 405.7,49.7 407.4,53.4 409,57.6 411.3,63.1 413.6,66.7 415.9,64.6 418.2,60 420.1,60.1 422,58 424.6,61.4 427.3,65.4 428,68.7 429.6,67.3 431.3,65.4 433.9,68.7 435.8,60 436.5,52 438.5,65.4 440.4,74.6 442.4,75.6 444.4,77.8 446.4,78.3 448.3,81 450.5,78.7 452.6,77.3 454.8,74 456.8,79.9 458.8,83.7 460.7,79 462.4,81.6 464,83 466,73 466.6,60 467.3,57.6 468.6,62.8 470.3,67 472,68.4 474.7,71 476.8,64 479.6,73.9 482.3,65.6 484,62.9 485.7,61.5 487,58.7 489.7,58.1 492.3,59.4 495,60 497.7,58.3 500.3,57.1 503,57 506,57.3 508.9,58.5 511.9,58.7 514,59.7 516,60.8 517.7,57.8 519.4,56 521.1,58.4 522.9,58.7 525,62.8 527,64 529.7,67.7 532,66.2 534.3,63.7 536.6,63.6 539.3,65.6 542,70.4 544.8,72.2 547.6,71.8 549.7,70.7 551.9,72.9 554,72.5"/>
<polyline points="74,362 74.9,361.8 77.4,362.7 79.8,364.2 82.3,365 84.8,370.4 87.2,372 89,369.2 90.7,366.7 92.5,364 94.5,364.8 96.6,363.4 98.6,365.3 100.7,366.2 102.7,366 104.8,368.9 106.8,367.4 108.9,370.8 110.9,368.9 113,366.9 115,369.1 117,366.7 119.1,368.2 121.1,366 123.2,370.8 125.2,371.4 127.3,370 129.3,366.2 131.4,361 133.4,367 135.5,372 137.1,374.2 138.7,379.4 140.8,367.5 142.8,359.8 145.1,362.7 147.5,363.3 149.8,368 151.9,368 153.9,369.5 155.9,369.9 158,373.3 160.3,374.8 162.7,376.3 165,378.2 166.7,377.6 168.5,374.2 170.2,372 172.5,374 174.9,374.7 177.2,376 179.7,373.6 182.1,369.6 184.6,366.7 186.6,366.5 188.6,370.5 190.7,371.4 192.7,370 194.8,370.7 196.8,369.3 198.9,366.7 201,366.7 203,365.3 205,365.4 207,364.3 209,366 211.1,369.2 213.1,369.6 215.2,373.5 217.2,373.5 219.3,376 221.4,376.7 223.4,374.9 225.5,372 227.6,369.5 229.6,370.1 231.6,372.9 233.7,370.8 235.7,369.5 237.8,370.5 239.8,366.7 241.8,366 243.9,368.1 245.9,374.6 248,378 250,374.6 252,367.7 254,364 256,362.9 258,364.6 260,366 262.1,370 264.3,371.1 266.4,372 268.4,369 270.5,368.2 272.6,366.3 274.6,366.7 276.7,364.3 278.7,367.2 280.8,364 282.8,365 284.9,366 286.9,366.3 288.9,365.9 291,368 293,371.7 295,371.7 297,376 299.1,377.1 301.1,375.3 303.2,377.2 305.3,378 307.6,376.8 310,378.2 312,379.9 314,385.7 316,386.4 318.1,385.5 320.1,381 322.2,381.3 324.3,377.4 326.4,377.8 328.4,380.2 330.5,382.3 332.5,389 334.5,392.5 336.6,394.4 338.6,393.2 340.7,398.4 342.7,396.2 344.8,398.7 346.9,392.8 348.9,390.3 351,384.3 353.4,381.5 355.9,379.3 358.3,378.2 360.8,380.8 363.2,387.2 365.2,385.4 367.3,387.6 369.3,387.2 371.4,389.4 373.4,394.4 375.4,396.8 377.5,400.7 379.5,397.8 381.6,397.3 383.6,392.5 385.7,391.5 387.7,391 389.8,389.7 391.9,392.9 393.9,391.6 396,394.6 398,391.5 400,393.3 402,391.3 404,388.4 406.1,388 408.1,388.5 410.2,391.6 412.3,391.3 414.8,391.2 417.2,387.2 419.4,388.3 421.5,394.1 423.7,394.6 425.4,394.2 427,390.9 428.7,388.4 430.4,392.2 432,396.6 434.4,387.7 436.8,382.3 438.9,379.3 440.9,382.4 443,379.4 444.6,387.4 446.2,397.8 447.9,399.7 449.5,398.7 451.2,400.7 453.2,396 455.3,388.4 457.3,385.2 459.4,380.3 461.4,376.2 463.4,374 465.5,375.6 467.5,373.4 469.6,376 471.6,379 473.7,384.3 475.7,381.5 477.8,379.7 479.8,375.6 481.8,372 483.8,370.8 485.9,373.4 487.9,370 490,368.9 492,370.8 494.1,372.4 496.2,376 498.2,379.9 500.3,384.3 502.4,374.7 504.4,369 506.4,367.9 508.5,369.1 510.5,370 511.9,376.5 513.4,382.3 515.8,379 518.3,378.4 520.7,377.4 522.8,376.9 524.8,375.1 526.9,370.8 529.3,376.2 531.8,380.3 533.5,378.8 535.3,376 537,373.3 539.1,372.4 541.1,372.6 543.2,373.2 545.3,376 547.3,378.3 549.4,377.8 551.4,377.4 552.7,377.7 554,374"/>
<polyline points="267,36 267.5,60 269,76 270.5,60 271,36"/>
<polyline points="274,36 274.5,55 276.5,64 278.5,55 279,36"/>
<polyline points="74,40 78,41 79,37 82,36"/>
<polyline points="88,36 89,41 93,43 96,47 99,46 101,42 104,41 105,36"/>
<polyline points="166,36 168,46 172,48.5 175,51 178,48 180.5,45 181,36"/>
<polyline points="187,36 188,44 191,46 197,47 200,48 203,46 205,36"/>
<polyline points="213,36 214,50 218,52 220.5,54 223,51 225,50 226,36"/>
<polyline points="129,36 130,44 133,47 134,36"/>
<polyline points="138,36 139,45 142,47 143,40 146,40"/>
<polyline points="397,63 397.5,77 399,77 399.5,60"/>
<polyline points="447,36 449,44 452,45 454,36"/>
<polyline points="498,36 500,42 506,43 508,36"/>
<polygon points="258,179 265,177 272.5,178 278.7,167.7 286.9,163.6 293,166.5 299,165.7 305.3,171.8 309.4,178 304,176.5 299,178 295,175.5 291,176 287,180 282.8,182 278,179.5 274.6,182 272.5,178 265,180.5"/>
<polygon points="351,172 353,166 356,165.7 359,170 362,178 363,188 360,190 358,184 354,183 351,178"/>
<polygon points="373.4,180 378,178 384,181 390,179 396,183 394,190 388,188 383,192 378,190 375,186"/>
<polygon points="402,178 406,176 410,180 414,177 418.4,182 417,190 412,186 408,192 404,188"/>
<polygon points="426.6,184 432,182 438,186 445,184 453,188 450,194 443,191 436,194 430,190"/>
<polygon points="471.6,176 478,174 485,177 492,175 502,178 498,182 488,180 480,182 474,180"/>
<polygon points="512.5,179 518,178 527,180 524,183 516,182.5"/>
<polygon points="531,179 538,178 545,179.5 540,181 534,181"/>
<polygon points="182,180 186,178 190,181 187,184 183,183"/>
<polygon points="194,180 198,179 200,182 196,184"/>
<polygon points="223,179 226,177.5 229,180 226,182.5"/>
</g>
<g shape-rendering="crispEdges" fill="#fff">
<rect x="92" y="276" width="3.04" height="82"/>
<rect x="104.17" y="216" width="3.04" height="23.5"/>
<rect x="116.34" y="456.5" width="3.04" height="59.5"/>
<rect x="143.72" y="167.7" width="3.04" height="190.3"/>
<rect x="158.93" y="167.7" width="3.04" height="348.3"/>
<rect x="168.05" y="167.7" width="3.04" height="71.8"/>
<rect x="79.83" y="396.6" width="3.04" height="22.4"/>
<rect x="201.51" y="396.6" width="3.04" height="22.4"/>
<rect x="210.64" y="216" width="3.04" height="144"/>
<rect x="228.89" y="276" width="3.04" height="23"/>
<rect x="238.02" y="396.6" width="3.04" height="119.4"/>
<rect x="244.1" y="109.6" width="3.04" height="69.9"/>
<rect x="277.56" y="276" width="3.04" height="84"/>
<rect x="307.98" y="504" width="3.04" height="12"/>
<rect x="317.11" y="109.6" width="3.04" height="69.9"/>
<rect x="329.28" y="396.6" width="3.04" height="22.4"/>
<rect x="332.32" y="504" width="3.04" height="12"/>
<rect x="371.87" y="504" width="3.04" height="12"/>
<rect x="405.33" y="504" width="3.04" height="12"/>
<rect x="508.76" y="504" width="3.04" height="12"/>
<rect x="539.18" y="504" width="3.04" height="12"/>
<rect x="508.76" y="38" width="3.04" height="39"/>
<rect x="164.8" y="37" width="4.7" height="8.7"/>
<rect x="191.8" y="37" width="4.7" height="8"/>
<rect x="463" y="38" width="3" height="7"/>
<rect x="518" y="38" width="3" height="7"/>
</g>
<g fill="none" stroke="#000" stroke-width="1">
<path shape-rendering="crispEdges" d="M306.5 40.5h7M310.5 36.5v7M312.5 44.5h7M316.5 40.5v7M318.5 41.5h7M322.5 37.5v7M323.5 47.5h7M327.5 43.5v7M71.5 77.5h7M75.5 73.5v7M104.5 78.5h7M108.5 74.5v7M127.5 65.5h7M131.5 61.5v7M142.5 79.5h7M146.5 75.5v7M118.5 101.5h7M122.5 97.5v7M129.5 42.5h7M133.5 38.5v7M138.5 42.5h7M142.5 38.5v7M395.5 46.5h7M399.5 42.5v7M420.5 53.5h7M424.5 49.5v7M461.5 58.5h7M465.5 54.5v7M278.5 56.5h7M282.5 52.5v7M299.5 54.5h7M303.5 50.5v7M374.5 74.5h7M378.5 70.5v7M486.5 68.5h7M490.5 64.5v7M516.5 62.5h7M520.5 58.5v7M133.5 180.5h7M137.5 176.5v7M152.5 180.5h7M156.5 176.5v7M178.5 182.5h7M182.5 178.5v7M190.5 182.5h7M194.5 178.5v7M219.5 180.5h7M223.5 176.5v7M260.5 182.5h7M264.5 178.5v7M261.5 170.5h7M265.5 166.5v7M279.5 164.5h7M283.5 160.5v7M316.5 180.5h7M320.5 176.5v7M331.5 182.5h7M335.5 178.5v7M357.5 182.5h7M361.5 178.5v7M370.5 185.5h7M374.5 181.5v7M386.5 182.5h7M390.5 178.5v7M404.5 178.5h7M408.5 174.5v7M427.5 182.5h7M431.5 178.5v7M414.5 187.5h7M418.5 183.5v7M435.5 190.5h7M439.5 186.5v7M445.5 191.5h7M449.5 187.5v7M470.5 180.5h7M474.5 176.5v7M478.5 179.5h7M482.5 175.5v7M486.5 178.5h7M490.5 174.5v7M498.5 176.5h7M502.5 172.5v7M509.5 180.5h7M513.5 176.5v7M535.5 180.5h7M539.5 176.5v7M84.5 369.5h7M88.5 365.5v7M140.5 368.5h7M144.5 364.5v7M237.5 370.5h7M241.5 366.5v7"/>
</g>
<g font-family="Liberation Sans, sans-serif" fill="#000" font-size="10"><text x="305" y="45">34.5</text><text x="311" y="48">34.5</text><text x="315" y="41">34.5</text><text x="318" y="46">34.5</text><text x="75.8" y="73.2">34.5</text><text x="110.6" y="73.2">34.5</text><text x="132" y="61">34.5</text><text x="140" y="53">34.5</text><text x="151" y="66.7">34.5</text><text x="146" y="75">34.5</text><text x="123.7" y="96.8">34.5</text><text x="267.3" y="52.3">34.5</text><text x="306" y="51">34.5</text><text x="377.4" y="69.3">34.5</text><text x="400.5" y="41.8">34.5</text><text x="425.4" y="49">34.5</text><text x="468.6" y="53.6">34.5</text><text x="486.4" y="61.5">34.5</text><text x="519.4" y="53.2">34.5</text><text x="521.5" y="40.2">34.5</text><text x="310" y="42">34.5</text><text x="222" y="42">35</text><text x="138.7" y="176">34</text><text x="158" y="176">34</text><text x="183.7" y="178">34</text><text x="196" y="178">34</text><text x="224.7" y="176">34</text><text x="267.2" y="165.7">34</text><text x="284.8" y="160.4">34</text><text x="265.6" y="178">34</text><text x="321.5" y="176">34</text><text x="336.6" y="178">34</text><text x="363" y="178">34</text><text x="375.5" y="180.8">34</text><text x="391.8" y="178">34</text><text x="410" y="174">34</text><text x="432.7" y="178">34</text><text x="420.5" y="183.3">34</text><text x="441" y="186">34</text><text x="451" y="187.4">34</text><text x="475.7" y="176">34</text><text x="484" y="175">34</text><text x="492" y="174">34</text><text x="504.4" y="172">34</text><text x="514.6" y="176">34</text><text x="541" y="176">34</text><text x="90.5" y="365">34.5</text><text x="145.7" y="364">34.5</text><text x="242.7" y="366">34.5</text></g>
</g>
<g shape-rendering="crispEdges" stroke="#000" stroke-width="1" fill="none">
<rect x="74.5" y="36.5" width="480" height="480"/>
<line x1="102.5" y1="516" x2="102.5" y2="511"/>
<line x1="132.5" y1="516" x2="132.5" y2="511"/>
<line x1="163.5" y1="516" x2="163.5" y2="511"/>
<line x1="193.5" y1="516" x2="193.5" y2="511"/>
<line x1="224.5" y1="516" x2="224.5" y2="511"/>
<line x1="254.5" y1="516" x2="254.5" y2="511"/>
<line x1="284.5" y1="516" x2="284.5" y2="511"/>
<line x1="315.5" y1="516" x2="315.5" y2="511"/>
<line x1="345.5" y1="516" x2="345.5" y2="511"/>
<line x1="376.5" y1="516" x2="376.5" y2="511"/>
<line x1="406.5" y1="516" x2="406.5" y2="511"/>
<line x1="437.5" y1="516" x2="437.5" y2="511"/>
<line x1="467.5" y1="516" x2="467.5" y2="511"/>
<line x1="497.5" y1="516" x2="497.5" y2="511"/>
<line x1="528.5" y1="516" x2="528.5" y2="511"/>
<line x1="162.5" y1="36" x2="162.5" y2="34"/>
<line x1="170.5" y1="36" x2="170.5" y2="34"/>
<line x1="376.5" y1="36" x2="376.5" y2="32"/>
<line x1="513.5" y1="36" x2="513.5" y2="34"/>
</g>
<g shape-rendering="crispEdges">
<rect x="569" y="508.5" width="20" height="7.8" fill="#000087"/>
<rect x="569" y="501" width="20" height="7.8" fill="#000097"/>
<rect x="569" y="493.5" width="20" height="7.8" fill="#0000a7"/>
<rect x="569" y="486" width="20" height="7.8" fill="#0000b7"/>
<rect x="569" y="478.5" width="20" height="7.8" fill="#0000c7"/>
<rect x="569" y="471" width="20" height="7.8" fill="#0000d7"/>
<rect x="569" y="463.5" width="20" height="7.8" fill="#0000e7"/>
<rect x="569" y="456" width="20" height="7.8" fill="#0000f7"/>
<rect x="569" y="448.5" width="20" height="7.8" fill="#0008ff"/>
<rect x="569" y="441" width="20" height="7.8" fill="#0018ff"/>
<rect x="569" y="433.5" width="20" height="7.8" fill="#0028ff"/>
<rect x="569" y="426" width="20" height="7.8" fill="#0038ff"/>
<rect x="569" y="418.5" width="20" height="7.8" fill="#0048ff"/>
<rect x="569" y="411" width="20" height="7.8" fill="#0058ff"/>
<rect x="569" y="403.5" width="20" height="7.8" fill="#0068ff"/>
<rect x="569" y="396" width="20" height="7.8" fill="#0078ff"/>
<rect x="569" y="388.5" width="20" height="7.8" fill="#0087ff"/>
<rect x="569" y="381" width="20" height="7.8" fill="#0097ff"/>
<rect x="569" y="373.5" width="20" height="7.8" fill="#00a7ff"/>
<rect x="569" y="366" width="20" height="7.8" fill="#00b7ff"/>
<rect x="569" y="358.5" width="20" height="7.8" fill="#00c7ff"/>
<rect x="569" y="351" width="20" height="7.8" fill="#00d7ff"/>
<rect x="569" y="343.5" width="20" height="7.8" fill="#00e7ff"/>
<rect x="569" y="336" width="20" height="7.8" fill="#00f7ff"/>
<rect x="569" y="328.5" width="20" height="7.8" fill="#08fff7"/>
<rect x="569" y="321" width="20" height="7.8" fill="#18ffe7"/>
<rect x="569" y="313.5" width="20" height="7.8" fill="#28ffd7"/>
<rect x="569" y="306" width="20" height="7.8" fill="#38ffc7"/>
<rect x="569" y="298.5" width="20" height="7.8" fill="#48ffb7"/>
<rect x="569" y="291" width="20" height="7.8" fill="#58ffa7"/>
<rect x="569" y="283.5" width="20" height="7.8" fill="#68ff97"/>
<rect x="569" y="276" width="20" height="7.8" fill="#78ff87"/>
<rect x="569" y="268.5" width="20" height="7.8" fill="#87ff78"/>
<rect x="569" y="261" width="20" height="7.8" fill="#97ff68"/>
<rect x="569" y="253.5" width="20" height="7.8" fill="#a7ff58"/>
<rect x="569" y="246" width="20" height="7.8" fill="#b7ff48"/>
<rect x="569" y="238.5" width="20" height="7.8" fill="#c7ff38"/>
<rect x="569" y="231" width="20" height="7.8" fill="#d7ff28"/>
<rect x="569" y="223.5" width="20" height="7.8" fill="#e7ff18"/>
<rect x="569" y="216" width="20" height="7.8" fill="#f7ff08"/>
<rect x="569" y="208.5" width="20" height="7.8" fill="#fff700"/>
<rect x="569" y="201" width="20" height="7.8" fill="#ffe700"/>
<rect x="569" y="193.5" width="20" height="7.8" fill="#ffd700"/>
<rect x="569" y="186" width="20" height="7.8" fill="#ffc700"/>
<rect x="569" y="178.5" width="20" height="7.8" fill="#ffb700"/>
<rect x="569" y="171" width="20" height="7.8" fill="#ffa700"/>
<rect x="569" y="163.5" width="20" height="7.8" fill="#ff9700"/>
<rect x="569" y="156" width="20" height="7.8" fill="#ff8700"/>
<rect x="569" y="148.5" width="20" height="7.8" fill="#ff7800"/>
<rect x="569" y="141" width="20" height="7.8" fill="#ff6800"/>
<rect x="569" y="133.5" width="20" height="7.8" fill="#ff5800"/>
<rect x="569" y="126" width="20" height="7.8" fill="#ff4800"/>
<rect x="569" y="118.5" width="20" height="7.8" fill="#ff3800"/>
<rect x="569" y="111" width="20" height="7.8" fill="#ff2800"/>
<rect x="569" y="103.5" width="20" height="7.8" fill="#ff1800"/>
<rect x="569" y="96" width="20" height="7.8" fill="#ff0800"/>
<rect x="569" y="88.5" width="20" height="7.8" fill="#f70000"/>
<rect x="569" y="81" width="20" height="7.8" fill="#e70000"/>
<rect x="569" y="73.5" width="20" height="7.8" fill="#d70000"/>
<rect x="569" y="66" width="20" height="7.8" fill="#c70000"/>
<rect x="569" y="58.5" width="20" height="7.8" fill="#b70000"/>
<rect x="569" y="51" width="20" height="7.8" fill="#a70000"/>
<rect x="569" y="43.5" width="20" height="7.8" fill="#970000"/>
<rect x="569" y="36" width="20" height="7.8" fill="#870000"/>
<rect x="569.5" y="36.5" width="20" height="480" fill="none" stroke="#000"/>
<line x1="569" y1="512.5" x2="574" y2="512.5" stroke="#000"/>
<line x1="590" y1="512.5" x2="584" y2="512.5" stroke="#000"/>
<line x1="569" y1="440.5" x2="574" y2="440.5" stroke="#000"/>
<line x1="590" y1="440.5" x2="584" y2="440.5" stroke="#000"/>
<line x1="569" y1="368.5" x2="574" y2="368.5" stroke="#000"/>
<line x1="590" y1="368.5" x2="584" y2="368.5" stroke="#000"/>
<line x1="569" y1="297.5" x2="574" y2="297.5" stroke="#000"/>
<line x1="590" y1="297.5" x2="584" y2="297.5" stroke="#000"/>
<line x1="569" y1="225.5" x2="574" y2="225.5" stroke="#000"/>
<line x1="590" y1="225.5" x2="584" y2="225.5" stroke="#000"/>
<line x1="569" y1="153.5" x2="574" y2="153.5" stroke="#000"/>
<line x1="590" y1="153.5" x2="584" y2="153.5" stroke="#000"/>
<line x1="569" y1="81.5" x2="574" y2="81.5" stroke="#000"/>
<line x1="590" y1="81.5" x2="584" y2="81.5" stroke="#000"/>
</g>
<g font-family="Liberation Sans, sans-serif" fill="#000"><text x="246.7" y="21.7" font-size="16" text-anchor="start" font-weight="bold"  textLength="134.4" lengthAdjust="spacing">Salinity | Salinité</text><text x="294.8" y="546.5" font-size="14" text-anchor="start" font-weight="bold"  textLength="39.5" lengthAdjust="spacing">Cycle</text><text x="-93.5" y="0" font-size="15" text-anchor="start" font-weight="bold" transform="translate(34 275.8) rotate(-90)" textLength="186.9" lengthAdjust="spacing">Pressure / Pression (dbar)</text><text x="71.3" y="40.8" font-size="13" text-anchor="end" font-weight="normal" >0</text><text x="71.3" y="88.8" font-size="13" text-anchor="end" font-weight="normal" >200</text><text x="71.3" y="136.8" font-size="13" text-anchor="end" font-weight="normal" >400</text><text x="71.3" y="184.8" font-size="13" text-anchor="end" font-weight="normal" >600</text><text x="71.3" y="232.8" font-size="13" text-anchor="end" font-weight="normal" >800</text><text x="71.3" y="280.8" font-size="13" text-anchor="end" font-weight="normal" >1000</text><text x="71.3" y="328.8" font-size="13" text-anchor="end" font-weight="normal" >1200</text><text x="71.3" y="376.8" font-size="13" text-anchor="end" font-weight="normal" >1400</text><text x="71.3" y="424.8" font-size="13" text-anchor="end" font-weight="normal" >1600</text><text x="71.3" y="472.8" font-size="13" text-anchor="end" font-weight="normal" >1800</text><text x="71.3" y="520.8" font-size="13" text-anchor="end" font-weight="normal" >2000</text><text x="102.7" y="530.9" font-size="13" text-anchor="middle" font-weight="normal" >10</text><text x="133.12" y="530.9" font-size="13" text-anchor="middle" font-weight="normal" >20</text><text x="163.54" y="530.9" font-size="13" text-anchor="middle" font-weight="normal" >30</text><text x="193.96" y="530.9" font-size="13" text-anchor="middle" font-weight="normal" >40</text><text x="224.38" y="530.9" font-size="13" text-anchor="middle" font-weight="normal" >50</text><text x="254.8" y="530.9" font-size="13" text-anchor="middle" font-weight="normal" >60</text><text x="285.22" y="530.9" font-size="13" text-anchor="middle" font-weight="normal" >70</text><text x="315.64" y="530.9" font-size="13" text-anchor="middle" font-weight="normal" >80</text><text x="346.06" y="530.9" font-size="13" text-anchor="middle" font-weight="normal" >90</text><text x="376.48" y="530.9" font-size="13" text-anchor="middle" font-weight="normal" >100</text><text x="406.9" y="530.9" font-size="13" text-anchor="middle" font-weight="normal" >110</text><text x="437.32" y="530.9" font-size="13" text-anchor="middle" font-weight="normal" >120</text><text x="467.74" y="530.9" font-size="13" text-anchor="middle" font-weight="normal" >130</text><text x="498.16" y="530.9" font-size="13" text-anchor="middle" font-weight="normal" >140</text><text x="528.58" y="530.9" font-size="13" text-anchor="middle" font-weight="normal" >150</text><text x="592.9" y="516.25" font-size="12" text-anchor="start" font-weight="normal" >34</text><text x="592.9" y="444.426" font-size="12" text-anchor="start" font-weight="normal" >34.2</text><text x="592.9" y="372.602" font-size="12" text-anchor="start" font-weight="normal" >34.4</text><text x="592.9" y="300.778" font-size="12" text-anchor="start" font-weight="normal" >34.6</text><text x="592.9" y="228.954" font-size="12" text-anchor="start" font-weight="normal" >34.8</text><text x="592.9" y="157.13" font-size="12" text-anchor="start" font-weight="normal" >35</text><text x="592.9" y="85.3055" font-size="12" text-anchor="start" font-weight="normal" >35.2</text><text x="570.9" y="27" font-size="10" text-anchor="start" font-weight="normal" >psu</text><text x="77.9" y="581.5" font-size="14" text-anchor="start" font-weight="bold"  textLength="157.6" lengthAdjust="spacing">Float/Profileur dérivant:</text><text x="242.7" y="581.5" font-size="14" text-anchor="start" font-weight="normal"  textLength="52.8" lengthAdjust="spacing">4900520</text><text x="77.9" y="602" font-size="14" text-anchor="start" font-weight="bold"  textLength="105.8" lengthAdjust="spacing">Period/Période:</text><text x="188.4" y="602" font-size="14" text-anchor="start" font-weight="normal"  textLength="61.5" lengthAdjust="spacing">8/12/2005</text><text x="258" y="602" font-size="14" text-anchor="start" font-weight="normal"  textLength="23.6" lengthAdjust="spacing">to/à</text><text x="289.6" y="602" font-size="14" text-anchor="start" font-weight="normal"  textLength="70" lengthAdjust="spacing">11/29/2009</text><text x="77.9" y="622" font-size="10" text-anchor="start" font-weight="normal"  textLength="260.8" lengthAdjust="spacing">Tick marks at top indicate stations with delayed mode data</text><text x="77.9" y="641.5" font-size="10" text-anchor="start" font-weight="normal"  textLength="294.9" lengthAdjust="spacing">Les traits de l'axe supérieur indiquent les données en mode différé</text><text x="453.7" y="661" font-size="10" text-anchor="start" font-weight="normal"  textLength="100" lengthAdjust="spacing">ISDM | GDSI 12/09/09</text></g>
</svg></body></html>
